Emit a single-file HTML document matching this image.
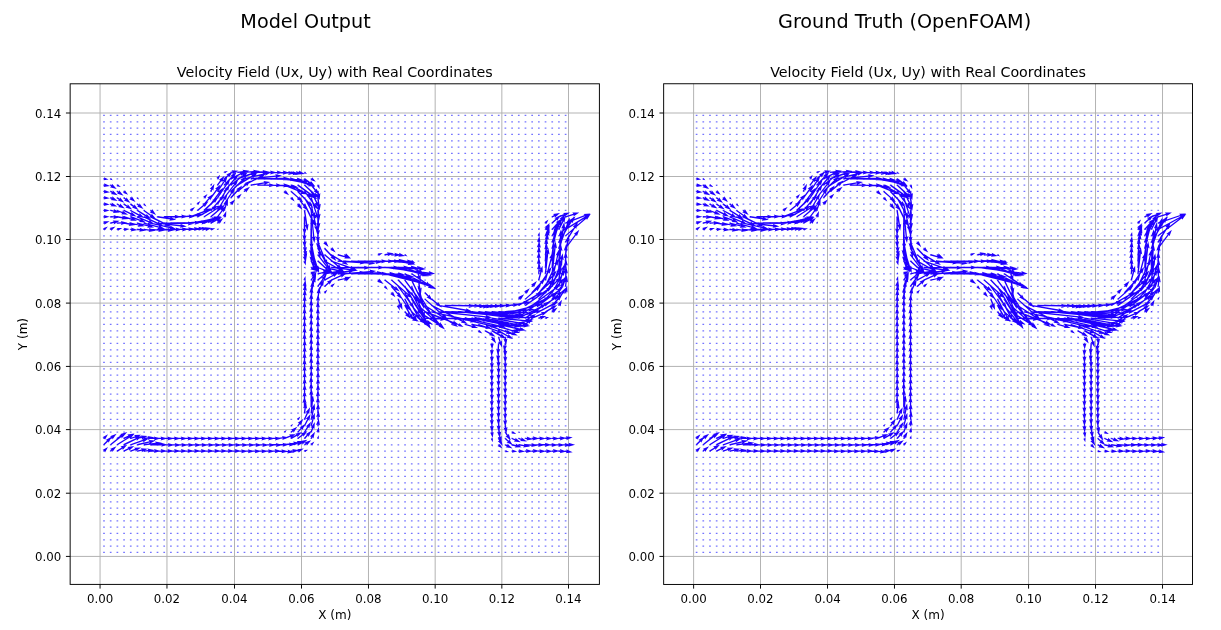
<!DOCTYPE html>
<html><head><meta charset="utf-8"><title>Velocity Field</title><style>
html,body{margin:0;padding:0;background:#fff}
body{width:1221px;height:630px;overflow:hidden}
svg{display:block}
text{font-family:"DejaVu Sans","Liberation Sans",sans-serif;fill:#000}
svg{will-change:transform}
</style></head><body>
<svg width="1221" height="630" viewBox="0 0 1221 630">
<text x="305.55" y="28" text-anchor="middle" font-size="19.2">Model Output</text>
<text x="904.6" y="28" text-anchor="middle" font-size="19.2">Ground Truth (OpenFOAM)</text>
<path d="M100.05 83.8V584.4M166.96 83.8V584.4M234.5 83.8V584.4M301.5 83.8V584.4M368.48 83.8V584.4M435.16 83.8V584.4M501.83 83.8V584.4M568.5 83.8V584.4M70.15 556.41H599.4M70.15 493.21H599.4M70.15 429.62H599.4M70.15 366.41H599.4M70.15 303.1H599.4M70.15 239.5H599.4M70.15 176.5H599.4M70.15 113H599.4" stroke="#b0b0b0" stroke-width="0.96" fill="none"/>
<path d="M103.15 552.44H567.49M103.15 546.11H567.49M103.15 539.78H567.49M103.15 533.44H567.49M103.15 527.11H567.49M103.15 520.78H567.49M103.15 514.44H567.49M103.15 508.11H567.49M103.15 501.78H567.49M103.15 495.44H567.49M103.15 489.11H567.49M103.15 482.78H567.49M103.15 476.44H567.49M103.15 470.11H567.49M103.15 463.78H567.49M103.15 457.44H567.49M103.15 451.11H567.49M103.15 444.78H567.49M103.15 438.44H567.49M103.15 432.11H567.49M103.15 425.78H567.49M103.15 419.44H567.49M103.15 413.11H567.49M103.15 406.78H567.49M103.15 400.44H567.49M103.15 394.11H567.49M103.15 387.77H567.49M103.15 381.44H567.49M103.15 375.11H567.49M103.15 368.77H567.49M103.15 362.44H567.49M103.15 356.11H567.49M103.15 349.77H567.49M103.15 343.44H567.49M103.15 337.11H567.49M103.15 330.77H567.49M103.15 324.44H567.49M103.15 318.11H567.49M103.15 311.77H567.49M103.15 305.44H567.49M103.15 299.11H567.49M103.15 292.77H567.49M103.15 286.44H567.49M103.15 280.11H567.49M103.15 273.77H567.49M103.15 267.44H567.49M103.15 261.11H567.49M103.15 254.77H567.49M103.15 248.44H567.49M103.15 242.11H567.49M103.15 235.77H567.49M103.15 229.44H567.49M103.15 223.11H567.49M103.15 216.77H567.49M103.15 210.44H567.49M103.15 204.11H567.49M103.15 197.77H567.49M103.15 191.44H567.49M103.15 185.11H567.49M103.15 178.77H567.49M103.15 172.44H567.49M103.15 166.11H567.49M103.15 159.77H567.49M103.15 153.44H567.49M103.15 147.11H567.49M103.15 140.77H567.49M103.15 134.44H567.49M103.15 128.11H567.49M103.15 121.77H567.49M103.15 115.44H567.49" stroke="#7474ff" stroke-width="1.25" stroke-dasharray="1.7 4.99" fill="none"/>
<path d="M104.2 451.5l0.4-0.4l0.4 1.3l3.0-5.5l-5.5 3.0l1.3 0.4l-0.4 0.4zM104.2 445.3l3.9-3.9l0.5 1.4l3.3-6.2l-6.2 3.3l1.4 0.5l-3.9 3.9zM104.2 438.9l0.4-0.4l0.4 1.3l3.0-5.5l-5.5 3.0l1.3 0.4l-0.4 0.4zM104.0 229.9l0.4-0.3l0.2 1.1l3.3-4.1l-5.0 1.6l1.0 0.5l-0.4 0.3zM103.9 223.7l0.6-0.2l-0.2 1.3l5.3-3.6l-6.4 0.1l0.9 1.0l-0.6 0.2zM103.7 217.4l0.6-0.0l-0.6 1.2l6.0-1.8l-6.0-1.8l0.6 1.2l-0.6 0.0zM103.7 211.0l0.6 0.0l-0.6 1.2l6.0-1.6l-5.9-1.9l0.6 1.2l-0.6-0.0zM103.7 204.7l0.6 0.0l-0.7 1.2l6.1-1.5l-5.9-2.1l0.5 1.2l-0.6-0.0zM103.7 198.4l0.6 0.0l-0.7 1.2l6.2-1.4l-6.0-2.3l0.5 1.3l-0.6-0.0zM103.7 192.1l0.6 0.1l-0.8 1.2l6.5-1.2l-6.1-2.5l0.5 1.3l-0.6-0.1zM103.7 185.7l0.6 0.1l-0.8 1.2l6.6-1.1l-6.1-2.7l0.5 1.4l-0.6-0.1zM103.7 179.3l0.5 0.1l-0.6 0.9l5.0-0.9l-4.7-2.1l0.4 1.0l-0.5-0.1zM110.9 451.6l1.3-1.1l0.3 1.5l4.0-5.8l-6.5 2.7l1.4 0.6l-1.3 1.1zM110.9 445.3l10.5-8.4l0.3 1.5l4.0-5.8l-6.5 2.6l1.4 0.6l-10.5 8.4zM110.9 439.0l1.3-1.0l0.3 1.5l4.1-5.8l-6.6 2.6l1.4 0.6l-1.3 1.0zM110.7 230.0l0.5-0.3l0.0 1.3l4.3-4.4l-6.0 1.3l1.1 0.8l-0.5 0.3zM110.6 223.8l3.4-0.9l-0.3 1.5l6.0-3.7l-7.0-0.2l1.0 1.1l-3.4 0.9zM110.4 217.4l3.6 0.2l-0.7 1.3l6.8-1.7l-6.6-2.3l0.6 1.4l-3.6-0.2zM110.3 211.1l3.5 0.7l-0.9 1.2l7.0-0.6l-6.2-3.4l0.4 1.5l-3.5-0.7zM110.2 204.7l1.3 0.5l-1.1 1.1l7.0 0.3l-5.7-4.1l0.2 1.5l-1.3-0.5zM110.2 198.4l1.6 0.7l-1.2 0.9l7.0 1.0l-5.3-4.7l0.0 1.5l-1.6-0.7zM110.1 192.0l1.9 1.0l-1.2 0.9l6.9 1.4l-5.0-5.0l-0.0 1.5l-1.9-1.0zM110.1 185.7l1.1 0.7l-1.3 0.8l6.8 1.9l-4.6-5.3l-0.1 1.5l-1.1-0.7zM110.3 179.0l0.2 0.1l-0.5 0.3l2.7 0.8l-1.8-2.1l-0.1 0.6l-0.2-0.1zM117.5 451.7l5.1-3.2l0.1 1.5l4.6-5.3l-6.8 1.9l1.3 0.8l-5.1 3.2zM117.5 445.3l12.4-7.8l0.1 1.5l4.6-5.3l-6.8 1.9l1.3 0.8l-12.4 7.8zM117.5 439.0l5.1-3.2l0.1 1.5l4.6-5.3l-6.8 1.9l1.3 0.8l-5.1 3.2zM117.3 229.9l0.5-0.1l-0.2 1.2l4.7-2.9l-5.5-0.1l0.8 0.9l-0.5 0.1zM117.2 223.8l4.3-0.2l-0.6 1.4l6.7-2.3l-6.8-1.7l0.7 1.3l-4.3 0.2zM117.0 217.4l5.4 1.0l-0.9 1.2l7.0-0.7l-6.3-3.3l0.4 1.5l-5.4-1.0zM116.9 211.1l5.3 2.1l-1.1 1.0l7.0 0.6l-5.6-4.3l0.1 1.5l-5.3-2.1zM116.8 204.7l2.5 1.4l-1.3 0.8l6.9 1.6l-4.8-5.1l-0.1 1.5l-2.5-1.4zM116.7 198.3l2.3 1.6l-1.3 0.7l6.7 2.2l-4.4-5.5l-0.2 1.5l-2.3-1.6zM116.8 192.0l1.4 0.9l-1.3 0.7l6.7 2.1l-4.5-5.5l-0.2 1.5l-1.4-0.9zM116.9 185.5l0.4 0.2l-0.7 0.6l4.2 0.7l-3.2-2.9l0.0 0.9l-0.4-0.2zM124.1 451.7l5.0-2.4l-0.0 1.5l5.2-4.8l-7.0 1.1l1.2 0.9l-5.0 2.4zM124.1 445.4l12.7-6.1l-0.0 1.5l5.2-4.8l-7.0 1.1l1.2 0.9l-12.7 6.1zM124.1 439.1l5.0-2.4l-0.0 1.5l5.2-4.8l-7.0 1.1l1.2 0.9l-5.0 2.4zM123.9 230.0l0.6-0.0l-0.5 1.2l5.6-2.1l-5.9-1.3l0.7 1.1l-0.6 0.0zM123.7 223.8l5.8 0.9l-0.9 1.2l7.0-0.9l-6.3-3.1l0.5 1.4l-5.8-0.9zM123.6 217.4l7.5 2.3l-1.0 1.1l7.0 0.0l-5.9-3.9l0.3 1.5l-7.5-2.3zM123.5 211.0l7.2 3.5l-1.2 0.9l7.0 1.1l-5.2-4.8l0.0 1.5l-7.2-3.5zM123.5 204.7l3.2 2.1l-1.3 0.8l6.8 2.0l-4.5-5.4l-0.2 1.5l-3.2-2.1zM123.4 198.3l1.9 1.4l-1.4 0.7l6.6 2.5l-4.1-5.7l-0.3 1.5l-1.9-1.4zM123.5 191.9l0.4 0.3l-1.1 0.5l5.3 2.1l-3.3-4.7l-0.2 1.2l-0.4-0.3zM123.7 185.2l0.1 0.1l-0.3 0.1l1.3 0.5l-0.9-1.1l-0.0 0.3l-0.1-0.1zM130.7 451.7l4.9-1.7l-0.2 1.5l5.7-4.1l-7.0 0.3l1.1 1.1l-4.9 1.7zM130.7 445.4l12.6-4.4l-0.2 1.5l5.7-4.1l-7.0 0.3l1.1 1.1l-12.6 4.4zM130.7 439.1l4.9-1.7l-0.2 1.5l5.7-4.1l-7.0 0.3l1.1 1.1l-4.9 1.7zM130.5 230.1l0.9 0.1l-0.8 1.3l6.9-1.4l-6.5-2.6l0.5 1.4l-0.9-0.1zM130.4 223.8l8.1 1.8l-1.0 1.2l7.0-0.5l-6.2-3.4l0.4 1.5l-8.1-1.8zM130.3 217.4l9.7 3.7l-1.1 1.0l7.0 0.5l-5.6-4.3l0.2 1.5l-9.7-3.7zM130.2 211.0l8.5 4.7l-1.2 0.9l6.9 1.5l-4.9-5.0l-0.1 1.5l-8.5-4.7zM130.1 204.7l3.1 2.2l-1.3 0.7l6.7 2.3l-4.3-5.6l-0.2 1.5l-3.1-2.2zM130.1 198.3l0.5 0.4l-1.4 0.6l6.3 2.8l-3.7-5.8l-0.4 1.4l-0.5-0.4zM130.4 191.6l0.2 0.1l-0.4 0.2l2.0 1.0l-1.1-1.9l-0.1 0.4l-0.2-0.1zM137.4 451.8l4.6-1.1l-0.4 1.5l6.1-3.5l-7.0-0.5l1.0 1.2l-4.6 1.1zM137.4 445.4l12.4-2.8l-0.4 1.5l6.1-3.5l-7.0-0.5l1.0 1.2l-12.4 2.8zM137.4 439.1l4.6-1.1l-0.4 1.5l6.1-3.5l-7.0-0.5l1.0 1.2l-4.6 1.1zM137.1 230.1l2.9 0.3l-0.8 1.3l6.9-1.3l-6.5-2.7l0.5 1.4l-2.9-0.3zM137.0 223.8l11.1 2.8l-1.0 1.1l7.0-0.3l-6.1-3.6l0.3 1.5l-11.1-2.8zM136.9 217.4l11.9 5.1l-1.2 1.0l7.0 0.8l-5.4-4.5l0.1 1.5l-11.9-5.1zM136.9 211.0l8.8 5.5l-1.3 0.8l6.8 1.8l-4.7-5.3l-0.1 1.5l-8.8-5.5zM136.8 204.6l1.6 1.3l-1.4 0.6l6.5 2.6l-4.0-5.8l-0.3 1.5l-1.6-1.3zM137.0 198.0l0.2 0.2l-0.5 0.2l2.4 1.2l-1.4-2.3l-0.2 0.6l-0.2-0.2zM144.0 451.8l4.3-0.5l-0.5 1.4l6.5-2.8l-6.9-1.3l0.8 1.3l-4.3 0.5zM144.0 445.4l11.9-1.3l-0.5 1.4l6.5-2.8l-6.9-1.3l0.8 1.3l-11.9 1.3zM144.0 439.1l4.3-0.5l-0.5 1.4l6.5-2.8l-6.9-1.3l0.8 1.3l-4.3 0.5zM143.8 230.1l5.5 0.6l-0.8 1.3l6.9-1.3l-6.5-2.7l0.5 1.4l-5.5-0.6zM143.7 223.8l15.0 4.0l-1.0 1.1l7.0-0.2l-6.0-3.7l0.3 1.5l-15.0-4.0zM143.6 217.4l13.9 6.6l-1.2 0.9l7.0 1.1l-5.2-4.7l0.0 1.5l-13.9-6.6zM143.5 211.0l7.1 5.0l-1.3 0.7l6.7 2.2l-4.4-5.5l-0.2 1.5l-7.1-5.0zM143.7 204.4l0.3 0.2l-0.7 0.3l3.2 1.5l-1.9-3.0l-0.2 0.7l-0.3-0.2zM150.6 451.8l4.0 0.0l-0.7 1.3l6.8-2.0l-6.7-2.0l0.7 1.4l-4.0-0.0zM150.6 445.5l11.3-0.0l-0.7 1.3l6.7-2.0l-6.8-2.0l0.7 1.3l-11.3 0.0zM150.6 439.1l4.0-0.0l-0.7 1.4l6.7-2.0l-6.8-2.0l0.7 1.3l-4.0 0.0zM150.5 230.1l8.5 0.7l-0.8 1.3l6.9-1.5l-6.6-2.6l0.6 1.4l-8.5-0.7zM150.4 223.8l19.8 4.5l-1.0 1.2l7.0-0.5l-6.1-3.5l0.4 1.5l-19.8-4.5zM150.3 217.4l15.0 7.3l-1.2 0.9l7.0 1.1l-5.2-4.8l0.0 1.5l-15.0-7.3zM150.2 211.0l0.8 0.6l-1.4 0.6l6.5 2.7l-3.9-5.8l-0.3 1.5l-0.8-0.6zM157.3 451.8l4.0 0.0l-0.7 1.3l6.8-2.0l-6.7-2.0l0.7 1.4l-4.0-0.0zM157.3 445.5l11.3-0.0l-0.7 1.4l6.7-2.0l-6.8-2.0l0.7 1.3l-11.3 0.0zM157.3 439.1l4.0-0.0l-0.7 1.4l6.7-2.0l-6.8-2.0l0.7 1.3l-4.0 0.0zM157.3 230.1l11.0 0.5l-0.7 1.3l6.8-1.7l-6.7-2.3l0.6 1.4l-11.0-0.5zM157.2 223.8l23.5 2.6l-0.8 1.3l6.9-1.3l-6.5-2.7l0.5 1.4l-23.5-2.6zM157.2 217.4l12.9 2.1l-0.9 1.2l7.0-0.9l-6.3-3.1l0.5 1.4l-12.9-2.1zM164.0 451.8l4.0 0.0l-0.7 1.3l6.8-2.0l-6.7-2.0l0.7 1.4l-4.0-0.0zM164.0 445.5l11.4-0.0l-0.7 1.4l6.7-2.0l-6.8-2.0l0.7 1.3l-11.4 0.0zM164.0 439.1l4.0-0.0l-0.7 1.4l6.7-2.0l-6.8-2.0l0.7 1.3l-4.0 0.0zM164.0 230.1l12.1 0.1l-0.7 1.3l6.8-2.0l-6.7-2.1l0.7 1.4l-12.1-0.1zM164.0 223.8l24.5 0.3l-0.7 1.3l6.8-1.9l-6.7-2.1l0.7 1.4l-24.5-0.3zM164.0 217.4l11.1 0.1l-0.7 1.3l6.8-2.0l-6.7-2.1l0.7 1.4l-11.1-0.1zM170.7 451.8l4.0 0.0l-0.7 1.3l6.8-2.0l-6.7-2.0l0.7 1.4l-4.0-0.0zM170.7 445.5l11.4-0.0l-0.7 1.4l6.7-2.0l-6.8-2.0l0.7 1.3l-11.4 0.0zM170.7 439.1l4.0-0.0l-0.7 1.4l6.7-2.0l-6.8-2.0l0.7 1.3l-4.0 0.0zM170.7 230.1l12.0-0.1l-0.7 1.4l6.7-2.1l-6.8-1.9l0.7 1.3l-12.0 0.1zM170.7 223.8l24.6-0.5l-0.7 1.4l6.7-2.1l-6.8-1.9l0.7 1.3l-24.6 0.5zM170.7 217.4l11.3-0.2l-0.7 1.4l6.7-2.1l-6.8-1.9l0.7 1.3l-11.3 0.2zM177.4 451.8l4.1 0.0l-0.7 1.3l6.8-2.0l-6.7-2.0l0.7 1.4l-4.1-0.0zM177.4 445.5l11.5-0.0l-0.7 1.4l6.7-2.0l-6.8-2.0l0.7 1.3l-11.5 0.0zM177.4 439.1l4.1-0.0l-0.7 1.4l6.7-2.0l-6.8-2.0l0.7 1.3l-4.1 0.0zM177.4 230.1l11.5-0.2l-0.6 1.4l6.7-2.2l-6.8-1.9l0.7 1.3l-11.5 0.2zM177.4 223.8l24.7-0.8l-0.6 1.4l6.7-2.2l-6.8-1.8l0.7 1.3l-24.7 0.8zM177.4 217.4l12.0-0.3l-0.6 1.4l6.7-2.2l-6.8-1.9l0.7 1.3l-12.0 0.3zM184.0 451.8l4.1 0.0l-0.7 1.3l6.8-2.0l-6.7-2.0l0.7 1.4l-4.1-0.0zM184.1 445.5l11.5-0.0l-0.7 1.4l6.7-2.0l-6.8-2.0l0.7 1.3l-11.5 0.0zM184.1 439.1l4.1-0.0l-0.7 1.4l6.7-2.0l-6.8-2.0l0.7 1.3l-4.1 0.0zM184.1 230.1l10.5-0.4l-0.6 1.4l6.7-2.3l-6.8-1.7l0.7 1.3l-10.5 0.4zM184.1 223.8l24.4-2.0l-0.6 1.4l6.6-2.6l-6.9-1.5l0.8 1.3l-24.4 2.0zM184.1 217.4l13.8-1.5l-0.5 1.4l6.5-2.7l-6.9-1.3l0.8 1.3l-13.8 1.5zM190.7 451.8l4.1 0.0l-0.7 1.3l6.8-2.0l-6.7-2.0l0.7 1.4l-4.1-0.0zM190.7 445.5l11.6-0.0l-0.7 1.4l6.7-2.0l-6.8-2.0l0.7 1.3l-11.6 0.0zM190.7 439.1l4.1-0.0l-0.7 1.4l6.7-2.0l-6.8-2.0l0.7 1.3l-4.1 0.0zM190.8 230.1l8.3-0.7l-0.6 1.4l6.6-2.6l-6.9-1.5l0.8 1.3l-8.3 0.7zM190.9 223.8l22.0-4.1l-0.4 1.5l6.3-3.2l-7.0-0.7l0.9 1.2l-22.0 4.1zM191.0 217.4l15.8-6.2l-0.1 1.5l5.5-4.4l-7.0 0.6l1.1 1.0l-15.8 6.2zM191.1 210.9l0.4-0.3l0.3 1.2l3.2-4.7l-5.3 2.2l1.1 0.5l-0.4 0.3zM197.4 451.8l4.1 0.0l-0.7 1.3l6.8-2.0l-6.7-2.0l0.7 1.4l-4.1-0.0zM197.4 445.5l11.6-0.0l-0.7 1.4l6.7-2.0l-6.8-2.0l0.7 1.3l-11.6 0.0zM197.4 439.1l4.1-0.0l-0.7 1.4l6.7-2.0l-6.8-2.0l0.7 1.3l-4.1 0.0zM197.5 230.1l5.2-0.6l-0.5 1.4l6.4-2.8l-6.9-1.2l0.8 1.3l-5.2 0.6zM197.6 223.8l17.2-5.0l-0.3 1.5l5.9-3.8l-7.0-0.1l1.0 1.1l-17.2 5.0zM197.7 217.4l15.7-8.3l0.0 1.5l5.0-4.9l-6.9 1.4l1.2 0.9l-15.7 8.3zM197.9 211.0l6.4-5.3l0.3 1.5l3.9-5.9l-6.5 2.8l1.4 0.6l-6.4 5.3zM197.7 204.4l0.3-0.3l0.3 0.9l2.1-4.0l-3.9 2.2l0.9 0.3l-0.3 0.3zM204.1 451.8l4.2 0.0l-0.7 1.3l6.8-2.0l-6.7-2.0l0.7 1.4l-4.2-0.0zM204.1 445.5l11.7-0.0l-0.7 1.4l6.7-2.0l-6.8-2.0l0.7 1.3l-11.7 0.0zM204.1 439.1l4.2-0.0l-0.7 1.4l6.7-2.0l-6.8-2.0l0.7 1.3l-4.2 0.0zM204.2 230.1l1.8-0.3l-0.4 1.4l6.3-3.1l-7.0-0.8l0.9 1.2l-1.8 0.3zM204.4 223.7l11.6-4.5l-0.1 1.5l5.6-4.3l-7.0 0.6l1.1 1.0l-11.6 4.5zM204.5 217.3l13.6-8.8l0.2 1.5l4.6-5.4l-6.8 2.0l1.3 0.8l-13.6 8.8zM204.6 210.9l9.9-9.2l0.4 1.4l3.6-6.1l-6.3 3.1l1.4 0.5l-9.9 9.2zM204.6 204.6l5.0-5.6l0.6 1.4l3.0-6.4l-6.0 3.7l1.5 0.4l-5.0 5.6zM204.5 198.1l0.3-0.4l0.4 1.1l2.3-4.8l-4.5 2.8l1.1 0.3l-0.3 0.4zM210.8 451.8l4.2 0.0l-0.7 1.3l6.8-2.0l-6.7-2.0l0.7 1.4l-4.2-0.0zM210.8 445.5l11.7-0.0l-0.7 1.4l6.7-2.0l-6.8-2.0l0.7 1.3l-11.7 0.0zM210.8 439.1l4.2-0.0l-0.7 1.4l6.7-2.0l-6.8-2.0l0.7 1.3l-4.2 0.0zM210.9 229.9l0.5-0.1l-0.2 1.0l4.1-2.6l-4.9-0.1l0.7 0.8l-0.5 0.1zM211.1 223.7l6.0-3.3l0.1 1.5l4.9-5.0l-6.9 1.5l1.2 0.9l-6.0 3.3zM211.3 217.3l9.7-8.3l0.4 1.5l3.8-5.9l-6.5 2.8l1.4 0.6l-9.7 8.3zM211.3 210.9l9.9-11.5l0.6 1.4l2.9-6.4l-5.9 3.8l1.5 0.4l-9.9 11.5zM211.4 204.5l8.6-11.5l0.7 1.4l2.4-6.6l-5.7 4.2l1.5 0.3l-8.6 11.5zM211.4 198.2l6.1-8.3l0.7 1.3l2.4-6.6l-5.6 4.2l1.5 0.3l-6.1 8.3zM211.4 191.7l1.0-2.1l0.9 1.2l1.1-7.0l-4.7 5.2l1.5-0.0l-1.0 2.1zM211.0 185.3l0.2-0.2l0.3 0.5l0.9-2.7l-2.2 1.8l0.6 0.1l-0.2 0.2zM217.5 451.8l4.2 0.0l-0.7 1.3l6.8-2.0l-6.7-2.0l0.7 1.4l-4.2-0.0zM217.5 445.5l11.7-0.0l-0.7 1.4l6.7-2.0l-6.8-2.0l0.7 1.3l-11.7 0.0zM217.5 439.1l4.2-0.0l-0.7 1.4l6.7-2.0l-6.8-2.0l0.7 1.3l-4.2 0.0zM217.6 229.6l0.1-0.1l0.1 0.4l1.1-1.4l-1.7 0.6l0.3 0.2l-0.1 0.1zM218.0 223.6l1.2-1.1l0.4 1.5l3.7-6.0l-6.4 3.0l1.4 0.6l-1.2 1.1zM218.0 217.2l4.7-6.2l0.7 1.4l2.5-6.6l-5.7 4.2l1.5 0.3l-4.7 6.2zM218.1 210.8l7.0-11.8l0.8 1.3l1.7-6.8l-5.2 4.8l1.5 0.1l-7.0 11.8zM218.1 204.5l9.2-14.7l0.8 1.3l1.9-6.8l-5.3 4.6l1.5 0.1l-9.2 14.7zM218.1 198.1l9.4-13.9l0.7 1.3l2.1-6.7l-5.4 4.5l1.5 0.2l-9.4 13.9zM218.1 191.8l6.7-10.1l0.7 1.3l2.1-6.7l-5.4 4.5l1.5 0.2l-6.7 10.1zM218.0 185.5l3.4-4.5l0.7 1.4l2.4-6.6l-5.7 4.2l1.5 0.3l-3.4 4.5zM217.9 179.0l0.3-0.4l0.5 0.9l1.4-4.8l-3.8 3.2l1.1 0.1l-0.3 0.4zM224.2 451.8l4.2 0.0l-0.7 1.3l6.8-2.0l-6.7-2.0l0.7 1.4l-4.2-0.0zM224.2 445.5l11.8-0.0l-0.7 1.4l6.7-2.0l-6.8-2.0l0.7 1.3l-11.8 0.0zM224.2 439.1l4.2-0.0l-0.7 1.4l6.7-2.0l-6.8-2.0l0.7 1.3l-4.2 0.0zM224.4 223.2l0.1-0.2l0.2 0.4l0.8-2.0l-1.7 1.2l0.4 0.1l-0.1 0.2zM224.8 217.0l0.2-0.6l1.0 1.0l0.3-6.3l-3.7 5.2l1.3-0.2l-0.2 0.6zM224.8 210.7l1.9-5.6l1.1 1.1l0.2-7.0l-4.1 5.7l1.5-0.2l-1.9 5.6zM224.8 204.5l7.5-11.4l0.8 1.3l2.0-6.7l-5.4 4.5l1.5 0.2l-7.5 11.4zM224.7 198.2l10.4-13.5l0.7 1.4l2.5-6.6l-5.7 4.1l1.5 0.3l-10.4 13.5zM224.7 191.9l10.5-12.5l0.6 1.4l2.8-6.5l-5.9 3.9l1.5 0.3l-10.5 12.5zM224.7 185.6l8.3-8.7l0.5 1.4l3.2-6.3l-6.1 3.5l1.4 0.4l-8.3 8.7zM224.6 179.3l4.0-3.3l0.3 1.5l3.9-5.9l-6.5 2.8l1.4 0.6l-4.0 3.3zM224.4 172.8l0.4-0.2l-0.0 0.9l3.1-2.6l-4.0 0.5l0.7 0.6l-0.4 0.2zM230.9 451.8l4.3 0.0l-0.7 1.3l6.8-2.0l-6.7-2.0l0.7 1.4l-4.3-0.0zM230.9 445.5l11.8-0.0l-0.7 1.4l6.7-2.0l-6.8-2.0l0.7 1.3l-11.8 0.0zM230.9 439.1l4.3-0.0l-0.7 1.4l6.7-2.0l-6.8-2.0l0.7 1.3l-4.3 0.0zM231.4 204.5l0.4-0.5l0.5 1.3l2.8-5.8l-5.6 3.3l1.3 0.4l-0.4 0.5zM231.4 198.2l7.2-7.7l0.5 1.4l3.1-6.3l-6.1 3.6l1.4 0.4l-7.2 7.7zM231.4 191.9l11.3-10.9l0.4 1.4l3.5-6.1l-6.3 3.2l1.4 0.5l-11.3 10.9zM231.3 185.6l12.4-9.6l0.3 1.5l4.1-5.7l-6.6 2.5l1.4 0.7l-12.4 9.6zM231.2 179.4l9.7-5.0l0.0 1.5l5.1-4.9l-6.9 1.3l1.2 0.9l-9.7 5.0zM231.0 173.1l1.8-0.4l-0.4 1.5l6.1-3.5l-7.0-0.5l1.0 1.2l-1.8 0.4zM237.6 451.8l4.3-0.0l-0.7 1.4l6.7-2.0l-6.8-2.0l0.7 1.3l-4.3 0.0zM237.6 445.5l11.9-0.0l-0.7 1.4l6.7-2.0l-6.8-2.0l0.7 1.3l-11.9 0.0zM237.6 439.1l4.3-0.0l-0.7 1.4l6.7-2.0l-6.8-2.0l0.7 1.3l-4.3 0.0zM238.0 198.2l0.4-0.4l0.4 1.2l2.9-5.2l-5.3 2.8l1.2 0.4l-0.4 0.4zM238.0 192.0l8.6-7.1l0.3 1.5l3.9-5.9l-6.5 2.8l1.4 0.6l-8.6 7.1zM237.9 185.7l14.9-9.0l0.1 1.5l4.7-5.2l-6.8 1.8l1.3 0.8l-14.9 9.0zM237.8 179.4l15.5-5.5l-0.2 1.5l5.7-4.2l-7.0 0.3l1.1 1.0l-15.5 5.5zM237.7 173.1l5.8-0.8l-0.5 1.4l6.4-2.9l-7.0-1.1l0.9 1.2l-5.8 0.8zM244.3 451.8l4.3-0.0l-0.7 1.4l6.7-2.0l-6.8-2.0l0.7 1.3l-4.3 0.0zM244.3 445.5l11.9-0.0l-0.7 1.4l6.7-2.0l-6.8-2.0l0.7 1.3l-11.9 0.0zM244.3 439.1l4.3-0.0l-0.7 1.4l6.7-2.0l-6.8-2.0l0.7 1.3l-4.3 0.0zM244.7 192.0l1.1-0.9l0.4 1.5l3.8-5.9l-6.5 2.8l1.4 0.6l-1.1 0.9zM244.6 185.7l15.8-8.1l0.0 1.5l5.1-4.9l-6.9 1.3l1.2 0.9l-15.8 8.1zM244.4 179.4l21.1-5.1l-0.3 1.5l6.1-3.5l-7.0-0.4l1.0 1.2l-21.1 5.1zM244.3 173.1l9.6-0.8l-0.6 1.4l6.6-2.6l-6.9-1.4l0.8 1.3l-9.6 0.8zM251.0 451.8l4.4-0.0l-0.7 1.4l6.7-2.0l-6.8-2.0l0.7 1.3l-4.4 0.0zM251.0 445.5l12.0-0.0l-0.7 1.4l6.7-2.0l-6.8-2.0l0.7 1.3l-12.0 0.0zM251.0 439.1l4.4-0.0l-0.7 1.4l6.7-2.0l-6.8-2.0l0.7 1.3l-4.4 0.0zM251.1 185.8l13.5-2.2l-0.5 1.4l6.3-3.1l-7.0-0.9l0.9 1.2l-13.5 2.2zM251.0 179.4l25.0-2.6l-0.5 1.4l6.5-2.7l-6.9-1.3l0.8 1.3l-25.0 2.6zM251.0 173.1l12.2-0.5l-0.6 1.4l6.7-2.3l-6.8-1.8l0.7 1.3l-12.2 0.5zM257.7 451.8l4.4-0.0l-0.7 1.4l6.7-2.0l-6.8-2.0l0.7 1.3l-4.4 0.0zM257.7 445.5l12.0-0.0l-0.7 1.4l6.7-2.0l-6.8-2.0l0.7 1.3l-12.0 0.0zM257.7 439.1l4.4-0.0l-0.7 1.4l6.7-2.0l-6.8-2.0l0.7 1.3l-4.4 0.0zM257.7 185.8l11.8-0.0l-0.7 1.4l6.7-2.0l-6.8-2.0l0.7 1.3l-11.8 0.0zM257.7 179.4l26.1-0.2l-0.7 1.4l6.7-2.1l-6.8-2.0l0.7 1.3l-26.1 0.2zM257.7 173.1l13.2-0.0l-0.7 1.4l6.7-2.0l-6.8-2.0l0.7 1.3l-13.2 0.0zM264.4 451.8l4.4-0.0l-0.7 1.4l6.7-2.0l-6.8-2.0l0.7 1.3l-4.4 0.0zM264.4 445.5l12.1-0.0l-0.7 1.4l6.7-2.0l-6.8-2.0l0.7 1.3l-12.1 0.0zM264.4 439.1l4.4-0.0l-0.7 1.4l6.7-2.0l-6.8-2.0l0.7 1.3l-4.4 0.0zM264.3 185.8l12.2 0.2l-0.7 1.3l6.8-1.9l-6.7-2.1l0.7 1.4l-12.2-0.2zM264.3 179.4l26.2 0.6l-0.7 1.3l6.8-1.9l-6.7-2.2l0.6 1.4l-26.2-0.6zM264.3 173.1l13.0 0.2l-0.7 1.3l6.8-1.9l-6.7-2.1l0.7 1.4l-13.0-0.2zM271.0 451.8l4.4-0.0l-0.7 1.4l6.7-2.1l-6.8-2.0l0.7 1.3l-4.4 0.0zM271.1 445.5l12.1-0.1l-0.7 1.4l6.7-2.1l-6.8-2.0l0.7 1.3l-12.1 0.1zM271.1 439.1l4.5-0.0l-0.7 1.4l6.7-2.1l-6.8-2.0l0.7 1.3l-4.5 0.0zM271.0 185.8l13.0 0.3l-0.7 1.3l6.8-1.9l-6.7-2.2l0.6 1.4l-13.0-0.3zM271.0 179.4l26.3 1.0l-0.7 1.3l6.8-1.8l-6.7-2.3l0.6 1.4l-26.3-1.0zM271.0 173.1l12.4 0.3l-0.7 1.3l6.8-1.9l-6.7-2.2l0.6 1.4l-12.4-0.3zM277.7 451.8l4.3 0.1l-0.7 1.3l6.8-1.8l-6.7-2.2l0.6 1.4l-4.3-0.1zM277.8 445.5l11.8-0.4l-0.6 1.4l6.7-2.3l-6.8-1.8l0.7 1.3l-11.8 0.4zM277.8 439.1l5.1-0.5l-0.6 1.4l6.5-2.6l-6.9-1.4l0.8 1.3l-5.1 0.5zM277.7 185.8l15.0 1.6l-0.8 1.3l6.9-1.3l-6.5-2.8l0.5 1.4l-15.0-1.6zM277.7 179.4l26.0 2.3l-0.8 1.3l6.9-1.4l-6.5-2.6l0.6 1.4l-26.0-2.3zM277.7 173.1l11.2 0.5l-0.7 1.3l6.8-1.7l-6.7-2.3l0.6 1.4l-11.2-0.5zM284.4 451.8l3.6 0.4l-0.8 1.3l6.9-1.2l-6.5-2.8l0.5 1.4l-3.6-0.4zM284.5 445.4l9.7-1.2l-0.5 1.4l6.4-2.9l-7.0-1.2l0.8 1.3l-9.7 1.2zM284.7 439.1l5.9-2.3l-0.1 1.5l5.5-4.4l-7.0 0.6l1.1 1.0l-5.9 2.3zM284.6 432.3l0.2-0.2l0.2 0.7l1.8-2.7l-3.0 1.3l0.6 0.3l-0.2 0.2zM284.0 191.9l0.5 0.4l-1.2 0.5l5.8 2.5l-3.5-5.2l-0.3 1.3l-0.5-0.4zM284.2 185.7l17.2 7.0l-1.1 1.0l7.0 0.7l-5.5-4.4l0.1 1.5l-17.2-7.0zM284.3 179.4l23.3 4.6l-0.9 1.2l7.0-0.7l-6.2-3.3l0.4 1.5l-23.3-4.6zM284.4 173.1l8.8 0.8l-0.8 1.3l6.9-1.4l-6.5-2.6l0.6 1.4l-8.8-0.8zM291.1 457.6l0.2 0.0l-0.2 0.4l2.0-0.6l-2.0-0.6l0.2 0.4l-0.2-0.0zM291.2 451.8l1.9-0.2l-0.5 1.4l6.5-2.8l-6.9-1.2l0.8 1.3l-1.9 0.2zM291.3 445.4l6.7-2.0l-0.3 1.5l5.9-3.9l-7.0 0.0l1.0 1.1l-6.7 2.0zM291.5 439.0l5.7-3.3l0.1 1.5l4.8-5.1l-6.9 1.6l1.3 0.8l-5.7 3.3zM291.6 432.6l1.6-1.4l0.4 1.5l3.7-6.0l-6.4 3.0l1.4 0.6l-1.6 1.4zM291.3 426.0l0.2-0.2l0.2 0.6l1.3-2.5l-2.5 1.4l0.6 0.2l-0.2 0.2zM290.7 198.1l0.4 0.4l-1.1 0.3l4.7 2.7l-2.4-4.8l-0.4 1.1l-0.4-0.4zM290.7 191.9l7.6 6.7l-1.4 0.6l6.4 3.0l-3.7-6.0l-0.4 1.5l-7.6-6.7zM290.8 185.7l17.0 9.7l-1.3 0.8l6.9 1.6l-4.9-5.1l-0.1 1.5l-17.0-9.7zM290.9 179.4l18.0 5.8l-1.1 1.1l7.0 0.1l-5.8-4.0l0.2 1.5l-18.0-5.8zM291.0 173.1l5.3 0.8l-0.9 1.2l7.0-1.1l-6.4-3.0l0.5 1.4l-5.3-0.8zM298.1 451.7l0.6-0.3l-0.1 1.4l5.2-4.3l-6.7 0.8l1.1 0.9l-0.6 0.3zM298.1 445.4l4.2-2.2l0.0 1.5l5.1-4.9l-6.9 1.3l1.2 0.9l-4.2 2.2zM298.2 439.0l4.9-3.8l0.3 1.5l4.1-5.7l-6.6 2.6l1.4 0.6l-4.9 3.8zM298.3 432.6l3.5-3.9l0.6 1.4l3.0-6.4l-6.0 3.7l1.5 0.4l-3.5 3.9zM298.4 426.2l1.7-2.2l0.7 1.4l2.5-6.6l-5.7 4.1l1.5 0.3l-1.7 2.2zM298.1 419.7l0.2-0.3l0.4 0.8l1.6-3.7l-3.4 2.3l0.8 0.2l-0.2 0.3zM297.3 204.5l0.8 1.0l-1.5 0.3l5.8 3.9l-2.7-6.5l-0.6 1.4l-0.8-1.0zM297.3 198.2l6.6 8.4l-1.5 0.3l5.8 4.1l-2.6-6.6l-0.6 1.4l-6.6-8.4zM297.3 191.9l11.1 11.6l-1.4 0.4l6.1 3.5l-3.2-6.3l-0.5 1.4l-11.1-11.6zM297.4 185.7l14.5 10.5l-1.3 0.7l6.7 2.3l-4.3-5.6l-0.2 1.5l-14.5-10.5zM297.5 179.4l11.6 5.5l-1.2 0.9l7.0 1.1l-5.2-4.7l0.0 1.5l-11.6-5.5zM297.7 173.1l1.3 0.3l-1.0 1.1l7.0-0.4l-6.1-3.6l0.3 1.5l-1.3-0.3zM304.6 451.5l0.4-0.1l-0.1 0.9l3.2-2.5l-4.0 0.3l0.6 0.6l-0.4 0.1zM304.9 445.3l1.7-1.1l0.2 1.5l4.4-5.5l-6.7 2.1l1.3 0.7l-1.7 1.1zM305.0 438.9l3.1-3.4l0.5 1.4l3.1-6.3l-6.1 3.6l1.5 0.4l-3.1 3.4zM305.1 432.5l3.3-5.2l0.8 1.3l1.9-6.8l-5.3 4.6l1.5 0.2l-3.3 5.2zM305.1 426.1l3.3-6.4l0.9 1.2l1.3-6.9l-4.9 5.1l1.5 0.0l-3.3 6.4zM305.1 419.7l3.1-6.7l0.9 1.2l1.0-7.0l-4.7 5.3l1.5-0.0l-3.1 6.7zM305.2 413.2l0.7-5.3l1.2 0.9l-1.1-7.0l-2.9 6.4l1.4-0.5l-0.7 5.3zM305.2 406.8l0.0-4.4l1.3 0.7l-2.0-6.8l-2.1 6.7l1.4-0.7l-0.0 4.4zM305.2 400.4l-0.0-4.5l1.4 0.7l-2.1-6.7l-2.0 6.8l1.3-0.7l0.0 4.5zM305.2 394.1l-0.0-4.6l1.4 0.7l-2.0-6.7l-2.0 6.8l1.3-0.7l0.0 4.6zM305.2 387.8l-0.0-4.7l1.4 0.7l-2.0-6.7l-2.0 6.8l1.3-0.7l0.0 4.7zM305.2 381.4l-0.0-4.7l1.4 0.7l-2.0-6.7l-2.0 6.8l1.3-0.7l0.0 4.7zM305.2 375.1l0.0-4.8l1.3 0.7l-2.0-6.8l-2.0 6.7l1.4-0.7l-0.0 4.8zM305.2 368.8l0.0-4.8l1.3 0.7l-2.0-6.8l-2.0 6.7l1.4-0.7l-0.0 4.8zM305.2 362.4l0.0-4.8l1.3 0.7l-2.0-6.8l-2.0 6.7l1.4-0.7l-0.0 4.8zM305.2 356.1l-0.0-4.9l1.4 0.7l-2.0-6.7l-2.0 6.8l1.3-0.7l0.0 4.9zM305.2 349.8l-0.0-4.9l1.4 0.7l-2.0-6.7l-2.0 6.8l1.3-0.7l0.0 4.9zM305.2 343.4l0.0-4.9l1.3 0.7l-2.0-6.8l-2.0 6.7l1.4-0.7l-0.0 4.9zM305.2 337.1l0.0-4.9l1.3 0.7l-2.0-6.8l-2.0 6.7l1.4-0.7l-0.0 4.9zM305.2 330.8l0.0-5.0l1.3 0.7l-2.0-6.8l-2.0 6.7l1.4-0.7l-0.0 5.0zM305.2 324.4l0.0-5.0l1.3 0.7l-2.0-6.8l-2.0 6.7l1.4-0.7l-0.0 5.0zM305.2 318.1l0.0-5.0l1.3 0.7l-2.0-6.8l-2.0 6.7l1.4-0.7l-0.0 5.0zM305.2 311.8l0.0-5.0l1.3 0.7l-2.0-6.8l-2.0 6.7l1.4-0.7l-0.0 5.0zM305.2 305.4l0.1-4.9l1.3 0.7l-1.9-6.8l-2.1 6.7l1.4-0.7l-0.1 4.9zM305.2 299.1l0.2-4.3l1.3 0.7l-1.8-6.8l-2.3 6.7l1.4-0.6l-0.2 4.3zM305.2 292.8l0.3-2.9l1.3 0.8l-1.4-6.9l-2.6 6.5l1.4-0.6l-0.3 2.9zM305.2 286.5l0.1-0.7l1.2 0.9l-1.0-7.0l-3.0 6.4l1.4-0.5l-0.1 0.7zM304.9 280.2l0.1-0.4l0.7 0.6l-0.2-4.4l-2.2 3.8l0.9-0.2l-0.1 0.4zM304.7 273.9l0.1-0.2l0.2 0.4l0.5-1.8l-1.5 1.3l0.4 0.0l-0.1 0.2zM304.4 267.5l0.1 0.1l-0.4 0.1l1.5 1.1l-0.6-1.8l-0.2 0.4l-0.1-0.1zM304.1 261.2l0.1 0.4l-1.0-0.2l2.6 4.1l0.1-4.8l-0.8 0.7l-0.1-0.4zM303.8 254.9l0.4 2.0l-1.5-0.4l3.2 6.3l0.7-7.0l-1.2 0.9l-0.4-2.0zM303.8 248.5l0.8 5.9l-1.4-0.5l2.9 6.4l1.1-7.0l-1.2 0.9l-0.8-5.9zM303.8 242.2l0.8 9.5l-1.4-0.6l2.6 6.6l1.4-6.9l-1.3 0.8l-0.8-9.5zM303.8 235.8l0.5 11.9l-1.4-0.6l2.3 6.7l1.8-6.8l-1.3 0.7l-0.5-11.9zM303.8 229.4l0.1 12.7l-1.4-0.7l2.1 6.7l2.0-6.8l-1.3 0.7l-0.1-12.7zM303.8 223.1l-0.1 12.7l-1.3-0.7l2.0 6.8l2.1-6.7l-1.4 0.7l0.1-12.7zM303.8 216.8l0.1 12.5l-1.4-0.7l2.1 6.7l2.0-6.8l-1.3 0.7l-0.1-12.5zM303.8 210.5l2.2 14.4l-1.4-0.5l3.0 6.4l1.0-7.0l-1.2 0.9l-2.2-14.4zM303.9 204.4l8.0 16.5l-1.5-0.0l4.8 5.2l-1.1-7.0l-0.9 1.2l-8.0-16.5zM303.9 198.1l8.8 15.8l-1.5 0.1l5.1 4.9l-1.5-6.9l-0.9 1.2l-8.8-15.8zM304.0 191.8l10.0 13.5l-1.5 0.3l5.7 4.2l-2.4-6.6l-0.7 1.3l-10.0-13.5zM304.0 185.6l10.1 9.3l-1.4 0.5l6.3 3.1l-3.6-6.1l-0.4 1.4l-10.1-9.3zM304.1 179.3l5.7 4.0l-1.3 0.7l6.7 2.2l-4.4-5.5l-0.2 1.5l-5.7-4.0zM304.3 172.7l0.3 0.2l-0.6 0.3l3.0 0.9l-2.0-2.4l-0.1 0.7l-0.3-0.2zM311.3 451.3l0.1-0.1l-0.0 0.4l1.2-1.1l-1.6 0.2l0.3 0.2l-0.1 0.1zM311.5 445.1l0.3-0.3l0.3 1.0l2.3-4.3l-4.3 2.4l1.0 0.3l-0.3 0.3zM311.8 438.8l0.8-1.5l0.8 1.3l1.6-6.9l-5.1 4.9l1.5 0.1l-0.8 1.5zM311.8 432.3l1.6-4.3l1.0 1.1l0.5-7.0l-4.3 5.6l1.5-0.2l-1.6 4.3zM311.8 426.0l2.0-7.2l1.1 1.0l-0.1-7.0l-3.8 5.9l1.5-0.3l-2.0 7.2zM311.9 419.6l2.1-10.1l1.2 0.9l-0.6-7.0l-3.4 6.2l1.5-0.4l-2.1 10.1zM311.9 413.2l1.1-12.0l1.3 0.8l-1.4-6.9l-2.6 6.5l1.4-0.6l-1.1 12.0zM311.9 406.8l0.1-12.4l1.3 0.7l-2.0-6.8l-2.1 6.7l1.4-0.7l-0.1 12.4zM311.9 400.4l-0.1-12.5l1.4 0.7l-2.1-6.7l-2.0 6.8l1.3-0.7l0.1 12.5zM311.9 394.1l-0.1-12.5l1.4 0.7l-2.1-6.7l-2.0 6.8l1.3-0.7l0.1 12.5zM311.9 387.8l-0.0-12.6l1.4 0.7l-2.0-6.7l-2.0 6.8l1.3-0.7l0.0 12.6zM311.9 381.4l-0.0-12.6l1.4 0.7l-2.0-6.7l-2.0 6.8l1.3-0.7l0.0 12.6zM311.9 375.1l0.0-12.7l1.3 0.7l-2.0-6.8l-2.0 6.7l1.4-0.7l-0.0 12.7zM311.9 368.8l0.0-12.7l1.3 0.7l-2.0-6.8l-2.0 6.7l1.4-0.7l-0.0 12.7zM311.9 362.4l0.0-12.8l1.3 0.7l-2.0-6.8l-2.0 6.7l1.4-0.7l-0.0 12.8zM311.9 356.1l0.0-12.8l1.3 0.7l-2.0-6.8l-2.0 6.7l1.4-0.7l-0.0 12.8zM311.9 349.8l-0.0-12.9l1.4 0.7l-2.0-6.7l-2.0 6.8l1.3-0.7l0.0 12.9zM311.9 343.4l0.0-12.9l1.3 0.7l-2.0-6.8l-2.0 6.7l1.4-0.7l-0.0 12.9zM311.9 337.1l0.0-13.0l1.3 0.7l-2.0-6.8l-2.0 6.7l1.4-0.7l-0.0 13.0zM311.9 330.8l0.0-13.1l1.3 0.7l-2.0-6.8l-2.0 6.7l1.4-0.7l-0.0 13.1zM311.9 324.4l0.0-13.1l1.3 0.7l-2.0-6.8l-2.0 6.7l1.4-0.7l-0.0 13.1zM311.9 318.1l0.0-13.2l1.3 0.7l-2.0-6.8l-2.0 6.7l1.4-0.7l-0.0 13.2zM311.9 311.8l0.1-13.2l1.3 0.7l-2.0-6.8l-2.1 6.7l1.4-0.7l-0.1 13.2zM311.9 305.5l0.3-13.3l1.3 0.7l-1.9-6.8l-2.2 6.7l1.4-0.6l-0.3 13.3zM311.9 299.2l1.1-13.0l1.3 0.8l-1.4-6.9l-2.6 6.6l1.4-0.6l-1.1 13.0zM311.9 292.9l2.5-11.2l1.2 0.9l-0.5-7.0l-3.4 6.2l1.5-0.4l-2.5 11.2zM311.8 286.7l2.9-7.7l1.0 1.1l0.5-7.0l-4.3 5.6l1.5-0.2l-2.9 7.7zM311.8 280.5l2.1-3.4l0.8 1.3l1.8-6.8l-5.3 4.7l1.5 0.1l-2.1 3.4zM311.5 274.3l0.5-0.3l0.0 1.4l4.6-4.5l-6.3 1.2l1.1 0.8l-0.5 0.3zM310.8 268.0l0.8 0.5l-1.3 0.8l6.8 2.0l-4.5-5.4l-0.2 1.5l-0.8-0.5zM310.6 261.5l3.5 5.6l-1.5 0.1l5.3 4.6l-1.9-6.8l-0.8 1.3l-3.5-5.6zM310.6 255.0l5.3 12.3l-1.5-0.1l4.5 5.4l-0.8-7.0l-1.0 1.2l-5.3-12.3zM310.6 248.6l6.0 19.1l-1.5-0.2l4.0 5.8l-0.1-7.0l-1.1 1.1l-6.0-19.1zM310.5 242.2l4.8 24.7l-1.5-0.4l3.3 6.2l0.7-7.0l-1.2 0.9l-4.8-24.7zM310.5 235.8l2.2 27.5l-1.4-0.6l2.6 6.6l1.5-6.9l-1.3 0.8l-2.2-27.5zM310.5 229.5l0.4 27.8l-1.4-0.7l2.1 6.7l1.9-6.8l-1.3 0.7l-0.4-27.8zM310.5 223.1l-0.2 27.7l-1.3-0.7l2.0 6.8l2.1-6.7l-1.4 0.7l0.2-27.7zM310.5 216.8l0.4 27.5l-1.4-0.7l2.1 6.7l1.9-6.8l-1.3 0.7l-0.4-27.5zM310.5 210.5l2.6 26.5l-1.4-0.5l2.7 6.5l1.3-6.9l-1.3 0.8l-2.6-26.5zM310.5 204.3l5.0 22.4l-1.5-0.4l3.4 6.2l0.5-7.0l-1.2 1.0l-5.0-22.4zM310.6 198.0l5.5 17.0l-1.5-0.2l4.0 5.8l-0.1-7.0l-1.1 1.1l-5.5-17.0zM310.6 191.7l5.5 11.3l-1.5-0.0l4.8 5.2l-1.1-7.0l-0.9 1.2l-5.5-11.3zM310.7 185.5l4.2 5.2l-1.5 0.3l5.9 3.9l-2.7-6.5l-0.6 1.4l-4.2-5.2zM310.9 179.2l0.5 0.3l-1.1 0.6l5.6 1.6l-3.8-4.4l-0.1 1.2l-0.5-0.3zM318.0 444.8l0.1-0.1l0.2 0.3l0.2-1.6l-1.1 1.2l0.4-0.0l-0.1 0.1zM318.2 438.5l0.1-0.3l0.6 0.5l-0.2-3.5l-1.8 3.1l0.7-0.2l-0.1 0.3zM318.4 432.2l0.1-0.5l1.0 0.7l-0.8-5.5l-2.4 5.0l1.1-0.4l-0.1 0.5zM318.6 425.8l0.1-1.2l1.3 0.8l-1.3-6.9l-2.7 6.5l1.4-0.5l-0.1 1.2zM318.6 419.5l0.2-3.0l1.3 0.8l-1.5-6.9l-2.5 6.6l1.4-0.6l-0.2 3.0zM318.6 413.1l0.1-4.3l1.3 0.7l-1.8-6.8l-2.3 6.7l1.4-0.6l-0.1 4.3zM318.6 406.8l0.0-4.8l1.3 0.7l-2.0-6.8l-2.0 6.7l1.4-0.7l-0.0 4.8zM318.6 400.4l-0.0-4.8l1.4 0.7l-2.1-6.7l-2.0 6.8l1.3-0.7l0.0 4.8zM318.6 394.1l-0.0-4.7l1.4 0.7l-2.0-6.7l-2.0 6.8l1.3-0.7l0.0 4.7zM318.6 387.8l-0.0-4.7l1.4 0.7l-2.0-6.7l-2.0 6.8l1.3-0.7l0.0 4.7zM318.6 381.4l-0.0-4.7l1.4 0.7l-2.0-6.7l-2.0 6.8l1.3-0.7l0.0 4.7zM318.6 375.1l0.0-4.8l1.3 0.7l-2.0-6.8l-2.0 6.7l1.4-0.7l-0.0 4.8zM318.6 368.8l0.0-4.8l1.3 0.7l-2.0-6.8l-2.0 6.7l1.4-0.7l-0.0 4.8zM318.6 362.4l0.0-4.8l1.3 0.7l-2.0-6.8l-2.0 6.7l1.4-0.7l-0.0 4.8zM318.6 356.1l0.0-4.9l1.3 0.7l-2.0-6.8l-2.0 6.7l1.4-0.7l-0.0 4.9zM318.6 349.8l0.0-4.9l1.3 0.7l-2.0-6.8l-2.0 6.7l1.4-0.7l-0.0 4.9zM318.6 343.4l0.0-4.9l1.3 0.7l-2.0-6.8l-2.0 6.7l1.4-0.7l-0.0 4.9zM318.6 337.1l0.0-4.9l1.3 0.7l-2.0-6.8l-2.0 6.7l1.4-0.7l-0.0 4.9zM318.6 330.8l0.0-5.0l1.3 0.7l-2.0-6.8l-2.0 6.7l1.4-0.7l-0.0 5.0zM318.6 324.4l0.0-5.0l1.3 0.7l-2.0-6.8l-2.0 6.7l1.4-0.7l-0.0 5.0zM318.6 318.1l0.0-5.1l1.3 0.7l-2.0-6.8l-2.0 6.7l1.4-0.7l-0.0 5.1zM318.6 311.8l0.0-5.1l1.3 0.7l-2.0-6.8l-2.0 6.7l1.4-0.7l-0.0 5.1zM318.6 305.4l0.1-5.3l1.3 0.7l-1.9-6.8l-2.1 6.7l1.4-0.7l-0.1 5.3zM318.6 299.2l0.7-6.3l1.3 0.8l-1.2-6.9l-2.8 6.5l1.4-0.5l-0.7 6.3zM318.5 293.1l3.7-7.8l0.9 1.2l1.0-7.0l-4.7 5.3l1.5-0.0l-3.7 7.8zM318.4 286.8l5.4-7.5l0.7 1.3l2.3-6.7l-5.6 4.3l1.5 0.2l-5.4 7.5zM318.3 280.6l6.0-5.1l0.4 1.5l3.8-5.9l-6.5 2.8l1.4 0.6l-6.0 5.1zM318.0 274.4l5.9-1.4l-0.3 1.5l6.1-3.5l-7.0-0.4l1.0 1.2l-5.9 1.4zM317.6 268.1l7.4 2.9l-1.1 1.0l7.0 0.6l-5.6-4.3l0.1 1.5l-7.4-2.9zM317.4 261.6l9.8 8.9l-1.4 0.5l6.4 3.0l-3.6-6.0l-0.4 1.5l-9.8-8.9zM317.4 255.2l11.1 14.6l-1.5 0.3l5.7 4.1l-2.5-6.6l-0.7 1.4l-11.1-14.6zM317.3 248.8l10.4 17.9l-1.5 0.1l5.1 4.8l-1.6-6.9l-0.8 1.3l-10.4-17.9zM317.3 242.4l7.5 18.3l-1.5-0.1l4.4 5.5l-0.7-7.0l-1.0 1.1l-7.5-18.3zM317.2 235.8l1.7 16.1l-1.4-0.5l2.7 6.5l1.3-6.9l-1.3 0.8l-1.7-16.1zM317.2 229.4l0.2 14.4l-1.4-0.7l2.1 6.7l1.9-6.8l-1.3 0.7l-0.2-14.4zM317.2 223.1l-0.0 14.2l-1.3-0.7l2.0 6.8l2.0-6.7l-1.4 0.7l0.0-14.2zM317.2 216.8l0.1 14.1l-1.4-0.7l2.1 6.7l2.0-6.8l-1.3 0.7l-0.1-14.1zM317.2 210.5l0.5 13.1l-1.4-0.6l2.3 6.7l1.8-6.8l-1.3 0.7l-0.5-13.1zM317.2 204.2l0.8 10.5l-1.4-0.6l2.5 6.6l1.5-6.9l-1.3 0.8l-0.8-10.5zM317.2 197.9l0.9 6.9l-1.4-0.5l2.9 6.4l1.2-7.0l-1.3 0.8l-0.9-6.9zM317.2 191.6l0.6 2.7l-1.5-0.4l3.4 6.2l0.6-7.0l-1.2 0.9l-0.6-2.7zM317.5 185.3l0.2 0.4l-1.0-0.1l3.0 3.7l-0.5-4.7l-0.7 0.8l-0.2-0.4zM324.9 293.1l0.3-0.3l0.3 0.9l1.8-3.9l-3.7 2.2l0.9 0.2l-0.3 0.3zM325.0 286.9l4.1-3.7l0.4 1.5l3.7-6.0l-6.4 3.0l1.4 0.6l-4.1 3.7zM324.9 280.7l8.9-4.9l0.1 1.5l4.9-5.0l-6.9 1.5l1.2 0.9l-8.9 4.9zM324.7 274.4l12.1-1.9l-0.5 1.4l6.4-3.0l-7.0-1.0l0.9 1.2l-12.1 1.9zM324.4 268.1l14.4 3.3l-1.0 1.2l7.0-0.5l-6.1-3.5l0.4 1.5l-14.4-3.3zM324.3 261.7l15.5 8.6l-1.2 0.9l6.9 1.5l-4.9-5.0l-0.1 1.5l-15.5-8.6zM324.2 255.3l13.3 11.1l-1.4 0.6l6.5 2.8l-3.9-5.9l-0.3 1.5l-13.3-11.1zM324.1 248.9l7.6 8.1l-1.4 0.4l6.1 3.5l-3.1-6.3l-0.5 1.4l-7.6-8.1zM324.1 242.5l0.4 0.5l-1.4 0.3l5.5 3.6l-2.6-6.0l-0.6 1.3l-0.4-0.5zM331.6 286.8l0.4-0.3l0.2 1.0l2.8-4.2l-4.6 2.0l1.0 0.4l-0.4 0.3zM331.6 280.7l9.9-4.5l-0.1 1.5l5.3-4.6l-7.0 1.0l1.2 0.9l-9.9 4.5zM331.4 274.4l17.7-2.5l-0.5 1.4l6.4-2.9l-7.0-1.1l0.9 1.2l-17.7 2.5zM331.2 268.1l20.7 2.4l-0.8 1.3l6.9-1.2l-6.5-2.8l0.5 1.4l-20.7-2.4zM331.1 261.7l19.6 6.7l-1.1 1.1l7.0 0.3l-5.7-4.1l0.2 1.5l-19.6-6.7zM330.9 255.4l11.9 7.1l-1.3 0.8l6.8 1.7l-4.8-5.2l-0.1 1.5l-11.9-7.1zM330.9 248.9l0.4 0.4l-1.2 0.5l5.6 2.6l-3.3-5.3l-0.3 1.3l-0.4-0.4zM338.1 280.8l7.4-1.7l-0.3 1.5l6.1-3.5l-7.0-0.4l1.0 1.2l-7.4 1.7zM338.0 274.4l21.9-1.0l-0.6 1.4l6.7-2.3l-6.8-1.7l0.7 1.3l-21.9 1.0zM338.0 268.1l26.5 0.3l-0.7 1.3l6.8-1.9l-6.7-2.1l0.7 1.4l-26.5-0.3zM337.9 261.8l22.5 1.5l-0.8 1.3l6.9-1.6l-6.6-2.5l0.6 1.4l-22.5-1.5zM337.8 255.4l7.4 2.1l-1.0 1.1l7.0-0.1l-6.0-3.8l0.3 1.5l-7.4-2.1zM345.0 280.7l1.2-0.7l0.1 1.5l4.9-5.1l-6.9 1.6l1.3 0.8l-1.2 0.7zM344.7 274.4l25.5-2.1l-0.6 1.4l6.6-2.6l-6.9-1.5l0.8 1.3l-25.5 2.1zM344.7 268.1l34.0 0.0l-0.7 1.3l6.8-2.0l-6.7-2.0l0.7 1.4l-34.0-0.0zM344.6 261.8l24.8 2.0l-0.8 1.3l6.9-1.5l-6.6-2.6l0.6 1.4l-24.8-2.0zM344.3 255.4l0.9 0.5l-1.3 0.8l6.9 1.6l-4.9-5.1l-0.1 1.5l-0.9-0.5zM351.4 274.4l26.0-0.8l-0.6 1.4l6.7-2.2l-6.8-1.8l0.7 1.3l-26.0 0.8zM351.4 268.1l42.5-0.0l-0.7 1.4l6.7-2.0l-6.8-2.0l0.7 1.3l-42.5 0.0zM351.3 261.8l25.1 0.8l-0.7 1.3l6.8-1.8l-6.7-2.2l0.6 1.4l-25.1-0.8zM358.0 274.4l24.6-0.0l-0.7 1.4l6.7-2.0l-6.8-2.0l0.7 1.3l-24.6 0.0zM358.0 268.1l45.9 0.0l-0.7 1.3l6.8-2.0l-6.7-2.0l0.7 1.4l-45.9-0.0zM358.0 261.8l23.9 0.1l-0.7 1.3l6.8-2.0l-6.7-2.0l0.7 1.4l-23.9-0.1zM364.7 274.4l25.2 0.1l-0.7 1.3l6.8-2.0l-6.7-2.0l0.7 1.4l-25.2-0.1zM364.7 268.1l46.5 0.2l-0.7 1.3l6.8-2.0l-6.7-2.1l0.7 1.4l-46.5-0.2zM364.7 261.8l23.8 0.1l-0.7 1.3l6.8-2.0l-6.7-2.0l0.7 1.4l-23.8-0.1zM371.4 274.4l27.3 0.6l-0.7 1.3l6.8-1.9l-6.7-2.2l0.6 1.4l-27.3-0.6zM371.4 268.1l46.1 0.6l-0.7 1.3l6.8-1.9l-6.7-2.1l0.7 1.4l-46.1-0.6zM371.4 261.8l23.3-0.0l-0.7 1.4l6.7-2.0l-6.8-2.0l0.7 1.3l-23.3 0.0zM377.7 280.7l0.6 0.4l-1.3 0.7l6.6 2.3l-4.3-5.6l-0.3 1.5l-0.6-0.4zM378.1 274.4l30.5 2.7l-0.8 1.3l6.9-1.4l-6.5-2.6l0.6 1.4l-30.5-2.7zM378.1 268.1l42.0 1.4l-0.7 1.3l6.8-1.8l-6.7-2.2l0.6 1.4l-42.0-1.4zM378.1 261.8l21.0-0.4l-0.6 1.4l6.7-2.2l-6.8-1.9l0.7 1.3l-21.0 0.4zM378.3 255.2l0.5-0.2l-0.1 1.1l4.0-3.0l-5.1 0.3l0.8 0.7l-0.5 0.2zM384.5 286.8l0.3 0.3l-1.0 0.3l4.1 2.3l-2.2-4.2l-0.3 1.0l-0.3-0.3zM384.4 280.6l10.2 7.8l-1.4 0.7l6.6 2.5l-4.1-5.7l-0.3 1.5l-10.2-7.8zM384.6 274.4l39.9 10.1l-1.0 1.1l7.0-0.3l-6.0-3.6l0.3 1.5l-39.9-10.1zM384.7 268.1l44.4 5.6l-0.8 1.3l6.9-1.2l-6.4-2.8l0.5 1.4l-44.4-5.6zM384.8 261.8l22.7 0.3l-0.7 1.3l6.8-1.9l-6.7-2.1l0.7 1.4l-22.7-0.3zM384.9 255.4l3.1-0.5l-0.5 1.4l6.4-3.0l-7.0-1.0l0.9 1.2l-3.1 0.5zM391.1 293.2l0.4 0.4l-1.3 0.3l5.2 3.3l-2.5-5.6l-0.5 1.2l-0.4-0.4zM391.0 286.9l7.0 8.1l-1.5 0.4l5.9 3.8l-2.9-6.4l-0.6 1.4l-7.0-8.1zM391.1 280.6l16.6 14.5l-1.4 0.6l6.4 2.9l-3.8-6.0l-0.4 1.5l-16.6-14.5zM391.3 274.4l37.7 12.0l-1.1 1.1l7.0 0.1l-5.8-4.0l0.2 1.5l-37.7-12.0zM391.4 268.1l34.4 6.8l-0.9 1.2l7.0-0.7l-6.2-3.3l0.4 1.5l-34.4-6.8zM391.4 261.8l17.0 1.6l-0.8 1.3l6.9-1.4l-6.5-2.6l0.5 1.4l-17.0-1.6zM391.5 255.4l3.5 0.1l-0.7 1.3l6.8-1.8l-6.7-2.2l0.6 1.4l-3.5-0.1zM398.1 311.9l0.1 0.1l-0.4 0.0l1.4 1.1l-0.5-1.7l-0.2 0.3l-0.1-0.1zM397.7 305.6l0.2 0.5l-1.2-0.2l3.1 4.5l-0.2-5.5l-0.8 0.8l-0.2-0.5zM397.6 299.4l2.0 5.1l-1.5-0.1l4.4 5.5l-0.6-7.0l-1.0 1.1l-2.0-5.1zM397.6 293.1l8.4 12.6l-1.5 0.2l5.4 4.5l-2.1-6.7l-0.8 1.3l-8.4-12.6zM397.7 286.8l12.8 17.4l-1.5 0.3l5.6 4.2l-2.4-6.6l-0.7 1.3l-12.8-17.4zM397.7 280.6l18.3 19.1l-1.4 0.4l6.1 3.5l-3.2-6.3l-0.5 1.4l-18.3-19.1zM397.9 274.4l32.4 12.9l-1.1 1.0l7.0 0.6l-5.5-4.4l0.1 1.5l-32.4-12.9zM398.0 268.1l24.9 7.1l-1.0 1.1l7.0-0.1l-5.9-3.8l0.3 1.5l-24.9-7.1zM398.1 261.8l10.9 2.1l-0.9 1.2l7.0-0.7l-6.2-3.3l0.4 1.5l-10.9-2.1zM398.1 255.4l1.1 0.2l-0.9 1.2l7.0-0.7l-6.2-3.3l0.4 1.5l-1.1-0.2zM404.7 318.3l0.2 0.1l-0.5 0.2l2.2 0.9l-1.3-2.0l-0.1 0.5l-0.2-0.1zM404.4 312.2l2.0 2.4l-1.5 0.3l5.9 3.9l-2.7-6.5l-0.6 1.4l-2.0-2.4zM404.3 305.8l5.6 9.6l-1.5 0.1l5.2 4.8l-1.7-6.9l-0.8 1.3l-5.6-9.6zM404.3 299.4l9.4 17.7l-1.5 0.0l5.0 5.0l-1.4-6.9l-0.9 1.2l-9.4-17.7zM404.3 293.1l12.7 22.9l-1.5 0.1l5.0 4.9l-1.5-6.9l-0.9 1.2l-12.7-22.9zM404.3 286.8l14.3 23.9l-1.5 0.1l5.2 4.8l-1.7-6.8l-0.8 1.3l-14.3-23.9zM404.3 280.5l15.5 20.9l-1.5 0.3l5.7 4.2l-2.4-6.6l-0.7 1.3l-15.5-20.9zM404.6 274.4l24.6 12.4l-1.2 0.9l6.9 1.2l-5.1-4.8l-0.0 1.5l-24.6-12.4zM404.6 268.1l16.1 6.4l-1.1 1.0l7.0 0.6l-5.5-4.4l0.1 1.5l-16.1-6.4zM404.7 261.7l4.9 1.6l-1.1 1.1l7.0 0.2l-5.8-4.1l0.2 1.5l-4.9-1.6zM404.7 255.0l0.3 0.2l-0.6 0.4l3.1 0.8l-2.1-2.3l-0.0 0.7l-0.3-0.2zM411.3 318.7l1.9 0.9l-1.2 0.9l7.0 1.1l-5.2-4.8l0.0 1.5l-1.9-0.9zM411.1 312.3l9.6 8.3l-1.4 0.6l6.4 2.9l-3.8-6.0l-0.4 1.5l-9.6-8.3zM411.1 305.9l14.0 17.2l-1.5 0.3l5.8 4.0l-2.7-6.5l-0.6 1.4l-14.0-17.2zM411.0 299.5l16.1 24.9l-1.5 0.2l5.4 4.6l-2.0-6.8l-0.8 1.3l-16.1-24.9zM411.0 293.1l14.9 28.7l-1.5 0.0l4.9 5.1l-1.3-6.9l-0.9 1.2l-14.9-28.7zM411.0 286.7l11.4 26.3l-1.5-0.1l4.5 5.4l-0.8-7.0l-1.0 1.2l-11.4-26.3zM411.0 280.4l9.2 19.1l-1.5-0.0l4.7 5.2l-1.1-7.0l-0.9 1.2l-9.2-19.1zM411.2 274.3l14.9 9.8l-1.3 0.8l6.8 2.0l-4.5-5.4l-0.2 1.5l-14.9-9.8zM411.3 268.0l7.4 3.8l-1.2 0.9l6.9 1.3l-5.1-4.9l-0.0 1.5l-7.4-3.8zM411.4 261.5l0.4 0.2l-0.7 0.6l4.3 0.6l-3.3-2.9l0.0 0.9l-0.4-0.2zM418.2 324.6l0.2 0.1l-0.4 0.3l2.4 0.3l-1.8-1.6l0.0 0.5l-0.2-0.1zM418.0 318.7l8.8 3.7l-1.1 1.0l7.0 0.8l-5.4-4.5l0.1 1.5l-8.8-3.7zM417.9 312.3l18.6 11.5l-1.3 0.8l6.8 1.8l-4.7-5.3l-0.1 1.5l-18.6-11.5zM417.8 305.9l22.2 20.0l-1.4 0.6l6.4 3.0l-3.7-6.0l-0.4 1.5l-22.2-20.0zM417.8 299.5l20.9 24.9l-1.5 0.3l5.9 3.9l-2.8-6.5l-0.6 1.4l-20.9-24.9zM417.7 293.1l14.7 24.1l-1.5 0.1l5.2 4.7l-1.8-6.8l-0.8 1.3l-14.7-24.1zM417.6 286.6l4.3 16.6l-1.5-0.3l3.7 6.0l0.3-7.0l-1.1 1.0l-4.3-16.6zM417.6 280.2l1.5 8.5l-1.4-0.4l3.2 6.3l0.8-7.0l-1.2 0.9l-1.5-8.5zM417.6 274.0l0.7 2.2l-1.5-0.2l4.0 5.8l-0.1-7.0l-1.1 1.1l-0.7-2.2zM418.0 267.7l0.2 0.2l-0.7 0.2l2.9 1.8l-1.4-3.1l-0.3 0.7l-0.2-0.2zM425.1 324.7l0.3-0.1l-0.1 0.6l2.5-1.7l-3.1 0.1l0.5 0.5l-0.3 0.1zM424.9 318.8l15.9 0.8l-0.7 1.3l6.8-1.7l-6.6-2.4l0.6 1.4l-15.9-0.8zM424.7 312.4l28.4 10.8l-1.1 1.0l7.0 0.5l-5.6-4.3l0.2 1.5l-28.4-10.8zM424.6 306.0l28.1 18.2l-1.3 0.8l6.8 2.0l-4.6-5.4l-0.2 1.5l-28.1-18.2zM424.5 299.6l18.3 16.4l-1.4 0.6l6.4 3.0l-3.7-6.0l-0.4 1.5l-18.3-16.4zM424.5 293.2l3.4 3.6l-1.4 0.4l6.1 3.5l-3.2-6.3l-0.5 1.4l-3.4-3.6zM431.6 318.8l23.1 0.5l-0.7 1.3l6.8-1.9l-6.7-2.2l0.6 1.4l-23.1-0.5zM431.5 312.4l39.4 8.8l-1.0 1.2l7.0-0.5l-6.1-3.4l0.4 1.5l-39.4-8.8zM431.3 306.0l30.7 15.7l-1.2 0.9l6.9 1.3l-5.1-4.9l-0.0 1.5l-30.7-15.7zM431.2 299.6l5.5 4.6l-1.4 0.6l6.5 2.8l-3.9-5.9l-0.3 1.5l-5.5-4.6zM438.3 318.8l27.1 0.9l-0.7 1.3l6.8-1.8l-6.7-2.2l0.6 1.4l-27.1-0.9zM438.3 312.4l47.7 5.2l-0.8 1.3l6.9-1.3l-6.5-2.7l0.5 1.4l-47.7-5.2zM438.2 306.1l28.0 4.9l-0.9 1.2l7.0-0.8l-6.3-3.2l0.4 1.4l-28.0-4.9zM445.0 318.8l29.6 0.4l-0.7 1.3l6.8-1.9l-6.7-2.1l0.7 1.4l-29.6-0.4zM445.0 312.4l50.3 1.7l-0.7 1.3l6.8-1.8l-6.7-2.3l0.6 1.4l-50.3-1.7zM445.0 306.1l24.2 0.5l-0.7 1.3l6.8-1.9l-6.7-2.2l0.6 1.4l-24.2-0.5zM451.7 318.8l31.9 1.9l-0.8 1.3l6.9-1.6l-6.6-2.4l0.6 1.4l-31.9-1.9zM451.7 312.4l50.4 2.0l-0.7 1.3l6.8-1.8l-6.7-2.3l0.6 1.4l-50.4-2.0zM451.7 306.1l23.2 0.4l-0.7 1.3l6.8-1.9l-6.7-2.1l0.7 1.4l-23.2-0.4zM458.2 324.9l0.5 0.3l-1.0 0.7l5.8 1.2l-4.2-4.2l-0.0 1.3l-0.5-0.3zM458.3 318.8l33.6 7.7l-1.0 1.2l7.0-0.5l-6.1-3.5l0.4 1.5l-33.6-7.7zM458.4 312.4l47.9 4.5l-0.8 1.3l6.9-1.4l-6.5-2.6l0.5 1.4l-47.9-4.5zM458.4 306.1l21.4 0.8l-0.7 1.3l6.8-1.8l-6.7-2.3l0.6 1.4l-21.4-0.8zM464.9 325.1l7.2 1.9l-1.0 1.1l7.0-0.2l-6.0-3.7l0.3 1.5l-7.2-1.9zM465.0 318.8l34.8 8.0l-1.0 1.2l7.0-0.5l-6.1-3.5l0.4 1.5l-34.8-8.0zM465.0 312.4l43.3 5.5l-0.8 1.3l7.0-1.2l-6.4-2.9l0.5 1.4l-43.3-5.5zM465.1 306.1l18.5 1.0l-0.7 1.3l6.9-1.6l-6.6-2.4l0.6 1.4l-18.5-1.0zM471.7 325.1l14.2 2.8l-0.9 1.2l7.0-0.7l-6.2-3.3l0.4 1.5l-14.2-2.8zM471.7 318.8l36.3 7.3l-0.9 1.2l7.0-0.7l-6.2-3.3l0.4 1.5l-36.3-7.3zM471.7 312.4l38.7 5.1l-0.8 1.3l7.0-1.1l-6.4-2.9l0.5 1.4l-38.7-5.1zM471.8 306.1l15.3 0.9l-0.8 1.3l6.9-1.6l-6.6-2.4l0.6 1.4l-15.3-0.9zM478.2 331.2l0.4 0.3l-0.9 0.5l4.7 1.5l-3.1-3.8l-0.1 1.0l-0.4-0.3zM478.3 325.1l19.4 6.7l-1.1 1.1l7.0 0.3l-5.7-4.1l0.2 1.5l-19.4-6.7zM478.4 318.8l36.2 7.6l-0.9 1.2l7.0-0.6l-6.2-3.4l0.4 1.5l-36.2-7.6zM478.4 312.4l34.4 4.5l-0.8 1.3l7.0-1.1l-6.4-2.9l0.5 1.4l-34.4-4.5zM478.5 306.1l12.4 0.7l-0.8 1.3l6.9-1.6l-6.6-2.4l0.6 1.4l-12.4-0.7zM485.1 337.3l0.2 0.1l-0.4 0.2l1.9 0.9l-1.1-1.8l-0.1 0.4l-0.2-0.1zM484.9 331.4l5.1 2.9l-1.3 0.8l6.9 1.6l-4.9-5.1l-0.1 1.5l-5.1-2.9zM485.0 325.1l21.9 7.6l-1.1 1.1l7.0 0.3l-5.7-4.1l0.2 1.5l-21.9-7.6zM485.1 318.8l34.1 7.1l-0.9 1.2l7.0-0.6l-6.2-3.4l0.4 1.5l-34.1-7.1zM485.1 312.4l30.2 3.7l-0.8 1.3l6.9-1.2l-6.5-2.8l0.5 1.4l-30.2-3.7zM485.2 306.1l10.0 0.5l-0.7 1.3l6.8-1.7l-6.6-2.4l0.6 1.4l-10.0-0.5zM491.7 444.9l0.1 0.2l-0.4-0.0l1.3 1.6l-0.2-2.0l-0.3 0.3l-0.1-0.2zM491.5 438.5l0.1 0.4l-0.9-0.2l2.0 3.6l0.3-4.1l-0.7 0.6l-0.1-0.4zM491.3 432.2l0.1 0.6l-1.2-0.4l2.4 5.5l1.1-5.9l-1.1 0.7l-0.1-0.6zM491.2 425.8l0.0 0.8l-1.4-0.6l2.3 6.7l1.7-6.8l-1.3 0.7l-0.0-0.8zM491.2 419.4l0.0 1.2l-1.4-0.7l2.1 6.7l1.9-6.8l-1.3 0.7l-0.0-1.2zM491.2 413.1l0.0 1.3l-1.4-0.7l2.0 6.7l2.0-6.8l-1.3 0.7l-0.0-1.3zM491.2 406.8l0.0 1.3l-1.4-0.7l2.0 6.7l2.0-6.8l-1.3 0.7l-0.0-1.3zM491.2 400.4l0.0 1.2l-1.4-0.7l2.0 6.7l2.0-6.8l-1.3 0.7l-0.0-1.2zM491.2 394.1l-0.0 1.2l-1.3-0.7l2.0 6.8l2.0-6.7l-1.4 0.7l0.0-1.2zM491.2 387.8l0.0 1.2l-1.4-0.7l2.0 6.7l2.0-6.8l-1.3 0.7l-0.0-1.2zM491.2 381.4l0.0 1.2l-1.4-0.7l2.0 6.7l2.0-6.8l-1.3 0.7l-0.0-1.2zM491.2 375.1l0.0 1.2l-1.4-0.7l2.0 6.7l2.0-6.8l-1.3 0.7l-0.0-1.2zM491.2 368.8l0.0 1.2l-1.4-0.7l2.0 6.7l2.0-6.8l-1.3 0.7l-0.0-1.2zM491.2 362.4l-0.0 1.2l-1.3-0.7l2.0 6.8l2.0-6.7l-1.4 0.7l0.0-1.2zM491.2 356.1l-0.0 1.1l-1.3-0.7l1.9 6.8l2.1-6.7l-1.4 0.7l0.0-1.1zM491.2 349.7l-0.0 0.7l-1.3-0.7l1.7 6.8l2.3-6.7l-1.4 0.6l0.0-0.7zM491.3 343.5l0.0 0.6l-1.2-0.6l2.0 6.1l1.7-6.2l-1.2 0.6l-0.0-0.6zM491.3 337.5l0.9 1.4l-1.5 0.2l5.4 4.5l-2.0-6.8l-0.8 1.3l-0.9-1.4zM491.6 331.4l9.0 5.0l-1.2 0.8l6.9 1.5l-4.9-5.1l-0.1 1.5l-9.0-5.0zM491.7 325.1l22.6 6.9l-1.0 1.1l7.0 0.0l-5.9-3.9l0.3 1.5l-22.6-6.9zM491.8 318.8l31.2 5.5l-0.9 1.2l7.0-0.8l-6.3-3.2l0.4 1.4l-31.2-5.5zM491.8 312.4l26.6 2.4l-0.8 1.3l6.9-1.4l-6.5-2.6l0.5 1.4l-26.6-2.4zM491.9 306.1l8.3 0.3l-0.7 1.3l6.8-1.8l-6.7-2.3l0.6 1.4l-8.3-0.3zM498.5 451.3l0.2 0.1l-0.3 0.3l2.1 0.2l-1.6-1.3l0.0 0.4l-0.2-0.1zM498.2 445.2l0.4 0.4l-1.1 0.4l4.9 2.6l-2.6-4.9l-0.4 1.1l-0.4-0.4zM498.0 438.8l1.2 2.2l-1.5 0.1l5.0 4.9l-1.5-6.9l-0.9 1.2l-1.2-2.2zM497.9 432.3l1.4 5.0l-1.5-0.3l3.8 5.9l0.1-7.0l-1.1 1.0l-1.4-5.0zM497.9 425.8l0.6 6.5l-1.4-0.5l2.7 6.5l1.4-6.9l-1.3 0.8l-0.6-6.5zM497.9 419.5l0.1 6.7l-1.4-0.6l2.2 6.7l1.9-6.8l-1.3 0.7l-0.1-6.7zM497.9 413.1l0.0 6.6l-1.4-0.7l2.0 6.7l2.0-6.8l-1.3 0.7l-0.0-6.6zM497.9 406.8l0.0 6.6l-1.4-0.7l2.0 6.7l2.0-6.8l-1.3 0.7l-0.0-6.6zM497.9 400.4l0.0 6.6l-1.4-0.7l2.0 6.7l2.0-6.8l-1.3 0.7l-0.0-6.6zM497.9 394.1l-0.0 6.6l-1.3-0.7l2.0 6.8l2.0-6.7l-1.4 0.7l0.0-6.6zM497.9 387.8l0.0 6.6l-1.4-0.7l2.0 6.7l2.0-6.8l-1.3 0.7l-0.0-6.6zM497.9 381.4l0.0 6.5l-1.4-0.7l2.0 6.7l2.0-6.8l-1.3 0.7l-0.0-6.5zM497.9 375.1l0.0 6.5l-1.4-0.7l2.0 6.7l2.0-6.8l-1.3 0.7l-0.0-6.5zM497.9 368.8l0.0 6.5l-1.4-0.7l2.0 6.7l2.0-6.8l-1.3 0.7l-0.0-6.5zM497.9 362.4l-0.0 6.5l-1.3-0.7l2.0 6.8l2.0-6.7l-1.4 0.7l0.0-6.5zM497.9 356.1l-0.1 6.4l-1.3-0.7l1.9 6.8l2.2-6.7l-1.4 0.6l0.1-6.4zM497.9 349.7l-0.4 6.4l-1.3-0.8l1.6 6.9l2.4-6.6l-1.4 0.6l0.4-6.4zM497.9 343.4l-0.4 6.0l-1.3-0.8l1.6 6.9l2.5-6.6l-1.4 0.6l0.4-6.0zM497.9 337.3l1.6 4.7l-1.5-0.2l4.1 5.8l-0.2-7.0l-1.1 1.1l-1.6-4.7zM498.2 331.4l9.4 5.3l-1.3 0.8l6.9 1.6l-4.9-5.1l-0.1 1.5l-9.4-5.3zM498.4 325.1l21.5 4.8l-1.0 1.2l7.0-0.5l-6.1-3.5l0.4 1.5l-21.5-4.8zM498.5 318.8l28.5 2.8l-0.8 1.3l6.9-1.4l-6.5-2.7l0.5 1.4l-28.5-2.8zM498.6 312.4l24.2 0.7l-0.7 1.3l6.8-1.8l-6.7-2.2l0.6 1.4l-24.2-0.7zM498.6 306.1l7.6-0.0l-0.7 1.4l6.7-2.0l-6.8-2.0l0.7 1.3l-7.6 0.0zM505.2 451.5l0.4 0.1l-0.5 0.7l4.0-0.4l-3.6-1.9l0.2 0.8l-0.4-0.1zM505.0 445.4l1.8 0.9l-1.2 0.9l7.0 1.2l-5.2-4.8l0.0 1.5l-1.8-0.9zM504.8 439.0l3.1 2.7l-1.4 0.6l6.4 2.9l-3.8-5.9l-0.4 1.5l-3.1-2.7zM504.7 432.5l2.2 3.4l-1.5 0.2l5.4 4.5l-2.0-6.8l-0.8 1.3l-2.2-3.4zM504.6 425.9l0.3 2.1l-1.4-0.5l2.9 6.4l1.1-7.0l-1.2 0.9l-0.3-2.1zM504.6 419.5l0.0 1.4l-1.4-0.7l2.1 6.7l1.9-6.8l-1.3 0.7l-0.0-1.4zM504.6 413.1l0.0 1.3l-1.4-0.7l2.0 6.7l2.0-6.8l-1.3 0.7l-0.0-1.3zM504.6 406.8l0.0 1.3l-1.4-0.7l2.0 6.7l2.0-6.8l-1.3 0.7l-0.0-1.3zM504.6 400.4l0.0 1.2l-1.4-0.7l2.0 6.7l2.0-6.8l-1.3 0.7l-0.0-1.2zM504.6 394.1l-0.0 1.2l-1.3-0.7l2.0 6.8l2.0-6.7l-1.4 0.7l0.0-1.2zM504.6 387.8l0.0 1.2l-1.4-0.7l2.0 6.7l2.0-6.8l-1.3 0.7l-0.0-1.2zM504.6 381.4l0.0 1.2l-1.4-0.7l2.0 6.7l2.0-6.8l-1.3 0.7l-0.0-1.2zM504.6 375.1l0.0 1.2l-1.4-0.7l2.0 6.7l2.0-6.8l-1.3 0.7l-0.0-1.2zM504.6 368.8l0.0 1.2l-1.4-0.7l2.0 6.7l2.0-6.8l-1.3 0.7l-0.0-1.2zM504.6 362.4l-0.0 1.2l-1.3-0.7l2.0 6.8l2.0-6.7l-1.4 0.7l0.0-1.2zM504.6 356.1l-0.0 1.2l-1.3-0.7l1.9 6.8l2.1-6.7l-1.4 0.7l0.0-1.2zM504.6 349.7l-0.1 1.6l-1.3-0.7l1.8 6.8l2.3-6.7l-1.4 0.6l0.1-1.6zM504.6 343.4l-0.3 2.6l-1.3-0.8l1.2 6.9l2.8-6.5l-1.4 0.5l0.3-2.6zM504.6 337.2l0.2 2.1l-1.4-0.5l2.7 6.5l1.3-6.9l-1.3 0.8l-0.2-2.1zM505.0 331.4l6.9 2.7l-1.1 1.0l7.0 0.5l-5.6-4.3l0.1 1.5l-6.9-2.7zM505.2 325.1l18.9 1.1l-0.8 1.3l6.9-1.6l-6.6-2.4l0.6 1.4l-18.9-1.1zM505.3 318.8l26.1-1.1l-0.6 1.4l6.7-2.3l-6.8-1.7l0.7 1.3l-26.1 1.1zM505.3 312.4l23.6-2.0l-0.6 1.4l6.6-2.6l-6.9-1.5l0.8 1.3l-23.6 2.0zM505.3 306.1l8.4-0.5l-0.6 1.4l6.6-2.4l-6.9-1.6l0.8 1.3l-8.4 0.5zM511.9 451.6l0.5 0.1l-0.6 1.0l5.5-1.1l-5.2-2.2l0.4 1.1l-0.5-0.1zM511.8 445.4l3.9 1.0l-1.0 1.1l7.0-0.3l-6.0-3.7l0.3 1.5l-3.9-1.0zM511.7 439.1l3.3 1.4l-1.2 1.0l7.0 0.8l-5.4-4.5l0.1 1.5l-3.3-1.4zM511.8 432.5l0.4 0.2l-0.8 0.7l4.9 0.7l-3.7-3.2l0.0 1.0l-0.4-0.2zM512.1 331.4l3.8-0.6l-0.5 1.4l6.4-3.0l-7.0-1.0l0.9 1.2l-3.8 0.6zM512.1 325.1l16.0-3.7l-0.4 1.5l6.1-3.5l-7.0-0.4l1.0 1.2l-16.0 3.7zM512.1 318.8l24.5-6.3l-0.3 1.5l6.0-3.6l-7.0-0.3l1.0 1.1l-24.5 6.3zM512.1 312.4l25.0-6.4l-0.3 1.5l6.0-3.6l-7.0-0.3l1.0 1.1l-25.0 6.4zM512.1 306.1l12.3-2.6l-0.4 1.5l6.2-3.4l-7.0-0.6l0.9 1.2l-12.3 2.6zM518.6 451.8l0.7 0.0l-0.7 1.3l6.6-1.6l-6.4-2.3l0.6 1.3l-0.7-0.0zM518.5 445.4l5.5 0.9l-0.9 1.2l7.0-0.9l-6.3-3.1l0.5 1.4l-5.5-0.9zM518.4 439.1l2.7 0.9l-1.1 1.1l7.0 0.3l-5.7-4.1l0.2 1.5l-2.7-0.9zM518.6 432.3l0.2 0.1l-0.3 0.2l1.9 0.5l-1.3-1.4l-0.0 0.4l-0.2-0.1zM519.0 331.2l0.4-0.3l0.2 1.2l3.4-4.4l-5.3 1.8l1.1 0.5l-0.4 0.3zM519.0 325.0l12.3-7.3l0.1 1.5l4.8-5.2l-6.8 1.7l1.3 0.8l-12.3 7.3zM519.0 318.7l22.9-11.6l0.0 1.5l5.1-4.9l-6.9 1.3l1.2 0.9l-22.9 11.6zM518.9 312.4l26.5-12.6l-0.0 1.5l5.2-4.7l-7.0 1.1l1.2 0.9l-26.5 12.6zM519.0 306.0l18.4-10.5l0.1 1.5l4.9-5.1l-6.9 1.6l1.3 0.8l-18.4 10.5zM519.1 299.6l1.0-0.9l0.4 1.5l3.7-6.0l-6.4 3.0l1.4 0.6l-1.0 0.9zM525.3 451.8l1.2 0.0l-0.7 1.3l6.8-1.9l-6.7-2.2l0.6 1.4l-1.2-0.0zM525.3 445.4l6.6 0.4l-0.8 1.3l6.9-1.6l-6.6-2.5l0.6 1.4l-6.6-0.4zM525.3 439.1l1.8 0.2l-0.8 1.3l6.9-1.3l-6.5-2.8l0.5 1.4l-1.8-0.2zM525.8 325.0l2.9-2.5l0.4 1.5l3.8-5.9l-6.4 2.8l1.4 0.6l-2.9 2.5zM525.7 318.7l19.4-13.5l0.2 1.5l4.4-5.5l-6.7 2.2l1.3 0.7l-19.4 13.5zM525.7 312.3l26.5-16.3l0.1 1.5l4.7-5.3l-6.8 1.8l1.3 0.8l-26.5 16.3zM525.7 306.0l22.4-15.8l0.2 1.5l4.3-5.5l-6.7 2.2l1.3 0.7l-22.4 15.8zM525.8 299.6l11.1-9.8l0.4 1.5l3.7-6.0l-6.4 3.0l1.4 0.6l-11.1 9.8zM525.8 293.2l0.4-0.5l0.5 1.4l3.1-5.9l-5.9 3.2l1.4 0.4l-0.4 0.5zM532.0 451.8l1.4 0.0l-0.7 1.3l6.8-2.0l-6.7-2.0l0.7 1.4l-1.4-0.0zM532.0 445.5l6.8 0.1l-0.7 1.3l6.8-2.0l-6.7-2.1l0.7 1.4l-6.8-0.1zM532.0 439.1l1.3 0.0l-0.7 1.3l6.8-2.0l-6.7-2.1l0.7 1.4l-1.3-0.0zM532.3 318.7l10.2-4.3l-0.1 1.5l5.4-4.5l-7.0 0.8l1.1 1.0l-10.2 4.3zM532.4 312.4l22.8-13.3l0.1 1.5l4.8-5.1l-6.9 1.6l1.3 0.8l-22.8 13.3zM532.4 306.0l23.2-17.1l0.3 1.5l4.2-5.6l-6.6 2.4l1.3 0.7l-23.2 17.1zM532.5 299.6l17.2-15.8l0.4 1.5l3.6-6.1l-6.3 3.1l1.4 0.5l-17.2 15.8zM532.5 293.2l9.3-10.0l0.5 1.4l3.1-6.3l-6.1 3.6l1.4 0.4l-9.3 10.0zM532.5 286.9l0.8-0.9l0.6 1.4l3.0-6.4l-6.0 3.7l1.5 0.4l-0.8 0.9zM538.7 451.8l1.4-0.0l-0.7 1.4l6.7-2.0l-6.8-2.0l0.7 1.3l-1.4 0.0zM538.7 445.5l6.8-0.0l-0.7 1.4l6.7-2.1l-6.8-2.0l0.7 1.3l-6.8 0.0zM538.7 439.1l1.3-0.0l-0.7 1.4l6.7-2.0l-6.8-2.0l0.7 1.3l-1.3 0.0zM538.9 318.8l1.9-0.5l-0.3 1.5l6.0-3.7l-7.0-0.2l1.0 1.1l-1.9 0.5zM539.0 312.4l14.5-7.6l0.0 1.5l5.0-4.9l-6.9 1.3l1.2 0.9l-14.5 7.6zM539.1 306.0l19.6-14.7l0.3 1.5l4.2-5.7l-6.6 2.4l1.4 0.7l-19.6 14.7zM539.2 299.6l18.3-18.0l0.5 1.4l3.4-6.2l-6.2 3.3l1.4 0.5l-18.3 18.0zM539.3 293.2l14.2-17.5l0.6 1.4l2.7-6.5l-5.8 4.0l1.5 0.3l-14.2 17.5zM539.3 286.8l9.5-14.4l0.8 1.3l2.0-6.7l-5.4 4.5l1.5 0.2l-9.5 14.4zM539.4 280.3l2.3-8.6l1.1 1.0l-0.3-7.0l-3.7 6.0l1.5-0.3l-2.3 8.6zM539.4 273.8l0.3-5.0l1.3 0.8l-1.6-6.9l-2.4 6.6l1.4-0.6l-0.3 5.0zM539.4 267.5l0.1-4.1l1.3 0.7l-1.9-6.8l-2.1 6.7l1.4-0.7l-0.1 4.1zM539.4 261.1l0.1-3.6l1.3 0.7l-1.9-6.8l-2.2 6.7l1.4-0.6l-0.1 3.6zM539.4 254.8l0.1-2.9l1.3 0.7l-1.7-6.8l-2.3 6.7l1.4-0.6l-0.1 2.9zM539.4 248.5l0.1-1.6l1.3 0.8l-1.5-6.9l-2.5 6.6l1.4-0.6l-0.1 1.6zM539.3 242.2l0.1-0.6l1.1 0.7l-1.1-6.2l-2.5 5.7l1.3-0.4l-0.1 0.6zM539.1 235.9l0.1-0.4l0.7 0.6l-0.4-4.2l-2.0 3.7l0.9-0.2l-0.1 0.4zM538.9 229.5l0.1-0.2l0.3 0.3l0.2-2.2l-1.3 1.7l0.5-0.0l-0.1 0.2zM545.4 451.8l1.4-0.0l-0.7 1.4l6.7-2.0l-6.8-2.0l0.7 1.3l-1.4 0.0zM545.4 445.5l6.8-0.0l-0.7 1.4l6.7-2.0l-6.8-2.0l0.7 1.3l-6.8 0.0zM545.4 439.1l1.4-0.0l-0.7 1.4l6.7-2.0l-6.8-2.0l0.7 1.3l-1.4 0.0zM545.5 318.5l0.4-0.1l-0.1 0.8l3.3-2.3l-4.0 0.1l0.6 0.6l-0.4 0.1zM545.8 312.4l6.5-3.7l0.1 1.5l4.8-5.1l-6.9 1.6l1.3 0.8l-6.5 3.7zM545.8 306.0l12.9-10.7l0.3 1.5l3.9-5.9l-6.5 2.8l1.4 0.6l-12.9 10.7zM545.9 299.6l15.0-16.7l0.6 1.4l3.0-6.4l-6.0 3.7l1.5 0.4l-15.0 16.7zM546.0 293.2l13.8-20.3l0.7 1.3l2.1-6.7l-5.5 4.4l1.5 0.2l-13.8 20.3zM546.0 286.7l10.7-22.2l0.9 1.2l1.1-7.0l-4.8 5.2l1.5-0.0l-10.7 22.2zM546.1 280.3l5.9-22.1l1.1 1.0l-0.2-7.0l-3.7 6.0l1.5-0.3l-5.9 22.1zM546.1 273.8l2.2-20.2l1.3 0.8l-1.3-6.9l-2.8 6.5l1.4-0.5l-2.2 20.2zM546.1 267.5l0.9-18.7l1.3 0.7l-1.7-6.8l-2.3 6.6l1.4-0.6l-0.9 18.7zM546.1 261.1l0.9-17.6l1.3 0.7l-1.7-6.8l-2.4 6.6l1.4-0.6l-0.9 17.6zM546.1 254.8l1.5-16.1l1.3 0.8l-1.4-6.9l-2.6 6.5l1.4-0.5l-1.5 16.1zM546.1 248.6l2.2-13.5l1.2 0.9l-0.9-7.0l-3.1 6.3l1.4-0.4l-2.2 13.5zM546.1 242.3l2.5-9.8l1.1 1.0l-0.3-7.0l-3.6 6.0l1.5-0.3l-2.5 9.8zM546.0 236.0l2.2-5.5l1.0 1.1l0.6-7.0l-4.3 5.6l1.5-0.1l-2.2 5.5zM546.0 229.8l0.9-1.4l0.8 1.3l2.0-6.8l-5.4 4.5l1.5 0.2l-0.9 1.4zM545.8 223.4l0.3-0.4l0.4 1.0l2.0-4.5l-4.2 2.7l1.0 0.3l-0.3 0.4zM552.1 451.8l1.4 0.0l-0.7 1.3l6.8-2.0l-6.7-2.0l0.7 1.4l-1.4-0.0zM552.1 445.5l6.9-0.0l-0.7 1.4l6.7-2.0l-6.8-2.0l0.7 1.3l-6.9 0.0zM552.1 439.1l1.4-0.0l-0.7 1.4l6.7-2.0l-6.8-2.0l0.7 1.3l-1.4 0.0zM552.5 312.3l0.8-0.6l0.3 1.5l4.0-5.8l-6.5 2.7l1.4 0.6l-0.8 0.6zM552.6 305.9l6.0-6.5l0.5 1.4l3.1-6.3l-6.1 3.6l1.5 0.4l-6.0 6.5zM552.7 299.5l9.5-13.0l0.7 1.3l2.3-6.6l-5.6 4.3l1.5 0.2l-9.5 13.0zM552.7 293.1l10.1-18.2l0.9 1.2l1.5-6.9l-5.0 4.9l1.5 0.1l-10.1 18.2zM552.7 286.7l8.4-22.3l1.0 1.1l0.5-7.0l-4.3 5.6l1.5-0.2l-8.4 22.3zM552.8 280.3l5.5-25.1l1.2 1.0l-0.5-7.0l-3.4 6.2l1.5-0.4l-5.5 25.1zM552.8 273.8l2.9-26.2l1.3 0.8l-1.3-6.9l-2.8 6.5l1.4-0.5l-2.9 26.2zM552.8 267.5l1.6-26.4l1.3 0.8l-1.6-6.9l-2.4 6.6l1.4-0.6l-1.6 26.4zM552.8 261.2l1.9-26.0l1.3 0.8l-1.5-6.9l-2.5 6.6l1.4-0.6l-1.9 26.0zM552.8 254.9l3.5-24.9l1.2 0.9l-1.1-7.0l-2.9 6.4l1.4-0.5l-3.5 24.9zM552.8 248.6l5.6-22.1l1.1 1.0l-0.3-7.0l-3.6 6.0l1.5-0.3l-5.6 22.1zM552.7 242.4l7.0-17.5l1.0 1.1l0.6-7.0l-4.4 5.5l1.5-0.1l-7.0 17.5zM552.7 236.1l7.0-11.9l0.8 1.3l1.7-6.8l-5.2 4.8l1.5 0.1l-7.0 11.9zM552.6 229.9l5.6-6.4l0.6 1.4l2.9-6.4l-6.0 3.8l1.5 0.4l-5.6 6.4zM552.6 223.6l4.2-3.9l0.4 1.4l3.5-6.1l-6.3 3.2l1.4 0.5l-4.2 3.9zM552.4 217.4l2.4-1.2l-0.0 1.5l5.2-4.7l-7.0 1.1l1.2 0.9l-2.4 1.2zM558.8 451.8l1.6 0.1l-0.7 1.3l6.8-1.8l-6.7-2.3l0.6 1.4l-1.6-0.1zM558.8 445.5l6.6-0.0l-0.7 1.4l6.7-2.0l-6.8-2.0l0.7 1.3l-6.6 0.0zM558.8 439.1l1.6-0.1l-0.6 1.4l6.7-2.3l-6.8-1.8l0.7 1.3l-1.6 0.1zM558.9 311.9l0.1-0.1l0.2 0.4l0.7-1.6l-1.5 1.0l0.4 0.1l-0.1 0.1zM559.4 305.8l0.3-0.6l0.9 1.2l1.4-6.7l-4.8 4.9l1.5 0.0l-0.3 0.6zM559.4 299.5l4.0-6.5l0.8 1.3l1.8-6.8l-5.3 4.7l1.5 0.1l-4.0 6.5zM559.4 293.0l5.1-11.8l1.0 1.2l0.8-7.0l-4.5 5.4l1.5-0.1l-5.1 11.8zM559.5 286.6l4.4-16.9l1.1 1.0l-0.3-7.0l-3.7 6.0l1.5-0.3l-4.4 16.9zM559.5 280.2l3.0-20.9l1.2 0.9l-1.0-7.0l-3.0 6.4l1.4-0.5l-3.0 20.9zM559.5 273.8l1.7-23.5l1.3 0.8l-1.5-6.9l-2.5 6.6l1.4-0.6l-1.7 23.5zM559.5 267.5l1.2-24.9l1.3 0.7l-1.7-6.8l-2.3 6.6l1.4-0.6l-1.2 24.9zM559.5 261.2l1.8-25.9l1.3 0.8l-1.5-6.9l-2.5 6.6l1.4-0.6l-1.8 25.9zM559.5 254.9l4.5-26.7l1.2 0.9l-0.9-7.0l-3.1 6.3l1.4-0.4l-4.5 26.7zM559.4 248.7l9.1-25.2l1.0 1.1l0.4-7.0l-4.2 5.7l1.5-0.2l-9.1 25.2zM559.4 242.5l12.3-20.5l0.8 1.3l1.7-6.8l-5.2 4.8l1.5 0.1l-12.3 20.5zM559.3 236.2l12.7-14.9l0.6 1.4l2.9-6.4l-5.9 3.8l1.5 0.4l-12.7 14.9zM559.4 229.7l4.2-8.3l0.9 1.2l1.2-6.9l-4.8 5.1l1.5 0.0l-4.2 8.3zM559.4 223.5l2.7-3.8l0.7 1.3l2.2-6.7l-5.5 4.4l1.5 0.2l-2.7 3.8zM559.0 217.4l5.5-2.1l-0.1 1.5l5.6-4.3l-7.0 0.5l1.1 1.0l-5.5 2.1zM565.4 451.8l1.2 0.2l-0.9 1.2l7.0-0.9l-6.4-3.1l0.5 1.4l-1.2-0.2zM565.5 445.5l3.5 0.0l-0.7 1.3l6.8-2.0l-6.7-2.0l0.7 1.4l-3.5-0.0zM565.6 439.1l1.2-0.2l-0.5 1.4l6.4-3.1l-7.0-1.0l0.9 1.2l-1.2 0.2zM565.7 299.3l0.2-0.3l0.3 0.6l0.9-3.0l-2.4 2.0l0.7 0.1l-0.2 0.3zM566.1 292.9l0.3-1.3l1.1 1.0l-0.3-7.0l-3.6 6.0l1.5-0.3l-0.3 1.3zM566.2 286.5l0.6-4.9l1.3 0.8l-1.2-6.9l-2.8 6.5l1.4-0.5l-0.6 4.9zM566.2 280.1l0.4-7.4l1.3 0.8l-1.6-6.9l-2.4 6.6l1.4-0.6l-0.4 7.4zM566.2 273.8l0.3-9.0l1.3 0.7l-1.8-6.8l-2.2 6.7l1.4-0.6l-0.3 9.0zM566.2 267.5l0.2-9.9l1.3 0.7l-1.9-6.8l-2.2 6.7l1.4-0.6l-0.2 9.9zM566.2 261.1l0.4-11.0l1.3 0.7l-1.8-6.8l-2.3 6.7l1.4-0.6l-0.4 11.0zM566.2 254.9l2.3-14.0l1.2 0.9l-0.9-7.0l-3.1 6.3l1.4-0.4l-2.3 14.0zM566.0 248.8l10.2-13.8l0.7 1.3l2.4-6.6l-5.6 4.2l1.5 0.3l-10.2 13.8zM566.1 242.5l9.3-14.9l0.8 1.3l1.8-6.8l-5.3 4.7l1.5 0.1l-9.3 14.9zM565.9 236.3l20.6-17.8l0.4 1.5l3.8-5.9l-6.4 2.9l1.4 0.6l-20.6 17.8zM565.8 230.0l20.0-12.3l0.1 1.5l4.7-5.3l-6.8 1.8l1.3 0.8l-20.0 12.3zM565.7 223.7l19.3-7.4l-0.1 1.5l5.6-4.3l-7.0 0.5l1.1 1.0l-19.3 7.4zM565.7 217.4l8.0-2.5l-0.2 1.5l5.8-3.9l-7.0 0.1l1.0 1.1l-8.0 2.5z" fill="#2000ff"/>
<rect x="70.15" y="83.8" width="529.25" height="500.6" fill="none" stroke="#000" stroke-width="0.96"/>
<path d="M100.05 584.4v4.2M70.15 556.41h-4.2M166.96 584.4v4.2M70.15 493.21h-4.2M234.5 584.4v4.2M70.15 429.62h-4.2M301.5 584.4v4.2M70.15 366.41h-4.2M368.48 584.4v4.2M70.15 303.1h-4.2M435.16 584.4v4.2M70.15 239.5h-4.2M501.83 584.4v4.2M70.15 176.5h-4.2M568.5 584.4v4.2M70.15 113h-4.2" stroke="#000" stroke-width="0.96"/>
<text x="100.05" y="602.7" text-anchor="middle" font-size="11.8">0.00</text>
<text x="61.25" y="560.91" text-anchor="end" font-size="11.8">0.00</text>
<text x="166.96" y="602.7" text-anchor="middle" font-size="11.8">0.02</text>
<text x="61.25" y="497.71" text-anchor="end" font-size="11.8">0.02</text>
<text x="234.5" y="602.7" text-anchor="middle" font-size="11.8">0.04</text>
<text x="61.25" y="434.12" text-anchor="end" font-size="11.8">0.04</text>
<text x="301.5" y="602.7" text-anchor="middle" font-size="11.8">0.06</text>
<text x="61.25" y="370.91" text-anchor="end" font-size="11.8">0.06</text>
<text x="368.48" y="602.7" text-anchor="middle" font-size="11.8">0.08</text>
<text x="61.25" y="307.6" text-anchor="end" font-size="11.8">0.08</text>
<text x="435.16" y="602.7" text-anchor="middle" font-size="11.8">0.10</text>
<text x="61.25" y="244" text-anchor="end" font-size="11.8">0.10</text>
<text x="501.83" y="602.7" text-anchor="middle" font-size="11.8">0.12</text>
<text x="61.25" y="181" text-anchor="end" font-size="11.8">0.12</text>
<text x="568.5" y="602.7" text-anchor="middle" font-size="11.8">0.14</text>
<text x="61.25" y="117.5" text-anchor="end" font-size="11.8">0.14</text>
<text x="334.77" y="619.4" text-anchor="middle" font-size="12">X (m)</text>
<text transform="translate(27 334.1) rotate(-90)" text-anchor="middle" font-size="12">Y (m)</text>
<text x="334.77" y="76.5" text-anchor="middle" font-size="14.25">Velocity Field (Ux, Uy) with Real Coordinates</text>
<path d="M693.62 83.75V584.45M760.51 83.75V584.45M827.52 83.75V584.45M894.48 83.75V584.45M961.19 83.75V584.45M1028.57 83.75V584.45M1095.52 83.75V584.45M1162.52 83.75V584.45M663.65 556.41H1192.5M663.65 493.21H1192.5M663.65 429.62H1192.5M663.65 366.41H1192.5M663.65 303.1H1192.5M663.65 239.5H1192.5M663.65 176.5H1192.5M663.65 113H1192.5" stroke="#b0b0b0" stroke-width="0.96" fill="none"/>
<path d="M695.75 552.44H1160.09M695.75 546.11H1160.09M695.75 539.78H1160.09M695.75 533.44H1160.09M695.75 527.11H1160.09M695.75 520.78H1160.09M695.75 514.44H1160.09M695.75 508.11H1160.09M695.75 501.78H1160.09M695.75 495.44H1160.09M695.75 489.11H1160.09M695.75 482.78H1160.09M695.75 476.44H1160.09M695.75 470.11H1160.09M695.75 463.78H1160.09M695.75 457.44H1160.09M695.75 451.11H1160.09M695.75 444.78H1160.09M695.75 438.44H1160.09M695.75 432.11H1160.09M695.75 425.78H1160.09M695.75 419.44H1160.09M695.75 413.11H1160.09M695.75 406.78H1160.09M695.75 400.44H1160.09M695.75 394.11H1160.09M695.75 387.77H1160.09M695.75 381.44H1160.09M695.75 375.11H1160.09M695.75 368.77H1160.09M695.75 362.44H1160.09M695.75 356.11H1160.09M695.75 349.77H1160.09M695.75 343.44H1160.09M695.75 337.11H1160.09M695.75 330.77H1160.09M695.75 324.44H1160.09M695.75 318.11H1160.09M695.75 311.77H1160.09M695.75 305.44H1160.09M695.75 299.11H1160.09M695.75 292.77H1160.09M695.75 286.44H1160.09M695.75 280.11H1160.09M695.75 273.77H1160.09M695.75 267.44H1160.09M695.75 261.11H1160.09M695.75 254.77H1160.09M695.75 248.44H1160.09M695.75 242.11H1160.09M695.75 235.77H1160.09M695.75 229.44H1160.09M695.75 223.11H1160.09M695.75 216.77H1160.09M695.75 210.44H1160.09M695.75 204.11H1160.09M695.75 197.77H1160.09M695.75 191.44H1160.09M695.75 185.11H1160.09M695.75 178.77H1160.09M695.75 172.44H1160.09M695.75 166.11H1160.09M695.75 159.77H1160.09M695.75 153.44H1160.09M695.75 147.11H1160.09M695.75 140.77H1160.09M695.75 134.44H1160.09M695.75 128.11H1160.09M695.75 121.77H1160.09M695.75 115.44H1160.09" stroke="#7474ff" stroke-width="1.25" stroke-dasharray="1.7 4.99" fill="none"/>
<path d="M696.8 451.5l0.4-0.4l0.4 1.3l3.0-5.5l-5.5 3.0l1.3 0.4l-0.4 0.4zM696.8 445.3l3.9-3.9l0.5 1.4l3.3-6.2l-6.2 3.3l1.4 0.5l-3.9 3.9zM696.8 438.9l0.4-0.4l0.4 1.3l3.0-5.5l-5.5 3.0l1.3 0.4l-0.4 0.4zM696.6 229.9l0.4-0.3l0.2 1.1l3.3-4.1l-5.0 1.6l1.0 0.5l-0.4 0.3zM696.5 223.7l0.6-0.2l-0.2 1.3l5.3-3.6l-6.4 0.1l0.9 1.0l-0.6 0.2zM696.3 217.4l0.6-0.0l-0.6 1.2l6.0-1.8l-6.0-1.8l0.6 1.2l-0.6 0.0zM696.3 211.0l0.6 0.0l-0.6 1.2l6.0-1.6l-5.9-1.9l0.6 1.2l-0.6-0.0zM696.3 204.7l0.6 0.0l-0.7 1.2l6.1-1.5l-5.9-2.1l0.5 1.2l-0.6-0.0zM696.3 198.4l0.6 0.0l-0.7 1.2l6.2-1.4l-6.0-2.3l0.5 1.3l-0.6-0.0zM696.3 192.1l0.6 0.1l-0.8 1.2l6.5-1.2l-6.1-2.5l0.5 1.3l-0.6-0.1zM696.3 185.7l0.6 0.1l-0.8 1.2l6.6-1.1l-6.1-2.7l0.5 1.4l-0.6-0.1zM696.3 179.3l0.5 0.1l-0.6 0.9l5.0-0.9l-4.7-2.1l0.4 1.0l-0.5-0.1zM703.5 451.6l1.3-1.1l0.3 1.5l4.0-5.8l-6.5 2.7l1.4 0.6l-1.3 1.1zM703.5 445.3l10.5-8.4l0.3 1.5l4.0-5.8l-6.5 2.6l1.4 0.6l-10.5 8.4zM703.5 439.0l1.3-1.0l0.3 1.5l4.1-5.8l-6.6 2.6l1.4 0.6l-1.3 1.0zM703.3 230.0l0.5-0.3l0.0 1.3l4.3-4.4l-6.0 1.3l1.1 0.8l-0.5 0.3zM703.2 223.8l3.4-0.9l-0.3 1.5l6.0-3.7l-7.0-0.2l1.0 1.1l-3.4 0.9zM703.0 217.4l3.6 0.2l-0.7 1.3l6.8-1.7l-6.6-2.3l0.6 1.4l-3.6-0.2zM702.9 211.1l3.5 0.7l-0.9 1.2l7.0-0.6l-6.2-3.4l0.4 1.5l-3.5-0.7zM702.8 204.7l1.3 0.5l-1.1 1.1l7.0 0.3l-5.7-4.1l0.2 1.5l-1.3-0.5zM702.8 198.4l1.6 0.7l-1.2 0.9l7.0 1.0l-5.3-4.7l0.0 1.5l-1.6-0.7zM702.7 192.0l1.9 1.0l-1.2 0.9l6.9 1.4l-5.0-5.0l-0.0 1.5l-1.9-1.0zM702.7 185.7l1.1 0.7l-1.3 0.8l6.8 1.9l-4.6-5.3l-0.1 1.5l-1.1-0.7zM702.9 179.0l0.2 0.1l-0.5 0.3l2.7 0.8l-1.8-2.1l-0.1 0.6l-0.2-0.1zM710.1 451.7l5.1-3.2l0.1 1.5l4.6-5.3l-6.8 1.9l1.3 0.8l-5.1 3.2zM710.1 445.3l12.4-7.8l0.1 1.5l4.6-5.3l-6.8 1.9l1.3 0.8l-12.4 7.8zM710.1 439.0l5.1-3.2l0.1 1.5l4.6-5.3l-6.8 1.9l1.3 0.8l-5.1 3.2zM709.9 229.9l0.5-0.1l-0.2 1.2l4.7-2.9l-5.5-0.1l0.8 0.9l-0.5 0.1zM709.8 223.8l4.3-0.2l-0.6 1.4l6.7-2.3l-6.8-1.7l0.7 1.3l-4.3 0.2zM709.6 217.4l5.4 1.0l-0.9 1.2l7.0-0.7l-6.3-3.3l0.4 1.5l-5.4-1.0zM709.5 211.1l5.3 2.1l-1.1 1.0l7.0 0.6l-5.6-4.3l0.1 1.5l-5.3-2.1zM709.4 204.7l2.5 1.4l-1.3 0.8l6.9 1.6l-4.8-5.1l-0.1 1.5l-2.5-1.4zM709.3 198.3l2.3 1.6l-1.3 0.7l6.7 2.2l-4.4-5.5l-0.2 1.5l-2.3-1.6zM709.4 192.0l1.4 0.9l-1.3 0.7l6.7 2.1l-4.5-5.5l-0.2 1.5l-1.4-0.9zM709.5 185.5l0.4 0.2l-0.7 0.6l4.2 0.7l-3.2-2.9l0.0 0.9l-0.4-0.2zM716.7 451.7l5.0-2.4l-0.0 1.5l5.2-4.8l-7.0 1.1l1.2 0.9l-5.0 2.4zM716.7 445.4l12.7-6.1l-0.0 1.5l5.2-4.8l-7.0 1.1l1.2 0.9l-12.7 6.1zM716.7 439.1l5.0-2.4l-0.0 1.5l5.2-4.8l-7.0 1.1l1.2 0.9l-5.0 2.4zM716.5 230.0l0.6-0.0l-0.5 1.2l5.6-2.1l-5.9-1.3l0.7 1.1l-0.6 0.0zM716.3 223.8l5.8 0.9l-0.9 1.2l7.0-0.9l-6.3-3.1l0.5 1.4l-5.8-0.9zM716.2 217.4l7.5 2.3l-1.0 1.1l7.0 0.0l-5.9-3.9l0.3 1.5l-7.5-2.3zM716.1 211.0l7.2 3.5l-1.2 0.9l7.0 1.1l-5.2-4.8l0.0 1.5l-7.2-3.5zM716.1 204.7l3.2 2.1l-1.3 0.8l6.8 2.0l-4.5-5.4l-0.2 1.5l-3.2-2.1zM716.0 198.3l1.9 1.4l-1.4 0.7l6.6 2.5l-4.1-5.7l-0.3 1.5l-1.9-1.4zM716.1 191.9l0.4 0.3l-1.1 0.5l5.3 2.1l-3.3-4.7l-0.2 1.2l-0.4-0.3zM716.3 185.2l0.1 0.1l-0.3 0.1l1.3 0.5l-0.9-1.1l-0.0 0.3l-0.1-0.1zM723.3 451.7l4.9-1.7l-0.2 1.5l5.7-4.1l-7.0 0.3l1.1 1.1l-4.9 1.7zM723.3 445.4l12.6-4.4l-0.2 1.5l5.7-4.1l-7.0 0.3l1.1 1.1l-12.6 4.4zM723.3 439.1l4.9-1.7l-0.2 1.5l5.7-4.1l-7.0 0.3l1.1 1.1l-4.9 1.7zM723.1 230.1l0.9 0.1l-0.8 1.3l6.9-1.4l-6.5-2.6l0.5 1.4l-0.9-0.1zM723.0 223.8l8.1 1.8l-1.0 1.2l7.0-0.5l-6.2-3.4l0.4 1.5l-8.1-1.8zM722.9 217.4l9.7 3.7l-1.1 1.0l7.0 0.5l-5.6-4.3l0.2 1.5l-9.7-3.7zM722.8 211.0l8.5 4.7l-1.2 0.9l6.9 1.5l-4.9-5.0l-0.1 1.5l-8.5-4.7zM722.7 204.7l3.1 2.2l-1.3 0.7l6.7 2.3l-4.3-5.6l-0.2 1.5l-3.1-2.2zM722.7 198.3l0.5 0.4l-1.4 0.6l6.3 2.8l-3.7-5.8l-0.4 1.4l-0.5-0.4zM723.0 191.6l0.2 0.1l-0.4 0.2l2.0 1.0l-1.1-1.9l-0.1 0.4l-0.2-0.1zM730.0 451.8l4.6-1.1l-0.4 1.5l6.1-3.5l-7.0-0.5l1.0 1.2l-4.6 1.1zM730.0 445.4l12.4-2.8l-0.4 1.5l6.1-3.5l-7.0-0.5l1.0 1.2l-12.4 2.8zM730.0 439.1l4.6-1.1l-0.4 1.5l6.1-3.5l-7.0-0.5l1.0 1.2l-4.6 1.1zM729.7 230.1l2.9 0.3l-0.8 1.3l6.9-1.3l-6.5-2.7l0.5 1.4l-2.9-0.3zM729.6 223.8l11.1 2.8l-1.0 1.1l7.0-0.3l-6.1-3.6l0.3 1.5l-11.1-2.8zM729.5 217.4l11.9 5.1l-1.2 1.0l7.0 0.8l-5.4-4.5l0.1 1.5l-11.9-5.1zM729.5 211.0l8.8 5.5l-1.3 0.8l6.8 1.8l-4.7-5.3l-0.1 1.5l-8.8-5.5zM729.4 204.6l1.6 1.3l-1.4 0.6l6.5 2.6l-4.0-5.8l-0.3 1.5l-1.6-1.3zM729.6 198.0l0.2 0.2l-0.5 0.2l2.4 1.2l-1.4-2.3l-0.2 0.6l-0.2-0.2zM736.6 451.8l4.3-0.5l-0.5 1.4l6.5-2.8l-6.9-1.3l0.8 1.3l-4.3 0.5zM736.6 445.4l11.9-1.3l-0.5 1.4l6.5-2.8l-6.9-1.3l0.8 1.3l-11.9 1.3zM736.6 439.1l4.3-0.5l-0.5 1.4l6.5-2.8l-6.9-1.3l0.8 1.3l-4.3 0.5zM736.4 230.1l5.5 0.6l-0.8 1.3l6.9-1.3l-6.5-2.7l0.5 1.4l-5.5-0.6zM736.3 223.8l15.0 4.0l-1.0 1.1l7.0-0.2l-6.0-3.7l0.3 1.5l-15.0-4.0zM736.2 217.4l13.9 6.6l-1.2 0.9l7.0 1.1l-5.2-4.7l0.0 1.5l-13.9-6.6zM736.1 211.0l7.1 5.0l-1.3 0.7l6.7 2.2l-4.4-5.5l-0.2 1.5l-7.1-5.0zM736.3 204.4l0.3 0.2l-0.7 0.3l3.2 1.5l-1.9-3.0l-0.2 0.7l-0.3-0.2zM743.2 451.8l4.0 0.0l-0.7 1.3l6.8-2.0l-6.7-2.0l0.7 1.4l-4.0-0.0zM743.2 445.5l11.3-0.0l-0.7 1.3l6.8-2.0l-6.8-2.0l0.7 1.3l-11.3 0.0zM743.2 439.1l4.0-0.0l-0.7 1.4l6.7-2.0l-6.8-2.0l0.7 1.3l-4.0 0.0zM743.1 230.1l8.5 0.7l-0.8 1.3l6.9-1.5l-6.6-2.6l0.6 1.4l-8.5-0.7zM743.0 223.8l19.8 4.5l-1.0 1.2l7.0-0.5l-6.1-3.5l0.4 1.5l-19.8-4.5zM742.9 217.4l15.0 7.3l-1.2 0.9l7.0 1.1l-5.2-4.8l0.0 1.5l-15.0-7.3zM742.8 211.0l0.8 0.6l-1.4 0.6l6.5 2.7l-3.9-5.8l-0.3 1.5l-0.8-0.6zM749.9 451.8l4.0 0.0l-0.7 1.3l6.8-2.0l-6.7-2.0l0.7 1.4l-4.0-0.0zM749.9 445.5l11.3-0.0l-0.7 1.4l6.7-2.0l-6.8-2.0l0.7 1.3l-11.3 0.0zM749.9 439.1l4.0-0.0l-0.7 1.4l6.7-2.0l-6.8-2.0l0.7 1.3l-4.0 0.0zM749.9 230.1l11.0 0.5l-0.7 1.3l6.8-1.7l-6.7-2.3l0.6 1.4l-11.0-0.5zM749.8 223.8l23.5 2.6l-0.8 1.3l6.9-1.3l-6.5-2.7l0.5 1.4l-23.5-2.6zM749.8 217.4l12.9 2.1l-0.9 1.2l7.0-0.9l-6.3-3.1l0.5 1.4l-12.9-2.1zM756.6 451.8l4.0 0.0l-0.7 1.3l6.8-2.0l-6.7-2.0l0.7 1.4l-4.0-0.0zM756.6 445.5l11.4-0.0l-0.7 1.4l6.7-2.0l-6.8-2.0l0.7 1.3l-11.4 0.0zM756.6 439.1l4.0-0.0l-0.7 1.4l6.7-2.0l-6.8-2.0l0.7 1.3l-4.0 0.0zM756.6 230.1l12.1 0.1l-0.7 1.3l6.8-2.0l-6.7-2.1l0.7 1.4l-12.1-0.1zM756.6 223.8l24.5 0.3l-0.7 1.3l6.8-1.9l-6.7-2.1l0.7 1.4l-24.5-0.3zM756.6 217.4l11.1 0.1l-0.7 1.3l6.8-2.0l-6.7-2.1l0.7 1.4l-11.1-0.1zM763.3 451.8l4.0 0.0l-0.7 1.3l6.8-2.0l-6.7-2.0l0.7 1.4l-4.0-0.0zM763.3 445.5l11.4-0.0l-0.7 1.4l6.7-2.0l-6.8-2.0l0.7 1.3l-11.4 0.0zM763.3 439.1l4.0-0.0l-0.7 1.4l6.7-2.0l-6.8-2.0l0.7 1.3l-4.0 0.0zM763.3 230.1l12.0-0.1l-0.7 1.4l6.7-2.1l-6.8-1.9l0.7 1.3l-12.0 0.1zM763.3 223.8l24.6-0.5l-0.7 1.4l6.7-2.1l-6.8-1.9l0.7 1.3l-24.6 0.5zM763.3 217.4l11.3-0.2l-0.7 1.4l6.7-2.1l-6.8-1.9l0.7 1.3l-11.3 0.2zM770.0 451.8l4.1 0.0l-0.7 1.3l6.8-2.0l-6.7-2.0l0.7 1.4l-4.1-0.0zM770.0 445.5l11.5-0.0l-0.7 1.4l6.7-2.0l-6.8-2.0l0.7 1.3l-11.5 0.0zM770.0 439.1l4.1-0.0l-0.7 1.4l6.7-2.0l-6.8-2.0l0.7 1.3l-4.1 0.0zM770.0 230.1l11.5-0.2l-0.6 1.4l6.7-2.2l-6.8-1.9l0.7 1.3l-11.5 0.2zM770.0 223.8l24.7-0.8l-0.6 1.4l6.7-2.2l-6.8-1.8l0.7 1.3l-24.7 0.8zM770.0 217.4l12.0-0.3l-0.6 1.4l6.7-2.2l-6.8-1.9l0.7 1.3l-12.0 0.3zM776.6 451.8l4.1 0.0l-0.7 1.3l6.8-2.0l-6.7-2.0l0.7 1.4l-4.1-0.0zM776.7 445.5l11.5-0.0l-0.7 1.4l6.7-2.0l-6.8-2.0l0.7 1.3l-11.5 0.0zM776.7 439.1l4.1-0.0l-0.7 1.4l6.7-2.0l-6.8-2.0l0.7 1.3l-4.1 0.0zM776.7 230.1l10.5-0.4l-0.6 1.4l6.7-2.3l-6.8-1.7l0.7 1.3l-10.5 0.4zM776.7 223.8l24.4-2.0l-0.6 1.4l6.6-2.6l-6.9-1.5l0.8 1.3l-24.4 2.0zM776.7 217.4l13.8-1.5l-0.5 1.4l6.5-2.7l-6.9-1.3l0.8 1.3l-13.8 1.5zM783.3 451.8l4.1 0.0l-0.7 1.3l6.8-2.0l-6.7-2.0l0.7 1.4l-4.1-0.0zM783.3 445.5l11.6-0.0l-0.7 1.4l6.7-2.0l-6.8-2.0l0.7 1.3l-11.6 0.0zM783.3 439.1l4.1-0.0l-0.7 1.4l6.7-2.0l-6.8-2.0l0.7 1.3l-4.1 0.0zM783.4 230.1l8.3-0.7l-0.6 1.4l6.6-2.6l-6.9-1.5l0.8 1.3l-8.3 0.7zM783.5 223.8l22.0-4.1l-0.4 1.5l6.3-3.2l-7.0-0.7l0.9 1.2l-22.0 4.1zM783.6 217.4l15.8-6.2l-0.1 1.5l5.5-4.4l-7.0 0.6l1.1 1.0l-15.8 6.2zM783.7 210.9l0.4-0.3l0.3 1.2l3.2-4.7l-5.3 2.2l1.1 0.5l-0.4 0.3zM790.0 451.8l4.1 0.0l-0.7 1.3l6.8-2.0l-6.7-2.0l0.7 1.4l-4.1-0.0zM790.0 445.5l11.6-0.0l-0.7 1.4l6.7-2.0l-6.8-2.0l0.7 1.3l-11.6 0.0zM790.0 439.1l4.1-0.0l-0.7 1.4l6.7-2.0l-6.8-2.0l0.7 1.3l-4.1 0.0zM790.1 230.1l5.2-0.6l-0.5 1.4l6.4-2.8l-6.9-1.2l0.8 1.3l-5.2 0.6zM790.2 223.8l17.2-5.0l-0.3 1.5l5.9-3.8l-7.0-0.1l1.0 1.1l-17.2 5.0zM790.3 217.4l15.7-8.3l0.0 1.5l5.0-4.9l-6.9 1.4l1.2 0.9l-15.7 8.3zM790.5 211.0l6.4-5.3l0.3 1.5l3.9-5.9l-6.5 2.8l1.4 0.6l-6.4 5.3zM790.3 204.4l0.3-0.3l0.3 0.9l2.1-4.0l-3.9 2.2l0.9 0.3l-0.3 0.3zM796.7 451.8l4.2 0.0l-0.7 1.3l6.8-2.0l-6.7-2.0l0.7 1.4l-4.2-0.0zM796.7 445.5l11.7-0.0l-0.7 1.4l6.7-2.0l-6.8-2.0l0.7 1.3l-11.7 0.0zM796.7 439.1l4.2-0.0l-0.7 1.4l6.7-2.0l-6.8-2.0l0.7 1.3l-4.2 0.0zM796.8 230.1l1.8-0.3l-0.4 1.4l6.3-3.1l-7.0-0.8l0.9 1.2l-1.8 0.3zM797.0 223.7l11.6-4.5l-0.1 1.5l5.6-4.3l-7.0 0.6l1.1 1.0l-11.6 4.5zM797.1 217.3l13.6-8.8l0.2 1.5l4.6-5.4l-6.8 2.0l1.3 0.8l-13.6 8.8zM797.2 210.9l9.9-9.2l0.4 1.4l3.6-6.1l-6.3 3.1l1.4 0.5l-9.9 9.2zM797.2 204.6l5.0-5.6l0.6 1.4l3.0-6.4l-6.0 3.7l1.5 0.4l-5.0 5.6zM797.1 198.1l0.3-0.4l0.4 1.1l2.3-4.8l-4.5 2.8l1.1 0.3l-0.3 0.4zM803.4 451.8l4.2 0.0l-0.7 1.3l6.8-2.0l-6.7-2.0l0.7 1.4l-4.2-0.0zM803.4 445.5l11.7-0.0l-0.7 1.4l6.7-2.0l-6.8-2.0l0.7 1.3l-11.7 0.0zM803.4 439.1l4.2-0.0l-0.7 1.4l6.7-2.0l-6.8-2.0l0.7 1.3l-4.2 0.0zM803.5 229.9l0.5-0.1l-0.2 1.0l4.1-2.6l-4.9-0.1l0.7 0.8l-0.5 0.1zM803.7 223.7l6.0-3.3l0.1 1.5l4.9-5.0l-6.9 1.5l1.2 0.9l-6.0 3.3zM803.9 217.3l9.7-8.3l0.4 1.5l3.8-5.9l-6.5 2.8l1.4 0.6l-9.7 8.3zM803.9 210.9l9.9-11.5l0.6 1.4l2.9-6.4l-5.9 3.8l1.5 0.4l-9.9 11.5zM804.0 204.5l8.6-11.5l0.7 1.4l2.4-6.6l-5.7 4.2l1.5 0.3l-8.6 11.5zM804.0 198.2l6.1-8.3l0.7 1.3l2.4-6.6l-5.6 4.2l1.5 0.3l-6.1 8.3zM804.0 191.7l1.0-2.1l0.9 1.2l1.1-7.0l-4.7 5.2l1.5-0.0l-1.0 2.1zM803.6 185.3l0.2-0.2l0.3 0.5l0.9-2.7l-2.2 1.8l0.6 0.1l-0.2 0.2zM810.1 451.8l4.2 0.0l-0.7 1.3l6.8-2.0l-6.7-2.0l0.7 1.4l-4.2-0.0zM810.1 445.5l11.7-0.0l-0.7 1.4l6.7-2.0l-6.8-2.0l0.7 1.3l-11.7 0.0zM810.1 439.1l4.2-0.0l-0.7 1.4l6.7-2.0l-6.8-2.0l0.7 1.3l-4.2 0.0zM810.2 229.6l0.1-0.1l0.1 0.4l1.1-1.4l-1.7 0.6l0.3 0.2l-0.1 0.1zM810.6 223.6l1.2-1.1l0.4 1.5l3.7-6.0l-6.4 3.0l1.4 0.6l-1.2 1.1zM810.6 217.2l4.7-6.2l0.7 1.4l2.5-6.6l-5.7 4.2l1.5 0.3l-4.7 6.2zM810.7 210.8l7.0-11.8l0.8 1.3l1.7-6.8l-5.2 4.8l1.5 0.1l-7.0 11.8zM810.7 204.5l9.2-14.7l0.8 1.3l1.9-6.8l-5.3 4.6l1.5 0.1l-9.2 14.7zM810.7 198.1l9.4-13.9l0.7 1.3l2.1-6.7l-5.4 4.5l1.5 0.2l-9.4 13.9zM810.7 191.8l6.7-10.1l0.7 1.3l2.1-6.7l-5.4 4.5l1.5 0.2l-6.7 10.1zM810.6 185.5l3.4-4.5l0.7 1.4l2.4-6.6l-5.7 4.2l1.5 0.3l-3.4 4.5zM810.5 179.0l0.3-0.4l0.5 0.9l1.4-4.8l-3.8 3.2l1.1 0.1l-0.3 0.4zM816.8 451.8l4.2 0.0l-0.7 1.3l6.8-2.0l-6.7-2.0l0.7 1.4l-4.2-0.0zM816.8 445.5l11.8-0.0l-0.7 1.4l6.7-2.0l-6.8-2.0l0.7 1.3l-11.8 0.0zM816.8 439.1l4.2-0.0l-0.7 1.4l6.7-2.0l-6.8-2.0l0.7 1.3l-4.2 0.0zM817.0 223.2l0.1-0.2l0.2 0.4l0.8-2.0l-1.7 1.2l0.4 0.1l-0.1 0.2zM817.4 217.0l0.2-0.6l1.0 1.0l0.3-6.3l-3.7 5.2l1.3-0.2l-0.2 0.6zM817.4 210.7l1.9-5.6l1.1 1.1l0.2-7.0l-4.1 5.7l1.5-0.2l-1.9 5.6zM817.4 204.5l7.5-11.4l0.8 1.3l2.0-6.7l-5.4 4.5l1.5 0.2l-7.5 11.4zM817.3 198.2l10.4-13.5l0.7 1.4l2.5-6.6l-5.7 4.1l1.5 0.3l-10.4 13.5zM817.3 191.9l10.5-12.5l0.6 1.4l2.8-6.5l-5.9 3.9l1.5 0.3l-10.5 12.5zM817.3 185.6l8.3-8.7l0.5 1.4l3.2-6.3l-6.1 3.5l1.4 0.4l-8.3 8.7zM817.2 179.3l4.0-3.3l0.3 1.5l3.9-5.9l-6.5 2.8l1.4 0.6l-4.0 3.3zM817.0 172.8l0.4-0.2l-0.0 0.9l3.1-2.6l-4.0 0.5l0.7 0.6l-0.4 0.2zM823.5 451.8l4.3 0.0l-0.7 1.3l6.8-2.0l-6.7-2.0l0.7 1.4l-4.3-0.0zM823.5 445.5l11.8-0.0l-0.7 1.4l6.7-2.0l-6.8-2.0l0.7 1.3l-11.8 0.0zM823.5 439.1l4.3-0.0l-0.7 1.4l6.7-2.0l-6.8-2.0l0.7 1.3l-4.3 0.0zM824.0 204.5l0.4-0.5l0.5 1.3l2.8-5.8l-5.6 3.3l1.3 0.4l-0.4 0.5zM824.0 198.2l7.2-7.7l0.5 1.4l3.1-6.3l-6.1 3.6l1.4 0.4l-7.2 7.7zM824.0 191.9l11.3-10.9l0.4 1.4l3.5-6.1l-6.3 3.2l1.4 0.5l-11.3 10.9zM823.9 185.6l12.4-9.6l0.3 1.5l4.1-5.7l-6.6 2.5l1.4 0.7l-12.4 9.6zM823.8 179.4l9.7-5.0l0.0 1.5l5.1-4.9l-6.9 1.3l1.2 0.9l-9.7 5.0zM823.6 173.1l1.8-0.4l-0.4 1.5l6.1-3.5l-7.0-0.5l1.0 1.2l-1.8 0.4zM830.2 451.8l4.3-0.0l-0.7 1.4l6.7-2.0l-6.8-2.0l0.7 1.3l-4.3 0.0zM830.2 445.5l11.9-0.0l-0.7 1.4l6.7-2.0l-6.8-2.0l0.7 1.3l-11.9 0.0zM830.2 439.1l4.3-0.0l-0.7 1.4l6.7-2.0l-6.8-2.0l0.7 1.3l-4.3 0.0zM830.6 198.2l0.4-0.4l0.4 1.2l2.9-5.2l-5.3 2.8l1.2 0.4l-0.4 0.4zM830.6 192.0l8.6-7.1l0.3 1.5l3.9-5.9l-6.5 2.8l1.4 0.6l-8.6 7.1zM830.5 185.7l14.9-9.0l0.1 1.5l4.7-5.2l-6.8 1.8l1.3 0.8l-14.9 9.0zM830.4 179.4l15.5-5.5l-0.2 1.5l5.7-4.2l-7.0 0.3l1.1 1.0l-15.5 5.5zM830.3 173.1l5.8-0.8l-0.5 1.4l6.4-2.9l-7.0-1.1l0.9 1.2l-5.8 0.8zM836.9 451.8l4.3-0.0l-0.7 1.4l6.7-2.0l-6.8-2.0l0.7 1.3l-4.3 0.0zM836.9 445.5l11.9-0.0l-0.7 1.4l6.7-2.0l-6.8-2.0l0.7 1.3l-11.9 0.0zM836.9 439.1l4.3-0.0l-0.7 1.4l6.7-2.0l-6.8-2.0l0.7 1.3l-4.3 0.0zM837.3 192.0l1.1-0.9l0.4 1.5l3.8-5.9l-6.5 2.8l1.4 0.6l-1.1 0.9zM837.2 185.7l15.8-8.1l0.0 1.5l5.1-4.9l-6.9 1.3l1.2 0.9l-15.8 8.1zM837.0 179.4l21.1-5.1l-0.3 1.5l6.1-3.5l-7.0-0.4l1.0 1.2l-21.1 5.1zM836.9 173.1l9.6-0.8l-0.6 1.4l6.6-2.6l-6.9-1.4l0.8 1.3l-9.6 0.8zM843.6 451.8l4.4-0.0l-0.7 1.4l6.7-2.0l-6.8-2.0l0.7 1.3l-4.4 0.0zM843.6 445.5l12.0-0.0l-0.7 1.4l6.7-2.0l-6.8-2.0l0.7 1.3l-12.0 0.0zM843.6 439.1l4.4-0.0l-0.7 1.4l6.7-2.0l-6.8-2.0l0.7 1.3l-4.4 0.0zM843.7 185.8l13.5-2.2l-0.5 1.4l6.3-3.1l-7.0-0.9l0.9 1.2l-13.5 2.2zM843.6 179.4l25.0-2.6l-0.5 1.4l6.5-2.7l-6.9-1.3l0.8 1.3l-25.0 2.6zM843.6 173.1l12.2-0.5l-0.6 1.4l6.7-2.3l-6.8-1.8l0.7 1.3l-12.2 0.5zM850.3 451.8l4.4-0.0l-0.7 1.4l6.7-2.0l-6.8-2.0l0.7 1.3l-4.4 0.0zM850.3 445.5l12.0-0.0l-0.7 1.4l6.7-2.0l-6.8-2.0l0.7 1.3l-12.0 0.0zM850.3 439.1l4.4-0.0l-0.7 1.4l6.7-2.0l-6.8-2.0l0.7 1.3l-4.4 0.0zM850.3 185.8l11.8-0.0l-0.7 1.4l6.7-2.0l-6.8-2.0l0.7 1.3l-11.8 0.0zM850.3 179.4l26.1-0.2l-0.7 1.4l6.7-2.1l-6.8-2.0l0.7 1.3l-26.1 0.2zM850.3 173.1l13.2-0.0l-0.7 1.4l6.7-2.0l-6.8-2.0l0.7 1.3l-13.2 0.0zM857.0 451.8l4.4-0.0l-0.7 1.4l6.7-2.0l-6.8-2.0l0.7 1.3l-4.4 0.0zM857.0 445.5l12.1-0.0l-0.7 1.4l6.7-2.0l-6.8-2.0l0.7 1.3l-12.1 0.0zM857.0 439.1l4.4-0.0l-0.7 1.4l6.7-2.0l-6.8-2.0l0.7 1.3l-4.4 0.0zM856.9 185.8l12.2 0.2l-0.7 1.3l6.8-1.9l-6.7-2.1l0.7 1.4l-12.2-0.2zM856.9 179.4l26.2 0.6l-0.7 1.3l6.8-1.9l-6.7-2.2l0.6 1.4l-26.2-0.6zM856.9 173.1l13.0 0.2l-0.7 1.3l6.8-1.9l-6.7-2.1l0.7 1.4l-13.0-0.2zM863.6 451.8l4.4-0.0l-0.7 1.4l6.7-2.1l-6.8-2.0l0.7 1.3l-4.4 0.0zM863.7 445.5l12.1-0.1l-0.7 1.4l6.7-2.1l-6.8-2.0l0.7 1.3l-12.1 0.1zM863.7 439.1l4.5-0.0l-0.7 1.4l6.7-2.1l-6.8-2.0l0.7 1.3l-4.5 0.0zM863.6 185.8l13.0 0.3l-0.7 1.3l6.8-1.9l-6.7-2.2l0.6 1.4l-13.0-0.3zM863.6 179.4l26.3 1.0l-0.7 1.3l6.8-1.8l-6.7-2.3l0.6 1.4l-26.3-1.0zM863.6 173.1l12.4 0.3l-0.7 1.3l6.8-1.9l-6.7-2.2l0.6 1.4l-12.4-0.3zM870.3 451.8l4.3 0.1l-0.7 1.3l6.8-1.8l-6.7-2.2l0.6 1.4l-4.3-0.1zM870.4 445.5l11.8-0.4l-0.6 1.4l6.7-2.3l-6.8-1.8l0.7 1.3l-11.8 0.4zM870.4 439.1l5.1-0.5l-0.6 1.4l6.5-2.6l-6.9-1.4l0.8 1.3l-5.1 0.5zM870.3 185.8l15.0 1.6l-0.8 1.3l6.9-1.3l-6.5-2.8l0.5 1.4l-15.0-1.6zM870.3 179.4l26.0 2.3l-0.8 1.3l6.9-1.4l-6.5-2.6l0.6 1.4l-26.0-2.3zM870.3 173.1l11.2 0.5l-0.7 1.3l6.8-1.7l-6.7-2.3l0.6 1.4l-11.2-0.5zM877.0 451.8l3.6 0.4l-0.8 1.3l6.9-1.2l-6.5-2.8l0.5 1.4l-3.6-0.4zM877.1 445.4l9.7-1.2l-0.5 1.4l6.4-2.9l-7.0-1.2l0.8 1.3l-9.7 1.2zM877.3 439.1l5.9-2.3l-0.1 1.5l5.5-4.4l-7.0 0.6l1.1 1.0l-5.9 2.3zM877.2 432.3l0.2-0.2l0.2 0.7l1.8-2.7l-3.0 1.3l0.6 0.3l-0.2 0.2zM876.6 191.9l0.5 0.4l-1.2 0.5l5.8 2.5l-3.5-5.2l-0.3 1.3l-0.5-0.4zM876.8 185.7l17.2 7.0l-1.1 1.0l7.0 0.7l-5.5-4.4l0.1 1.5l-17.2-7.0zM876.9 179.4l23.3 4.6l-0.9 1.2l7.0-0.7l-6.2-3.3l0.4 1.5l-23.3-4.6zM877.0 173.1l8.8 0.8l-0.8 1.3l6.9-1.4l-6.5-2.6l0.6 1.4l-8.8-0.8zM883.7 457.6l0.2 0.0l-0.2 0.4l2.0-0.6l-2.0-0.6l0.2 0.4l-0.2-0.0zM883.8 451.8l1.9-0.2l-0.5 1.4l6.5-2.8l-6.9-1.2l0.8 1.3l-1.9 0.2zM883.9 445.4l6.7-2.0l-0.3 1.5l5.9-3.9l-7.0 0.0l1.0 1.1l-6.7 2.0zM884.1 439.0l5.7-3.3l0.1 1.5l4.8-5.1l-6.9 1.6l1.3 0.8l-5.7 3.3zM884.2 432.6l1.6-1.4l0.4 1.5l3.7-6.0l-6.4 3.0l1.4 0.6l-1.6 1.4zM883.9 426.0l0.2-0.2l0.2 0.6l1.3-2.5l-2.5 1.4l0.6 0.2l-0.2 0.2zM883.3 198.1l0.4 0.4l-1.1 0.3l4.7 2.7l-2.4-4.8l-0.4 1.1l-0.4-0.4zM883.3 191.9l7.6 6.7l-1.4 0.6l6.4 3.0l-3.7-6.0l-0.4 1.5l-7.6-6.7zM883.4 185.7l17.0 9.7l-1.3 0.8l6.9 1.6l-4.9-5.1l-0.1 1.5l-17.0-9.7zM883.5 179.4l18.0 5.8l-1.1 1.1l7.0 0.1l-5.8-4.0l0.2 1.5l-18.0-5.8zM883.6 173.1l5.3 0.8l-0.9 1.2l7.0-1.1l-6.4-3.0l0.5 1.4l-5.3-0.8zM890.7 451.7l0.6-0.3l-0.1 1.4l5.2-4.3l-6.7 0.8l1.1 0.9l-0.6 0.3zM890.7 445.4l4.2-2.2l0.0 1.5l5.1-4.9l-6.9 1.3l1.2 0.9l-4.2 2.2zM890.8 439.0l4.9-3.8l0.3 1.5l4.1-5.7l-6.6 2.6l1.4 0.6l-4.9 3.8zM890.9 432.6l3.5-3.9l0.6 1.4l3.0-6.4l-6.0 3.7l1.5 0.4l-3.5 3.9zM891.0 426.2l1.7-2.2l0.7 1.4l2.5-6.6l-5.7 4.1l1.5 0.3l-1.7 2.2zM890.7 419.7l0.2-0.3l0.4 0.8l1.6-3.7l-3.4 2.3l0.8 0.2l-0.2 0.3zM889.9 204.5l0.8 1.0l-1.5 0.3l5.8 3.9l-2.7-6.5l-0.6 1.4l-0.8-1.0zM889.9 198.2l6.6 8.4l-1.5 0.3l5.8 4.1l-2.6-6.6l-0.6 1.4l-6.6-8.4zM889.9 191.9l11.1 11.6l-1.4 0.4l6.1 3.5l-3.2-6.3l-0.5 1.4l-11.1-11.6zM890.0 185.7l14.5 10.5l-1.3 0.7l6.7 2.3l-4.3-5.6l-0.2 1.5l-14.5-10.5zM890.1 179.4l11.6 5.5l-1.2 0.9l7.0 1.1l-5.2-4.7l0.0 1.5l-11.6-5.5zM890.3 173.1l1.3 0.3l-1.0 1.1l7.0-0.4l-6.1-3.6l0.3 1.5l-1.3-0.3zM897.2 451.5l0.4-0.1l-0.1 0.9l3.2-2.5l-4.0 0.3l0.6 0.6l-0.4 0.1zM897.5 445.3l1.7-1.1l0.2 1.5l4.4-5.5l-6.7 2.1l1.3 0.7l-1.7 1.1zM897.6 438.9l3.1-3.4l0.5 1.4l3.1-6.3l-6.1 3.6l1.5 0.4l-3.1 3.4zM897.7 432.5l3.3-5.2l0.8 1.3l1.9-6.8l-5.3 4.6l1.5 0.2l-3.3 5.2zM897.7 426.1l3.3-6.4l0.9 1.2l1.3-6.9l-4.9 5.1l1.5 0.0l-3.3 6.4zM897.7 419.7l3.1-6.7l0.9 1.2l1.0-7.0l-4.7 5.3l1.5-0.0l-3.1 6.7zM897.8 413.2l0.7-5.3l1.2 0.9l-1.1-7.0l-2.9 6.4l1.4-0.5l-0.7 5.3zM897.8 406.8l0.0-4.4l1.3 0.7l-2.0-6.8l-2.1 6.7l1.4-0.7l-0.0 4.4zM897.8 400.4l-0.0-4.5l1.4 0.7l-2.1-6.7l-2.0 6.8l1.3-0.7l0.0 4.5zM897.8 394.1l-0.0-4.6l1.4 0.7l-2.0-6.7l-2.0 6.8l1.3-0.7l0.0 4.6zM897.8 387.8l-0.0-4.7l1.4 0.7l-2.0-6.7l-2.0 6.8l1.3-0.7l0.0 4.7zM897.8 381.4l-0.0-4.7l1.4 0.7l-2.0-6.7l-2.0 6.8l1.3-0.7l0.0 4.7zM897.8 375.1l0.0-4.8l1.3 0.7l-2.0-6.8l-2.0 6.7l1.4-0.7l-0.0 4.8zM897.8 368.8l0.0-4.8l1.3 0.7l-2.0-6.8l-2.0 6.7l1.4-0.7l-0.0 4.8zM897.8 362.4l0.0-4.8l1.3 0.7l-2.0-6.8l-2.0 6.7l1.4-0.7l-0.0 4.8zM897.8 356.1l-0.0-4.9l1.4 0.7l-2.0-6.7l-2.0 6.8l1.3-0.7l0.0 4.9zM897.8 349.8l-0.0-4.9l1.4 0.7l-2.0-6.7l-2.0 6.8l1.3-0.7l0.0 4.9zM897.8 343.4l0.0-4.9l1.3 0.7l-2.0-6.8l-2.0 6.7l1.4-0.7l-0.0 4.9zM897.8 337.1l0.0-4.9l1.3 0.7l-2.0-6.8l-2.0 6.7l1.4-0.7l-0.0 4.9zM897.8 330.8l0.0-5.0l1.3 0.7l-2.0-6.8l-2.0 6.7l1.4-0.7l-0.0 5.0zM897.8 324.4l0.0-5.0l1.3 0.7l-2.0-6.8l-2.0 6.7l1.4-0.7l-0.0 5.0zM897.8 318.1l0.0-5.0l1.3 0.7l-2.0-6.8l-2.0 6.7l1.4-0.7l-0.0 5.0zM897.8 311.8l0.0-5.0l1.3 0.7l-2.0-6.8l-2.0 6.7l1.4-0.7l-0.0 5.0zM897.8 305.4l0.1-4.9l1.3 0.7l-1.9-6.8l-2.1 6.7l1.4-0.7l-0.1 4.9zM897.8 299.1l0.2-4.3l1.3 0.7l-1.8-6.8l-2.3 6.7l1.4-0.6l-0.2 4.3zM897.8 292.8l0.3-2.9l1.3 0.8l-1.4-6.9l-2.6 6.5l1.4-0.6l-0.3 2.9zM897.8 286.5l0.1-0.7l1.2 0.9l-1.0-7.0l-3.0 6.4l1.4-0.5l-0.1 0.7zM897.5 280.2l0.1-0.4l0.7 0.6l-0.2-4.4l-2.2 3.8l0.9-0.2l-0.1 0.4zM897.3 273.9l0.1-0.2l0.2 0.4l0.5-1.8l-1.5 1.3l0.4 0.0l-0.1 0.2zM897.0 267.5l0.1 0.1l-0.4 0.1l1.5 1.1l-0.6-1.8l-0.2 0.4l-0.1-0.1zM896.7 261.2l0.1 0.4l-1.0-0.2l2.6 4.1l0.1-4.8l-0.8 0.7l-0.1-0.4zM896.4 254.9l0.4 2.0l-1.5-0.4l3.2 6.3l0.7-7.0l-1.2 0.9l-0.4-2.0zM896.4 248.5l0.8 5.9l-1.4-0.5l2.9 6.4l1.1-7.0l-1.2 0.9l-0.8-5.9zM896.4 242.2l0.8 9.5l-1.4-0.6l2.6 6.6l1.4-6.9l-1.3 0.8l-0.8-9.5zM896.4 235.8l0.5 11.9l-1.4-0.6l2.3 6.7l1.8-6.8l-1.3 0.7l-0.5-11.9zM896.4 229.4l0.1 12.7l-1.4-0.7l2.1 6.7l2.0-6.8l-1.3 0.7l-0.1-12.7zM896.4 223.1l-0.1 12.7l-1.3-0.7l2.0 6.8l2.1-6.7l-1.4 0.7l0.1-12.7zM896.4 216.8l0.1 12.5l-1.4-0.7l2.1 6.7l2.0-6.8l-1.3 0.7l-0.1-12.5zM896.4 210.5l2.2 14.4l-1.4-0.5l3.0 6.4l1.0-7.0l-1.2 0.9l-2.2-14.4zM896.5 204.4l8.0 16.5l-1.5-0.0l4.8 5.2l-1.1-7.0l-0.9 1.2l-8.0-16.5zM896.5 198.1l8.8 15.8l-1.5 0.1l5.1 4.9l-1.5-6.9l-0.9 1.2l-8.8-15.8zM896.6 191.8l10.0 13.5l-1.5 0.3l5.7 4.2l-2.4-6.6l-0.7 1.3l-10.0-13.5zM896.6 185.6l10.1 9.3l-1.4 0.5l6.3 3.1l-3.6-6.1l-0.4 1.4l-10.1-9.3zM896.7 179.3l5.7 4.0l-1.3 0.7l6.7 2.2l-4.4-5.5l-0.2 1.5l-5.7-4.0zM896.9 172.7l0.3 0.2l-0.6 0.3l3.0 0.9l-2.0-2.4l-0.1 0.7l-0.3-0.2zM903.9 451.3l0.1-0.1l-0.0 0.4l1.2-1.1l-1.6 0.2l0.3 0.2l-0.1 0.1zM904.1 445.1l0.3-0.3l0.3 1.0l2.3-4.3l-4.3 2.4l1.0 0.3l-0.3 0.3zM904.4 438.8l0.8-1.5l0.8 1.3l1.6-6.9l-5.1 4.9l1.5 0.1l-0.8 1.5zM904.4 432.3l1.6-4.3l1.0 1.1l0.5-7.0l-4.3 5.6l1.5-0.2l-1.6 4.3zM904.4 426.0l2.0-7.2l1.1 1.0l-0.1-7.0l-3.8 5.9l1.5-0.3l-2.0 7.2zM904.5 419.6l2.1-10.1l1.2 0.9l-0.6-7.0l-3.4 6.2l1.5-0.4l-2.1 10.1zM904.5 413.2l1.1-12.0l1.3 0.8l-1.4-6.9l-2.6 6.5l1.4-0.6l-1.1 12.0zM904.5 406.8l0.1-12.4l1.3 0.7l-2.0-6.8l-2.1 6.7l1.4-0.7l-0.1 12.4zM904.5 400.4l-0.1-12.5l1.4 0.7l-2.1-6.7l-2.0 6.8l1.3-0.7l0.1 12.5zM904.5 394.1l-0.1-12.5l1.4 0.7l-2.1-6.7l-2.0 6.8l1.3-0.7l0.1 12.5zM904.5 387.8l-0.0-12.6l1.4 0.7l-2.0-6.7l-2.0 6.8l1.3-0.7l0.0 12.6zM904.5 381.4l-0.0-12.6l1.4 0.7l-2.0-6.7l-2.0 6.8l1.3-0.7l0.0 12.6zM904.5 375.1l0.0-12.7l1.3 0.7l-2.0-6.8l-2.0 6.7l1.4-0.7l-0.0 12.7zM904.5 368.8l0.0-12.7l1.3 0.7l-2.0-6.8l-2.0 6.7l1.4-0.7l-0.0 12.7zM904.5 362.4l0.0-12.8l1.3 0.7l-2.0-6.8l-2.0 6.7l1.4-0.7l-0.0 12.8zM904.5 356.1l0.0-12.8l1.3 0.7l-2.0-6.8l-2.0 6.7l1.4-0.7l-0.0 12.8zM904.5 349.8l-0.0-12.9l1.4 0.7l-2.0-6.7l-2.0 6.8l1.3-0.7l0.0 12.9zM904.5 343.4l0.0-12.9l1.3 0.7l-2.0-6.8l-2.0 6.7l1.4-0.7l-0.0 12.9zM904.5 337.1l0.0-13.0l1.3 0.7l-2.0-6.8l-2.0 6.7l1.4-0.7l-0.0 13.0zM904.5 330.8l0.0-13.1l1.3 0.7l-2.0-6.8l-2.0 6.7l1.4-0.7l-0.0 13.1zM904.5 324.4l0.0-13.1l1.3 0.7l-2.0-6.8l-2.0 6.7l1.4-0.7l-0.0 13.1zM904.5 318.1l0.0-13.2l1.3 0.7l-2.0-6.8l-2.0 6.7l1.4-0.7l-0.0 13.2zM904.5 311.8l0.1-13.2l1.3 0.7l-2.0-6.8l-2.1 6.7l1.4-0.7l-0.1 13.2zM904.5 305.5l0.3-13.3l1.3 0.7l-1.9-6.8l-2.2 6.7l1.4-0.6l-0.3 13.3zM904.5 299.2l1.1-13.0l1.3 0.8l-1.4-6.9l-2.6 6.6l1.4-0.6l-1.1 13.0zM904.5 292.9l2.5-11.2l1.2 0.9l-0.5-7.0l-3.4 6.2l1.5-0.4l-2.5 11.2zM904.4 286.7l2.9-7.7l1.0 1.1l0.5-7.0l-4.3 5.6l1.5-0.2l-2.9 7.7zM904.4 280.5l2.1-3.4l0.8 1.3l1.8-6.8l-5.3 4.7l1.5 0.1l-2.1 3.4zM904.1 274.3l0.5-0.3l0.0 1.4l4.6-4.5l-6.3 1.2l1.1 0.8l-0.5 0.3zM903.4 268.0l0.8 0.5l-1.3 0.8l6.8 2.0l-4.5-5.4l-0.2 1.5l-0.8-0.5zM903.2 261.5l3.5 5.6l-1.5 0.1l5.3 4.6l-1.9-6.8l-0.8 1.3l-3.5-5.6zM903.2 255.0l5.3 12.3l-1.5-0.1l4.5 5.4l-0.8-7.0l-1.0 1.2l-5.3-12.3zM903.2 248.6l6.0 19.1l-1.5-0.2l4.0 5.8l-0.1-7.0l-1.1 1.1l-6.0-19.1zM903.1 242.2l4.8 24.7l-1.5-0.4l3.3 6.2l0.7-7.0l-1.2 0.9l-4.8-24.7zM903.1 235.8l2.2 27.5l-1.4-0.6l2.6 6.6l1.5-6.9l-1.3 0.8l-2.2-27.5zM903.1 229.5l0.4 27.8l-1.4-0.7l2.1 6.7l1.9-6.8l-1.3 0.7l-0.4-27.8zM903.1 223.1l-0.2 27.7l-1.3-0.7l2.0 6.8l2.1-6.7l-1.4 0.7l0.2-27.7zM903.1 216.8l0.4 27.5l-1.4-0.7l2.1 6.7l1.9-6.8l-1.3 0.7l-0.4-27.5zM903.1 210.5l2.6 26.5l-1.4-0.5l2.7 6.5l1.3-6.9l-1.3 0.8l-2.6-26.5zM903.1 204.3l5.0 22.4l-1.5-0.4l3.4 6.2l0.5-7.0l-1.2 1.0l-5.0-22.4zM903.2 198.0l5.5 17.0l-1.5-0.2l4.0 5.8l-0.1-7.0l-1.1 1.1l-5.5-17.0zM903.2 191.7l5.5 11.3l-1.5-0.0l4.8 5.2l-1.1-7.0l-0.9 1.2l-5.5-11.3zM903.3 185.5l4.2 5.2l-1.5 0.3l5.9 3.9l-2.7-6.5l-0.6 1.4l-4.2-5.2zM903.5 179.2l0.5 0.3l-1.1 0.6l5.6 1.6l-3.8-4.4l-0.1 1.2l-0.5-0.3zM910.6 444.8l0.1-0.1l0.2 0.3l0.2-1.6l-1.1 1.2l0.4-0.0l-0.1 0.1zM910.8 438.5l0.1-0.3l0.6 0.5l-0.2-3.5l-1.8 3.1l0.7-0.2l-0.1 0.3zM911.0 432.2l0.1-0.5l1.0 0.7l-0.8-5.5l-2.4 5.0l1.1-0.4l-0.1 0.5zM911.2 425.8l0.1-1.2l1.3 0.8l-1.3-6.9l-2.7 6.5l1.4-0.5l-0.1 1.2zM911.2 419.5l0.2-3.0l1.3 0.8l-1.5-6.9l-2.5 6.6l1.4-0.6l-0.2 3.0zM911.2 413.1l0.1-4.3l1.3 0.7l-1.8-6.8l-2.3 6.7l1.4-0.6l-0.1 4.3zM911.2 406.8l0.0-4.8l1.3 0.7l-2.0-6.8l-2.0 6.7l1.4-0.7l-0.0 4.8zM911.2 400.4l-0.0-4.8l1.4 0.7l-2.1-6.7l-2.0 6.8l1.3-0.7l0.0 4.8zM911.2 394.1l-0.0-4.7l1.4 0.7l-2.0-6.7l-2.0 6.8l1.3-0.7l0.0 4.7zM911.2 387.8l-0.0-4.7l1.4 0.7l-2.0-6.7l-2.0 6.8l1.3-0.7l0.0 4.7zM911.2 381.4l-0.0-4.7l1.4 0.7l-2.0-6.7l-2.0 6.8l1.3-0.7l0.0 4.7zM911.2 375.1l0.0-4.8l1.3 0.7l-2.0-6.8l-2.0 6.7l1.4-0.7l-0.0 4.8zM911.2 368.8l0.0-4.8l1.3 0.7l-2.0-6.8l-2.0 6.7l1.4-0.7l-0.0 4.8zM911.2 362.4l0.0-4.8l1.3 0.7l-2.0-6.8l-2.0 6.7l1.4-0.7l-0.0 4.8zM911.2 356.1l0.0-4.9l1.3 0.7l-2.0-6.8l-2.0 6.7l1.4-0.7l-0.0 4.9zM911.2 349.8l0.0-4.9l1.3 0.7l-2.0-6.8l-2.0 6.7l1.4-0.7l-0.0 4.9zM911.2 343.4l0.0-4.9l1.3 0.7l-2.0-6.8l-2.0 6.7l1.4-0.7l-0.0 4.9zM911.2 337.1l0.0-4.9l1.3 0.7l-2.0-6.8l-2.0 6.7l1.4-0.7l-0.0 4.9zM911.2 330.8l0.0-5.0l1.3 0.7l-2.0-6.8l-2.0 6.7l1.4-0.7l-0.0 5.0zM911.2 324.4l0.0-5.0l1.3 0.7l-2.0-6.8l-2.0 6.7l1.4-0.7l-0.0 5.0zM911.2 318.1l0.0-5.1l1.3 0.7l-2.0-6.8l-2.0 6.7l1.4-0.7l-0.0 5.1zM911.2 311.8l0.0-5.1l1.3 0.7l-2.0-6.8l-2.0 6.7l1.4-0.7l-0.0 5.1zM911.2 305.4l0.1-5.3l1.3 0.7l-1.9-6.8l-2.1 6.7l1.4-0.7l-0.1 5.3zM911.2 299.2l0.7-6.3l1.3 0.8l-1.2-6.9l-2.8 6.5l1.4-0.5l-0.7 6.3zM911.1 293.1l3.7-7.8l0.9 1.2l1.0-7.0l-4.7 5.3l1.5-0.0l-3.7 7.8zM911.0 286.8l5.4-7.5l0.7 1.3l2.3-6.7l-5.6 4.3l1.5 0.2l-5.4 7.5zM910.9 280.6l6.0-5.1l0.4 1.5l3.8-5.9l-6.5 2.8l1.4 0.6l-6.0 5.1zM910.6 274.4l5.9-1.4l-0.3 1.5l6.1-3.5l-7.0-0.4l1.0 1.2l-5.9 1.4zM910.2 268.1l7.4 2.9l-1.1 1.0l7.0 0.6l-5.6-4.3l0.1 1.5l-7.4-2.9zM910.0 261.6l9.8 8.9l-1.4 0.5l6.4 3.0l-3.6-6.0l-0.4 1.5l-9.8-8.9zM910.0 255.2l11.1 14.6l-1.5 0.3l5.7 4.1l-2.5-6.6l-0.7 1.4l-11.1-14.6zM909.9 248.8l10.4 17.9l-1.5 0.1l5.1 4.8l-1.6-6.9l-0.8 1.3l-10.4-17.9zM909.9 242.4l7.5 18.3l-1.5-0.1l4.4 5.5l-0.7-7.0l-1.0 1.1l-7.5-18.3zM909.8 235.8l1.7 16.1l-1.4-0.5l2.7 6.5l1.3-6.9l-1.3 0.8l-1.7-16.1zM909.8 229.4l0.2 14.4l-1.4-0.7l2.1 6.7l1.9-6.8l-1.3 0.7l-0.2-14.4zM909.8 223.1l-0.0 14.2l-1.3-0.7l2.0 6.8l2.0-6.7l-1.4 0.7l0.0-14.2zM909.8 216.8l0.1 14.1l-1.4-0.7l2.1 6.7l2.0-6.8l-1.3 0.7l-0.1-14.1zM909.8 210.5l0.5 13.1l-1.4-0.6l2.3 6.7l1.8-6.8l-1.3 0.7l-0.5-13.1zM909.8 204.2l0.8 10.5l-1.4-0.6l2.5 6.6l1.5-6.9l-1.3 0.8l-0.8-10.5zM909.8 197.9l0.9 6.9l-1.4-0.5l2.9 6.4l1.2-7.0l-1.3 0.8l-0.9-6.9zM909.8 191.6l0.6 2.7l-1.5-0.4l3.4 6.2l0.6-7.0l-1.2 0.9l-0.6-2.7zM910.1 185.3l0.2 0.4l-1.0-0.1l3.0 3.7l-0.5-4.7l-0.7 0.8l-0.2-0.4zM917.5 293.1l0.3-0.3l0.3 0.9l1.8-3.9l-3.7 2.2l0.9 0.2l-0.3 0.3zM917.6 286.9l4.1-3.7l0.4 1.5l3.7-6.0l-6.4 3.0l1.4 0.6l-4.1 3.7zM917.5 280.7l8.9-4.9l0.1 1.5l4.9-5.0l-6.9 1.5l1.2 0.9l-8.9 4.9zM917.3 274.4l12.1-1.9l-0.5 1.4l6.4-3.0l-7.0-1.0l0.9 1.2l-12.1 1.9zM917.0 268.1l14.4 3.3l-1.0 1.2l7.0-0.5l-6.1-3.5l0.4 1.5l-14.4-3.3zM916.9 261.7l15.5 8.6l-1.2 0.9l6.9 1.5l-4.9-5.0l-0.1 1.5l-15.5-8.6zM916.8 255.3l13.3 11.1l-1.4 0.6l6.5 2.8l-3.9-5.9l-0.3 1.5l-13.3-11.1zM916.7 248.9l7.6 8.1l-1.4 0.4l6.1 3.5l-3.1-6.3l-0.5 1.4l-7.6-8.1zM916.7 242.5l0.4 0.5l-1.4 0.3l5.5 3.6l-2.6-6.0l-0.6 1.3l-0.4-0.5zM924.2 286.8l0.4-0.3l0.2 1.0l2.8-4.2l-4.6 2.0l1.0 0.4l-0.4 0.3zM924.2 280.7l9.9-4.5l-0.1 1.5l5.3-4.6l-7.0 1.0l1.2 0.9l-9.9 4.5zM924.0 274.4l17.7-2.5l-0.5 1.4l6.4-2.9l-7.0-1.1l0.9 1.2l-17.7 2.5zM923.8 268.1l20.7 2.4l-0.8 1.3l6.9-1.2l-6.5-2.8l0.5 1.4l-20.7-2.4zM923.7 261.7l19.6 6.7l-1.1 1.1l7.0 0.3l-5.7-4.1l0.2 1.5l-19.6-6.7zM923.5 255.4l11.9 7.1l-1.3 0.8l6.8 1.7l-4.8-5.2l-0.1 1.5l-11.9-7.1zM923.5 248.9l0.4 0.4l-1.2 0.5l5.6 2.6l-3.3-5.3l-0.3 1.3l-0.4-0.4zM930.7 280.8l7.4-1.7l-0.3 1.5l6.1-3.5l-7.0-0.4l1.0 1.2l-7.4 1.7zM930.6 274.4l21.9-1.0l-0.6 1.4l6.7-2.3l-6.8-1.7l0.7 1.3l-21.9 1.0zM930.6 268.1l26.5 0.3l-0.7 1.3l6.8-1.9l-6.7-2.1l0.7 1.4l-26.5-0.3zM930.5 261.8l22.5 1.5l-0.8 1.3l6.9-1.6l-6.6-2.5l0.6 1.4l-22.5-1.5zM930.4 255.4l7.4 2.1l-1.0 1.1l7.0-0.1l-6.0-3.8l0.3 1.5l-7.4-2.1zM937.6 280.7l1.2-0.7l0.1 1.5l4.9-5.1l-6.9 1.6l1.3 0.8l-1.2 0.7zM937.3 274.4l25.5-2.1l-0.6 1.4l6.6-2.6l-6.9-1.5l0.8 1.3l-25.5 2.1zM937.3 268.1l34.0 0.0l-0.7 1.3l6.8-2.0l-6.7-2.0l0.7 1.4l-34.0-0.0zM937.2 261.8l24.8 2.0l-0.8 1.3l6.9-1.5l-6.6-2.6l0.6 1.4l-24.8-2.0zM936.9 255.4l0.9 0.5l-1.3 0.8l6.9 1.6l-4.9-5.1l-0.1 1.5l-0.9-0.5zM944.0 274.4l26.0-0.8l-0.6 1.4l6.7-2.2l-6.8-1.8l0.7 1.3l-26.0 0.8zM944.0 268.1l42.5-0.0l-0.7 1.4l6.7-2.0l-6.8-2.0l0.7 1.3l-42.5 0.0zM943.9 261.8l25.1 0.8l-0.7 1.3l6.8-1.8l-6.7-2.2l0.6 1.4l-25.1-0.8zM950.6 274.4l24.6-0.0l-0.7 1.4l6.7-2.0l-6.8-2.0l0.7 1.3l-24.6 0.0zM950.6 268.1l45.9 0.0l-0.7 1.3l6.8-2.0l-6.7-2.0l0.7 1.4l-45.9-0.0zM950.6 261.8l23.9 0.1l-0.7 1.3l6.8-2.0l-6.7-2.0l0.7 1.4l-23.9-0.1zM957.3 274.4l25.2 0.1l-0.7 1.3l6.8-2.0l-6.7-2.0l0.7 1.4l-25.2-0.1zM957.3 268.1l46.5 0.2l-0.7 1.3l6.8-2.0l-6.7-2.1l0.7 1.4l-46.5-0.2zM957.3 261.8l23.8 0.1l-0.7 1.3l6.8-2.0l-6.7-2.0l0.7 1.4l-23.8-0.1zM964.0 274.4l27.3 0.6l-0.7 1.3l6.8-1.9l-6.7-2.2l0.6 1.4l-27.3-0.6zM964.0 268.1l46.1 0.6l-0.7 1.3l6.8-1.9l-6.7-2.1l0.7 1.4l-46.1-0.6zM964.0 261.8l23.3-0.0l-0.7 1.4l6.7-2.0l-6.8-2.0l0.7 1.3l-23.3 0.0zM970.3 280.7l0.6 0.4l-1.3 0.7l6.6 2.3l-4.3-5.6l-0.3 1.5l-0.6-0.4zM970.7 274.4l30.5 2.7l-0.8 1.3l6.9-1.4l-6.5-2.6l0.6 1.4l-30.5-2.7zM970.7 268.1l42.0 1.4l-0.7 1.3l6.8-1.8l-6.7-2.2l0.6 1.4l-42.0-1.4zM970.7 261.8l21.0-0.4l-0.6 1.4l6.7-2.2l-6.8-1.9l0.7 1.3l-21.0 0.4zM970.9 255.2l0.5-0.2l-0.1 1.1l4.0-3.0l-5.1 0.3l0.8 0.7l-0.5 0.2zM977.1 286.8l0.3 0.3l-1.0 0.3l4.1 2.3l-2.2-4.2l-0.3 1.0l-0.3-0.3zM977.0 280.6l10.2 7.8l-1.4 0.7l6.6 2.5l-4.1-5.7l-0.3 1.5l-10.2-7.8zM977.2 274.4l39.9 10.1l-1.0 1.1l7.0-0.3l-6.0-3.6l0.3 1.5l-39.9-10.1zM977.3 268.1l44.4 5.6l-0.8 1.3l6.9-1.2l-6.4-2.8l0.5 1.4l-44.4-5.6zM977.4 261.8l22.7 0.3l-0.7 1.3l6.8-1.9l-6.7-2.1l0.7 1.4l-22.7-0.3zM977.5 255.4l3.1-0.5l-0.5 1.4l6.4-3.0l-7.0-1.0l0.9 1.2l-3.1 0.5zM983.7 293.2l0.4 0.4l-1.3 0.3l5.2 3.3l-2.5-5.6l-0.5 1.2l-0.4-0.4zM983.6 286.9l7.0 8.1l-1.5 0.4l5.9 3.8l-2.9-6.4l-0.6 1.4l-7.0-8.1zM983.7 280.6l16.6 14.5l-1.4 0.6l6.4 2.9l-3.8-6.0l-0.4 1.5l-16.6-14.5zM983.9 274.4l37.7 12.0l-1.1 1.1l7.0 0.1l-5.8-4.0l0.2 1.5l-37.7-12.0zM984.0 268.1l34.4 6.8l-0.9 1.2l7.0-0.7l-6.2-3.3l0.4 1.5l-34.4-6.8zM984.0 261.8l17.0 1.6l-0.8 1.3l6.9-1.4l-6.5-2.6l0.5 1.4l-17.0-1.6zM984.1 255.4l3.5 0.1l-0.7 1.3l6.8-1.8l-6.7-2.2l0.6 1.4l-3.5-0.1zM990.7 311.9l0.1 0.1l-0.4 0.0l1.4 1.1l-0.5-1.7l-0.2 0.3l-0.1-0.1zM990.3 305.6l0.2 0.5l-1.2-0.2l3.1 4.5l-0.2-5.5l-0.8 0.8l-0.2-0.5zM990.2 299.4l2.0 5.1l-1.5-0.1l4.4 5.5l-0.6-7.0l-1.0 1.1l-2.0-5.1zM990.2 293.1l8.4 12.6l-1.5 0.2l5.4 4.5l-2.1-6.7l-0.8 1.3l-8.4-12.6zM990.3 286.8l12.8 17.4l-1.5 0.3l5.6 4.2l-2.4-6.6l-0.7 1.3l-12.8-17.4zM990.3 280.6l18.3 19.1l-1.4 0.4l6.1 3.5l-3.2-6.3l-0.5 1.4l-18.3-19.1zM990.5 274.4l32.4 12.9l-1.1 1.0l7.0 0.6l-5.5-4.4l0.1 1.5l-32.4-12.9zM990.6 268.1l24.9 7.1l-1.0 1.1l7.0-0.1l-5.9-3.8l0.3 1.5l-24.9-7.1zM990.7 261.8l10.9 2.1l-0.9 1.2l7.0-0.7l-6.2-3.3l0.4 1.5l-10.9-2.1zM990.7 255.4l1.1 0.2l-0.9 1.2l7.0-0.7l-6.2-3.3l0.4 1.5l-1.1-0.2zM997.3 318.3l0.2 0.1l-0.5 0.2l2.2 0.9l-1.3-2.0l-0.1 0.5l-0.2-0.1zM997.0 312.2l2.0 2.4l-1.5 0.3l5.9 3.9l-2.7-6.5l-0.6 1.4l-2.0-2.4zM996.9 305.8l5.6 9.6l-1.5 0.1l5.2 4.8l-1.7-6.9l-0.8 1.3l-5.6-9.6zM996.9 299.4l9.4 17.7l-1.5 0.0l5.0 5.0l-1.4-6.9l-0.9 1.2l-9.4-17.7zM996.9 293.1l12.7 22.9l-1.5 0.1l5.0 4.9l-1.5-6.9l-0.9 1.2l-12.7-22.9zM996.9 286.8l14.3 23.9l-1.5 0.1l5.2 4.8l-1.7-6.8l-0.8 1.3l-14.3-23.9zM996.9 280.5l15.5 20.9l-1.5 0.3l5.7 4.2l-2.4-6.6l-0.7 1.3l-15.5-20.9zM997.2 274.4l24.6 12.4l-1.2 0.9l6.9 1.2l-5.1-4.8l-0.0 1.5l-24.6-12.4zM997.2 268.1l16.1 6.4l-1.1 1.0l7.0 0.6l-5.5-4.4l0.1 1.5l-16.1-6.4zM997.3 261.7l4.9 1.6l-1.1 1.1l7.0 0.2l-5.8-4.1l0.2 1.5l-4.9-1.6zM997.3 255.0l0.3 0.2l-0.6 0.4l3.1 0.8l-2.1-2.3l-0.0 0.7l-0.3-0.2zM1003.9 318.7l1.9 0.9l-1.2 0.9l7.0 1.1l-5.2-4.8l0.0 1.5l-1.9-0.9zM1003.7 312.3l9.6 8.3l-1.4 0.6l6.4 2.9l-3.8-6.0l-0.4 1.5l-9.6-8.3zM1003.7 305.9l14.0 17.2l-1.5 0.3l5.8 4.0l-2.7-6.5l-0.6 1.4l-14.0-17.2zM1003.6 299.5l16.1 24.9l-1.5 0.2l5.4 4.6l-2.0-6.8l-0.8 1.3l-16.1-24.9zM1003.6 293.1l14.9 28.7l-1.5 0.0l4.9 5.1l-1.3-6.9l-0.9 1.2l-14.9-28.7zM1003.6 286.7l11.4 26.3l-1.5-0.1l4.5 5.4l-0.8-7.0l-1.0 1.2l-11.4-26.3zM1003.6 280.4l9.2 19.1l-1.5-0.0l4.7 5.2l-1.1-7.0l-0.9 1.2l-9.2-19.1zM1003.8 274.3l14.9 9.8l-1.3 0.8l6.8 2.0l-4.5-5.4l-0.2 1.5l-14.9-9.8zM1003.9 268.0l7.4 3.8l-1.2 0.9l6.9 1.3l-5.1-4.9l-0.0 1.5l-7.4-3.8zM1004.0 261.5l0.4 0.2l-0.7 0.6l4.3 0.6l-3.3-2.9l0.0 0.9l-0.4-0.2zM1010.8 324.6l0.2 0.1l-0.4 0.3l2.4 0.3l-1.8-1.6l0.0 0.5l-0.2-0.1zM1010.6 318.7l8.8 3.7l-1.1 1.0l7.0 0.8l-5.4-4.5l0.1 1.5l-8.8-3.7zM1010.5 312.3l18.6 11.5l-1.3 0.8l6.8 1.8l-4.7-5.3l-0.1 1.5l-18.6-11.5zM1010.4 305.9l22.2 20.0l-1.4 0.6l6.4 3.0l-3.7-6.0l-0.4 1.5l-22.2-20.0zM1010.4 299.5l20.9 24.9l-1.5 0.3l5.9 3.9l-2.8-6.5l-0.6 1.4l-20.9-24.9zM1010.3 293.1l14.7 24.1l-1.5 0.1l5.2 4.7l-1.8-6.8l-0.8 1.3l-14.7-24.1zM1010.2 286.6l4.3 16.6l-1.5-0.3l3.7 6.0l0.3-7.0l-1.1 1.0l-4.3-16.6zM1010.2 280.2l1.5 8.5l-1.4-0.4l3.2 6.3l0.8-7.0l-1.2 0.9l-1.5-8.5zM1010.2 274.0l0.7 2.2l-1.5-0.2l4.0 5.8l-0.1-7.0l-1.1 1.1l-0.7-2.2zM1010.6 267.7l0.2 0.2l-0.7 0.2l2.9 1.8l-1.4-3.1l-0.3 0.7l-0.2-0.2zM1017.7 324.7l0.3-0.1l-0.1 0.6l2.5-1.7l-3.1 0.1l0.5 0.5l-0.3 0.1zM1017.5 318.8l15.9 0.8l-0.7 1.3l6.8-1.7l-6.6-2.4l0.6 1.4l-15.9-0.8zM1017.3 312.4l28.4 10.8l-1.1 1.0l7.0 0.5l-5.6-4.3l0.2 1.5l-28.4-10.8zM1017.2 306.0l28.1 18.2l-1.3 0.8l6.8 2.0l-4.6-5.4l-0.2 1.5l-28.1-18.2zM1017.1 299.6l18.3 16.4l-1.4 0.6l6.4 3.0l-3.7-6.0l-0.4 1.5l-18.3-16.4zM1017.1 293.2l3.4 3.6l-1.4 0.4l6.1 3.5l-3.2-6.3l-0.5 1.4l-3.4-3.6zM1024.2 318.8l23.1 0.5l-0.7 1.3l6.8-1.9l-6.7-2.2l0.6 1.4l-23.1-0.5zM1024.1 312.4l39.4 8.8l-1.0 1.2l7.0-0.5l-6.1-3.4l0.4 1.5l-39.4-8.8zM1023.9 306.0l30.7 15.7l-1.2 0.9l6.9 1.3l-5.1-4.9l-0.0 1.5l-30.7-15.7zM1023.8 299.6l5.5 4.6l-1.4 0.6l6.5 2.8l-3.9-5.9l-0.3 1.5l-5.5-4.6zM1030.9 318.8l27.1 0.9l-0.7 1.3l6.8-1.8l-6.7-2.2l0.6 1.4l-27.1-0.9zM1030.9 312.4l47.7 5.2l-0.8 1.3l6.9-1.3l-6.5-2.7l0.5 1.4l-47.7-5.2zM1030.8 306.1l28.0 4.9l-0.9 1.2l7.0-0.8l-6.3-3.2l0.4 1.4l-28.0-4.9zM1037.6 318.8l29.6 0.4l-0.7 1.3l6.8-1.9l-6.7-2.1l0.7 1.4l-29.6-0.4zM1037.6 312.4l50.3 1.7l-0.7 1.3l6.8-1.8l-6.7-2.3l0.6 1.4l-50.3-1.7zM1037.6 306.1l24.2 0.5l-0.7 1.3l6.8-1.9l-6.7-2.2l0.6 1.4l-24.2-0.5zM1044.3 318.8l31.9 1.9l-0.8 1.3l6.9-1.6l-6.6-2.4l0.6 1.4l-31.9-1.9zM1044.3 312.4l50.4 2.0l-0.7 1.3l6.8-1.8l-6.7-2.3l0.6 1.4l-50.4-2.0zM1044.3 306.1l23.2 0.4l-0.7 1.3l6.8-1.9l-6.7-2.1l0.7 1.4l-23.2-0.4zM1050.8 324.9l0.5 0.3l-1.0 0.7l5.8 1.2l-4.2-4.2l-0.0 1.3l-0.5-0.3zM1050.9 318.8l33.6 7.7l-1.0 1.2l7.0-0.5l-6.1-3.5l0.4 1.5l-33.6-7.7zM1051.0 312.4l47.9 4.5l-0.8 1.3l6.9-1.4l-6.5-2.6l0.5 1.4l-47.9-4.5zM1051.0 306.1l21.4 0.8l-0.7 1.3l6.8-1.8l-6.7-2.3l0.6 1.4l-21.4-0.8zM1057.5 325.1l7.2 1.9l-1.0 1.1l7.0-0.2l-6.0-3.7l0.3 1.5l-7.2-1.9zM1057.6 318.8l34.8 8.0l-1.0 1.2l7.0-0.5l-6.1-3.5l0.4 1.5l-34.8-8.0zM1057.6 312.4l43.3 5.5l-0.8 1.3l7.0-1.2l-6.4-2.9l0.5 1.4l-43.3-5.5zM1057.7 306.1l18.5 1.0l-0.7 1.3l6.9-1.6l-6.6-2.4l0.6 1.4l-18.5-1.0zM1064.3 325.1l14.2 2.8l-0.9 1.2l7.0-0.7l-6.2-3.3l0.4 1.5l-14.2-2.8zM1064.3 318.8l36.3 7.3l-0.9 1.2l7.0-0.7l-6.2-3.3l0.4 1.5l-36.3-7.3zM1064.3 312.4l38.7 5.1l-0.8 1.3l7.0-1.1l-6.4-2.9l0.5 1.4l-38.7-5.1zM1064.4 306.1l15.3 0.9l-0.8 1.3l6.9-1.6l-6.6-2.4l0.6 1.4l-15.3-0.9zM1070.8 331.2l0.4 0.3l-0.9 0.5l4.7 1.5l-3.1-3.8l-0.1 1.0l-0.4-0.3zM1070.9 325.1l19.4 6.7l-1.1 1.1l7.0 0.3l-5.7-4.1l0.2 1.5l-19.4-6.7zM1071.0 318.8l36.2 7.6l-0.9 1.2l7.0-0.6l-6.2-3.4l0.4 1.5l-36.2-7.6zM1071.0 312.4l34.4 4.5l-0.8 1.3l7.0-1.1l-6.4-2.9l0.5 1.4l-34.4-4.5zM1071.1 306.1l12.4 0.7l-0.8 1.3l6.9-1.6l-6.6-2.4l0.6 1.4l-12.4-0.7zM1077.7 337.3l0.2 0.1l-0.4 0.2l1.9 0.9l-1.1-1.8l-0.1 0.4l-0.2-0.1zM1077.5 331.4l5.1 2.9l-1.3 0.8l6.9 1.6l-4.9-5.1l-0.1 1.5l-5.1-2.9zM1077.6 325.1l21.9 7.6l-1.1 1.1l7.0 0.3l-5.7-4.1l0.2 1.5l-21.9-7.6zM1077.7 318.8l34.1 7.1l-0.9 1.2l7.0-0.6l-6.2-3.4l0.4 1.5l-34.1-7.1zM1077.7 312.4l30.2 3.7l-0.8 1.3l6.9-1.2l-6.5-2.8l0.5 1.4l-30.2-3.7zM1077.8 306.1l10.0 0.5l-0.7 1.3l6.8-1.7l-6.6-2.4l0.6 1.4l-10.0-0.5zM1084.3 444.9l0.1 0.2l-0.4-0.0l1.3 1.6l-0.2-2.0l-0.3 0.3l-0.1-0.2zM1084.1 438.5l0.1 0.4l-0.9-0.2l2.0 3.6l0.3-4.1l-0.7 0.6l-0.1-0.4zM1083.9 432.2l0.1 0.6l-1.2-0.4l2.4 5.5l1.1-5.9l-1.1 0.7l-0.1-0.6zM1083.8 425.8l0.0 0.8l-1.4-0.6l2.3 6.7l1.7-6.8l-1.3 0.7l-0.0-0.8zM1083.8 419.4l0.0 1.2l-1.4-0.7l2.1 6.7l1.9-6.8l-1.3 0.7l-0.0-1.2zM1083.8 413.1l0.0 1.3l-1.4-0.7l2.0 6.7l2.0-6.8l-1.3 0.7l-0.0-1.3zM1083.8 406.8l0.0 1.3l-1.4-0.7l2.0 6.7l2.0-6.8l-1.3 0.7l-0.0-1.3zM1083.8 400.4l0.0 1.2l-1.4-0.7l2.0 6.7l2.0-6.8l-1.3 0.7l-0.0-1.2zM1083.8 394.1l-0.0 1.2l-1.3-0.7l2.0 6.8l2.0-6.7l-1.4 0.7l0.0-1.2zM1083.8 387.8l0.0 1.2l-1.4-0.7l2.0 6.7l2.0-6.8l-1.3 0.7l-0.0-1.2zM1083.8 381.4l0.0 1.2l-1.4-0.7l2.0 6.7l2.0-6.8l-1.3 0.7l-0.0-1.2zM1083.8 375.1l0.0 1.2l-1.4-0.7l2.0 6.7l2.0-6.8l-1.3 0.7l-0.0-1.2zM1083.8 368.8l0.0 1.2l-1.4-0.7l2.0 6.7l2.0-6.8l-1.3 0.7l-0.0-1.2zM1083.8 362.4l-0.0 1.2l-1.3-0.7l2.0 6.8l2.0-6.7l-1.4 0.7l0.0-1.2zM1083.8 356.1l-0.0 1.1l-1.3-0.7l1.9 6.8l2.1-6.7l-1.4 0.7l0.0-1.1zM1083.8 349.7l-0.0 0.7l-1.3-0.7l1.7 6.8l2.3-6.7l-1.4 0.6l0.0-0.7zM1083.9 343.5l0.0 0.6l-1.2-0.6l2.0 6.1l1.7-6.2l-1.2 0.6l-0.0-0.6zM1083.9 337.5l0.9 1.4l-1.5 0.2l5.4 4.5l-2.0-6.8l-0.8 1.3l-0.9-1.4zM1084.2 331.4l9.0 5.0l-1.2 0.8l6.9 1.5l-4.9-5.1l-0.1 1.5l-9.0-5.0zM1084.3 325.1l22.6 6.9l-1.0 1.1l7.0 0.0l-5.9-3.9l0.3 1.5l-22.6-6.9zM1084.4 318.8l31.2 5.5l-0.9 1.2l7.0-0.8l-6.3-3.2l0.4 1.4l-31.2-5.5zM1084.4 312.4l26.6 2.4l-0.8 1.3l6.9-1.4l-6.5-2.6l0.5 1.4l-26.6-2.4zM1084.5 306.1l8.3 0.3l-0.7 1.3l6.8-1.8l-6.7-2.3l0.6 1.4l-8.3-0.3zM1091.1 451.3l0.2 0.1l-0.3 0.3l2.1 0.2l-1.6-1.3l0.0 0.4l-0.2-0.1zM1090.8 445.2l0.4 0.4l-1.1 0.4l4.9 2.6l-2.6-4.9l-0.4 1.1l-0.4-0.4zM1090.6 438.8l1.2 2.2l-1.5 0.1l5.0 4.9l-1.5-6.9l-0.9 1.2l-1.2-2.2zM1090.5 432.3l1.4 5.0l-1.5-0.3l3.8 5.9l0.1-7.0l-1.1 1.0l-1.4-5.0zM1090.5 425.8l0.6 6.5l-1.4-0.5l2.7 6.5l1.4-6.9l-1.3 0.8l-0.6-6.5zM1090.5 419.5l0.1 6.7l-1.4-0.6l2.2 6.7l1.9-6.8l-1.3 0.7l-0.1-6.7zM1090.5 413.1l0.0 6.6l-1.4-0.7l2.0 6.7l2.0-6.8l-1.3 0.7l-0.0-6.6zM1090.5 406.8l0.0 6.6l-1.4-0.7l2.0 6.7l2.0-6.8l-1.3 0.7l-0.0-6.6zM1090.5 400.4l0.0 6.6l-1.4-0.7l2.0 6.7l2.0-6.8l-1.3 0.7l-0.0-6.6zM1090.5 394.1l-0.0 6.6l-1.3-0.7l2.0 6.8l2.0-6.7l-1.4 0.7l0.0-6.6zM1090.5 387.8l0.0 6.6l-1.4-0.7l2.0 6.7l2.0-6.8l-1.3 0.7l-0.0-6.6zM1090.5 381.4l0.0 6.5l-1.4-0.7l2.0 6.7l2.0-6.8l-1.3 0.7l-0.0-6.5zM1090.5 375.1l0.0 6.5l-1.4-0.7l2.0 6.7l2.0-6.8l-1.3 0.7l-0.0-6.5zM1090.5 368.8l0.0 6.5l-1.4-0.7l2.0 6.7l2.0-6.8l-1.3 0.7l-0.0-6.5zM1090.5 362.4l-0.0 6.5l-1.3-0.7l2.0 6.8l2.0-6.7l-1.4 0.7l0.0-6.5zM1090.5 356.1l-0.1 6.4l-1.3-0.7l1.9 6.8l2.2-6.7l-1.4 0.6l0.1-6.4zM1090.5 349.7l-0.4 6.4l-1.3-0.8l1.6 6.9l2.4-6.6l-1.4 0.6l0.4-6.4zM1090.5 343.4l-0.4 6.0l-1.3-0.8l1.6 6.9l2.5-6.6l-1.4 0.6l0.4-6.0zM1090.5 337.3l1.6 4.7l-1.5-0.2l4.1 5.8l-0.2-7.0l-1.1 1.1l-1.6-4.7zM1090.8 331.4l9.4 5.3l-1.3 0.8l6.9 1.6l-4.9-5.1l-0.1 1.5l-9.4-5.3zM1091.0 325.1l21.5 4.8l-1.0 1.2l7.0-0.5l-6.1-3.5l0.4 1.5l-21.5-4.8zM1091.1 318.8l28.5 2.8l-0.8 1.3l6.9-1.4l-6.5-2.7l0.5 1.4l-28.5-2.8zM1091.2 312.4l24.2 0.7l-0.7 1.3l6.8-1.8l-6.7-2.2l0.6 1.4l-24.2-0.7zM1091.2 306.1l7.6-0.0l-0.7 1.4l6.7-2.0l-6.8-2.0l0.7 1.3l-7.6 0.0zM1097.8 451.5l0.4 0.1l-0.5 0.7l4.0-0.4l-3.6-1.9l0.2 0.8l-0.4-0.1zM1097.6 445.4l1.8 0.9l-1.2 0.9l7.0 1.2l-5.2-4.8l0.0 1.5l-1.8-0.9zM1097.4 439.0l3.1 2.7l-1.4 0.6l6.4 2.9l-3.8-5.9l-0.4 1.5l-3.1-2.7zM1097.3 432.5l2.2 3.4l-1.5 0.2l5.4 4.5l-2.0-6.8l-0.8 1.3l-2.2-3.4zM1097.2 425.9l0.3 2.1l-1.4-0.5l2.9 6.4l1.1-7.0l-1.2 0.9l-0.3-2.1zM1097.2 419.5l0.0 1.4l-1.4-0.7l2.1 6.7l1.9-6.8l-1.3 0.7l-0.0-1.4zM1097.2 413.1l0.0 1.3l-1.4-0.7l2.0 6.7l2.0-6.8l-1.3 0.7l-0.0-1.3zM1097.2 406.8l0.0 1.3l-1.4-0.7l2.0 6.7l2.0-6.8l-1.3 0.7l-0.0-1.3zM1097.2 400.4l0.0 1.2l-1.4-0.7l2.0 6.7l2.0-6.8l-1.3 0.7l-0.0-1.2zM1097.2 394.1l-0.0 1.2l-1.3-0.7l2.0 6.8l2.0-6.7l-1.4 0.7l0.0-1.2zM1097.2 387.8l0.0 1.2l-1.4-0.7l2.0 6.7l2.0-6.8l-1.3 0.7l-0.0-1.2zM1097.2 381.4l0.0 1.2l-1.4-0.7l2.0 6.7l2.0-6.8l-1.3 0.7l-0.0-1.2zM1097.2 375.1l0.0 1.2l-1.4-0.7l2.0 6.7l2.0-6.8l-1.3 0.7l-0.0-1.2zM1097.2 368.8l0.0 1.2l-1.4-0.7l2.0 6.7l2.0-6.8l-1.3 0.7l-0.0-1.2zM1097.2 362.4l-0.0 1.2l-1.3-0.7l2.0 6.8l2.0-6.7l-1.4 0.7l0.0-1.2zM1097.2 356.1l-0.0 1.2l-1.3-0.7l1.9 6.8l2.1-6.7l-1.4 0.7l0.0-1.2zM1097.2 349.7l-0.1 1.6l-1.3-0.7l1.8 6.8l2.3-6.7l-1.4 0.6l0.1-1.6zM1097.2 343.4l-0.3 2.6l-1.3-0.8l1.2 6.9l2.8-6.5l-1.4 0.5l0.3-2.6zM1097.2 337.2l0.2 2.1l-1.4-0.5l2.7 6.5l1.3-6.9l-1.3 0.8l-0.2-2.1zM1097.6 331.4l6.9 2.7l-1.1 1.0l7.0 0.5l-5.6-4.3l0.1 1.5l-6.9-2.7zM1097.8 325.1l18.9 1.1l-0.8 1.3l6.9-1.6l-6.6-2.4l0.6 1.4l-18.9-1.1zM1097.9 318.8l26.1-1.1l-0.6 1.4l6.7-2.3l-6.8-1.7l0.7 1.3l-26.1 1.1zM1097.9 312.4l23.6-2.0l-0.6 1.4l6.6-2.6l-6.9-1.5l0.8 1.3l-23.6 2.0zM1097.9 306.1l8.4-0.5l-0.6 1.4l6.6-2.4l-6.9-1.6l0.8 1.3l-8.4 0.5zM1104.5 451.6l0.5 0.1l-0.6 1.0l5.5-1.1l-5.2-2.2l0.4 1.1l-0.5-0.1zM1104.4 445.4l3.9 1.0l-1.0 1.1l7.0-0.3l-6.0-3.7l0.3 1.5l-3.9-1.0zM1104.3 439.1l3.3 1.4l-1.2 1.0l7.0 0.8l-5.4-4.5l0.1 1.5l-3.3-1.4zM1104.4 432.5l0.4 0.2l-0.8 0.7l4.9 0.7l-3.7-3.2l0.0 1.0l-0.4-0.2zM1104.7 331.4l3.8-0.6l-0.5 1.4l6.4-3.0l-7.0-1.0l0.9 1.2l-3.8 0.6zM1104.7 325.1l16.0-3.7l-0.4 1.5l6.1-3.5l-7.0-0.4l1.0 1.2l-16.0 3.7zM1104.7 318.8l24.5-6.3l-0.3 1.5l6.0-3.6l-7.0-0.3l1.0 1.1l-24.5 6.3zM1104.7 312.4l25.0-6.4l-0.3 1.5l6.0-3.6l-7.0-0.3l1.0 1.1l-25.0 6.4zM1104.7 306.1l12.3-2.6l-0.4 1.5l6.2-3.4l-7.0-0.6l0.9 1.2l-12.3 2.6zM1111.2 451.8l0.7 0.0l-0.7 1.3l6.6-1.6l-6.4-2.3l0.6 1.3l-0.7-0.0zM1111.1 445.4l5.5 0.9l-0.9 1.2l7.0-0.9l-6.3-3.1l0.5 1.4l-5.5-0.9zM1111.0 439.1l2.7 0.9l-1.1 1.1l7.0 0.3l-5.7-4.1l0.2 1.5l-2.7-0.9zM1111.2 432.3l0.2 0.1l-0.3 0.2l1.9 0.5l-1.3-1.4l-0.0 0.4l-0.2-0.1zM1111.6 331.2l0.4-0.3l0.2 1.2l3.4-4.4l-5.3 1.8l1.1 0.5l-0.4 0.3zM1111.6 325.0l12.3-7.3l0.1 1.5l4.8-5.2l-6.8 1.7l1.3 0.8l-12.3 7.3zM1111.6 318.7l22.9-11.6l0.0 1.5l5.1-4.9l-6.9 1.3l1.2 0.9l-22.9 11.6zM1111.5 312.4l26.5-12.6l-0.0 1.5l5.2-4.7l-7.0 1.1l1.2 0.9l-26.5 12.6zM1111.6 306.0l18.4-10.5l0.1 1.5l4.9-5.1l-6.9 1.6l1.3 0.8l-18.4 10.5zM1111.7 299.6l1.0-0.9l0.4 1.5l3.7-6.0l-6.4 3.0l1.4 0.6l-1.0 0.9zM1117.9 451.8l1.2 0.0l-0.7 1.3l6.8-1.9l-6.7-2.2l0.6 1.4l-1.2-0.0zM1117.9 445.4l6.6 0.4l-0.8 1.3l6.9-1.6l-6.6-2.5l0.6 1.4l-6.6-0.4zM1117.9 439.1l1.8 0.2l-0.8 1.3l6.9-1.3l-6.5-2.8l0.5 1.4l-1.8-0.2zM1118.4 325.0l2.9-2.5l0.4 1.5l3.8-5.9l-6.4 2.8l1.4 0.6l-2.9 2.5zM1118.3 318.7l19.4-13.5l0.2 1.5l4.4-5.5l-6.7 2.2l1.3 0.7l-19.4 13.5zM1118.3 312.3l26.5-16.3l0.1 1.5l4.7-5.3l-6.8 1.8l1.3 0.8l-26.5 16.3zM1118.3 306.0l22.4-15.8l0.2 1.5l4.3-5.5l-6.7 2.2l1.3 0.7l-22.4 15.8zM1118.4 299.6l11.1-9.8l0.4 1.5l3.7-6.0l-6.4 3.0l1.4 0.6l-11.1 9.8zM1118.4 293.2l0.4-0.5l0.5 1.4l3.1-5.9l-5.9 3.2l1.4 0.4l-0.4 0.5zM1124.6 451.8l1.4 0.0l-0.7 1.3l6.8-2.0l-6.7-2.0l0.7 1.4l-1.4-0.0zM1124.6 445.5l6.8 0.1l-0.7 1.3l6.8-2.0l-6.7-2.1l0.7 1.4l-6.8-0.1zM1124.6 439.1l1.3 0.0l-0.7 1.3l6.8-2.0l-6.7-2.1l0.7 1.4l-1.3-0.0zM1124.9 318.7l10.2-4.3l-0.1 1.5l5.4-4.5l-7.0 0.8l1.1 1.0l-10.2 4.3zM1125.0 312.4l22.8-13.3l0.1 1.5l4.8-5.1l-6.9 1.6l1.3 0.8l-22.8 13.3zM1125.0 306.0l23.2-17.1l0.3 1.5l4.2-5.6l-6.6 2.4l1.3 0.7l-23.2 17.1zM1125.1 299.6l17.2-15.8l0.4 1.5l3.6-6.1l-6.3 3.1l1.4 0.5l-17.2 15.8zM1125.1 293.2l9.3-10.0l0.5 1.4l3.1-6.3l-6.1 3.6l1.4 0.4l-9.3 10.0zM1125.1 286.9l0.8-0.9l0.6 1.4l3.0-6.4l-6.0 3.7l1.5 0.4l-0.8 0.9zM1131.3 451.8l1.4-0.0l-0.7 1.4l6.7-2.0l-6.8-2.0l0.7 1.3l-1.4 0.0zM1131.3 445.5l6.8-0.0l-0.7 1.4l6.7-2.1l-6.8-2.0l0.7 1.3l-6.8 0.0zM1131.3 439.1l1.3-0.0l-0.7 1.4l6.7-2.0l-6.8-2.0l0.7 1.3l-1.3 0.0zM1131.5 318.8l1.9-0.5l-0.3 1.5l6.0-3.7l-7.0-0.2l1.0 1.1l-1.9 0.5zM1131.6 312.4l14.5-7.6l0.0 1.5l5.0-4.9l-6.9 1.3l1.2 0.9l-14.5 7.6zM1131.7 306.0l19.6-14.7l0.3 1.5l4.2-5.7l-6.6 2.4l1.4 0.7l-19.6 14.7zM1131.8 299.6l18.3-18.0l0.5 1.4l3.4-6.2l-6.2 3.3l1.4 0.5l-18.3 18.0zM1131.9 293.2l14.2-17.5l0.6 1.4l2.7-6.5l-5.8 4.0l1.5 0.3l-14.2 17.5zM1131.9 286.8l9.5-14.4l0.8 1.3l2.0-6.7l-5.4 4.5l1.5 0.2l-9.5 14.4zM1132.0 280.3l2.3-8.6l1.1 1.0l-0.3-7.0l-3.7 6.0l1.5-0.3l-2.3 8.6zM1132.0 273.8l0.3-5.0l1.3 0.8l-1.6-6.9l-2.4 6.6l1.4-0.6l-0.3 5.0zM1132.0 267.5l0.1-4.1l1.3 0.7l-1.9-6.8l-2.1 6.7l1.4-0.7l-0.1 4.1zM1132.0 261.1l0.1-3.6l1.3 0.7l-1.9-6.8l-2.2 6.7l1.4-0.6l-0.1 3.6zM1132.0 254.8l0.1-2.9l1.3 0.7l-1.7-6.8l-2.3 6.7l1.4-0.6l-0.1 2.9zM1132.0 248.5l0.1-1.6l1.3 0.8l-1.5-6.9l-2.5 6.6l1.4-0.6l-0.1 1.6zM1131.9 242.2l0.1-0.6l1.1 0.7l-1.1-6.2l-2.5 5.7l1.3-0.4l-0.1 0.6zM1131.7 235.9l0.1-0.4l0.7 0.6l-0.4-4.2l-2.0 3.7l0.9-0.2l-0.1 0.4zM1131.5 229.5l0.1-0.2l0.3 0.3l0.2-2.2l-1.3 1.7l0.5-0.0l-0.1 0.2zM1138.0 451.8l1.4-0.0l-0.7 1.4l6.7-2.0l-6.8-2.0l0.7 1.3l-1.4 0.0zM1138.0 445.5l6.8-0.0l-0.7 1.4l6.7-2.0l-6.8-2.0l0.7 1.3l-6.8 0.0zM1138.0 439.1l1.4-0.0l-0.7 1.4l6.7-2.0l-6.8-2.0l0.7 1.3l-1.4 0.0zM1138.1 318.5l0.4-0.1l-0.1 0.8l3.3-2.3l-4.0 0.1l0.6 0.6l-0.4 0.1zM1138.4 312.4l6.5-3.7l0.1 1.5l4.8-5.1l-6.9 1.6l1.3 0.8l-6.5 3.7zM1138.4 306.0l12.9-10.7l0.3 1.5l3.9-5.9l-6.5 2.8l1.4 0.6l-12.9 10.7zM1138.5 299.6l15.0-16.7l0.6 1.4l3.0-6.4l-6.0 3.7l1.5 0.4l-15.0 16.7zM1138.6 293.2l13.8-20.3l0.7 1.3l2.1-6.7l-5.5 4.4l1.5 0.2l-13.8 20.3zM1138.6 286.7l10.7-22.2l0.9 1.2l1.1-7.0l-4.8 5.2l1.5-0.0l-10.7 22.2zM1138.7 280.3l5.9-22.1l1.1 1.0l-0.2-7.0l-3.7 6.0l1.5-0.3l-5.9 22.1zM1138.7 273.8l2.2-20.2l1.3 0.8l-1.3-6.9l-2.8 6.5l1.4-0.5l-2.2 20.2zM1138.7 267.5l0.9-18.7l1.3 0.7l-1.7-6.8l-2.3 6.6l1.4-0.6l-0.9 18.7zM1138.7 261.1l0.9-17.6l1.3 0.7l-1.7-6.8l-2.4 6.6l1.4-0.6l-0.9 17.6zM1138.7 254.8l1.5-16.1l1.3 0.8l-1.4-6.9l-2.6 6.5l1.4-0.5l-1.5 16.1zM1138.7 248.6l2.2-13.5l1.2 0.9l-0.9-7.0l-3.1 6.3l1.4-0.4l-2.2 13.5zM1138.7 242.3l2.5-9.8l1.1 1.0l-0.3-7.0l-3.6 6.0l1.5-0.3l-2.5 9.8zM1138.6 236.0l2.2-5.5l1.0 1.1l0.6-7.0l-4.3 5.6l1.5-0.1l-2.2 5.5zM1138.6 229.8l0.9-1.4l0.8 1.3l2.0-6.8l-5.4 4.5l1.5 0.2l-0.9 1.4zM1138.4 223.4l0.3-0.4l0.4 1.0l2.0-4.5l-4.2 2.7l1.0 0.3l-0.3 0.4zM1144.7 451.8l1.4 0.0l-0.7 1.3l6.8-2.0l-6.7-2.0l0.7 1.4l-1.4-0.0zM1144.7 445.5l6.9-0.0l-0.7 1.4l6.7-2.0l-6.8-2.0l0.7 1.3l-6.9 0.0zM1144.7 439.1l1.4-0.0l-0.7 1.4l6.7-2.0l-6.8-2.0l0.7 1.3l-1.4 0.0zM1145.1 312.3l0.8-0.6l0.3 1.5l4.0-5.8l-6.5 2.7l1.4 0.6l-0.8 0.6zM1145.2 305.9l6.0-6.5l0.5 1.4l3.1-6.3l-6.1 3.6l1.5 0.4l-6.0 6.5zM1145.3 299.5l9.5-13.0l0.7 1.3l2.3-6.6l-5.6 4.3l1.5 0.2l-9.5 13.0zM1145.3 293.1l10.1-18.2l0.9 1.2l1.5-6.9l-5.0 4.9l1.5 0.1l-10.1 18.2zM1145.3 286.7l8.4-22.3l1.0 1.1l0.5-7.0l-4.3 5.6l1.5-0.2l-8.4 22.3zM1145.4 280.3l5.5-25.1l1.2 1.0l-0.5-7.0l-3.4 6.2l1.5-0.4l-5.5 25.1zM1145.4 273.8l2.9-26.2l1.3 0.8l-1.3-6.9l-2.8 6.5l1.4-0.5l-2.9 26.2zM1145.4 267.5l1.6-26.4l1.3 0.8l-1.6-6.9l-2.4 6.6l1.4-0.6l-1.6 26.4zM1145.4 261.2l1.9-26.0l1.3 0.8l-1.5-6.9l-2.5 6.6l1.4-0.6l-1.9 26.0zM1145.4 254.9l3.5-24.9l1.2 0.9l-1.1-7.0l-2.9 6.4l1.4-0.5l-3.5 24.9zM1145.4 248.6l5.6-22.1l1.1 1.0l-0.3-7.0l-3.6 6.0l1.5-0.3l-5.6 22.1zM1145.3 242.4l7.0-17.5l1.0 1.1l0.6-7.0l-4.4 5.5l1.5-0.1l-7.0 17.5zM1145.3 236.1l7.0-11.9l0.8 1.3l1.7-6.8l-5.2 4.8l1.5 0.1l-7.0 11.9zM1145.2 229.9l5.6-6.4l0.6 1.4l2.9-6.4l-6.0 3.8l1.5 0.4l-5.6 6.4zM1145.2 223.6l4.2-3.9l0.4 1.4l3.5-6.1l-6.3 3.2l1.4 0.5l-4.2 3.9zM1145.0 217.4l2.4-1.2l-0.0 1.5l5.2-4.7l-7.0 1.1l1.2 0.9l-2.4 1.2zM1151.4 451.8l1.6 0.1l-0.7 1.3l6.8-1.8l-6.7-2.3l0.6 1.4l-1.6-0.1zM1151.4 445.5l6.6-0.0l-0.7 1.4l6.7-2.0l-6.8-2.0l0.7 1.3l-6.6 0.0zM1151.4 439.1l1.6-0.1l-0.6 1.4l6.7-2.3l-6.8-1.8l0.7 1.3l-1.6 0.1zM1151.5 311.9l0.1-0.1l0.2 0.4l0.7-1.6l-1.5 1.0l0.4 0.1l-0.1 0.1zM1152.0 305.8l0.3-0.6l0.9 1.2l1.4-6.7l-4.8 4.9l1.5 0.0l-0.3 0.6zM1152.0 299.5l4.0-6.5l0.8 1.3l1.8-6.8l-5.3 4.7l1.5 0.1l-4.0 6.5zM1152.0 293.0l5.1-11.8l1.0 1.2l0.8-7.0l-4.5 5.4l1.5-0.1l-5.1 11.8zM1152.1 286.6l4.4-16.9l1.1 1.0l-0.3-7.0l-3.7 6.0l1.5-0.3l-4.4 16.9zM1152.1 280.2l3.0-20.9l1.2 0.9l-1.0-7.0l-3.0 6.4l1.4-0.5l-3.0 20.9zM1152.1 273.8l1.7-23.5l1.3 0.8l-1.5-6.9l-2.5 6.6l1.4-0.6l-1.7 23.5zM1152.1 267.5l1.2-24.9l1.3 0.7l-1.7-6.8l-2.3 6.6l1.4-0.6l-1.2 24.9zM1152.1 261.2l1.8-25.9l1.3 0.8l-1.5-6.9l-2.5 6.6l1.4-0.6l-1.8 25.9zM1152.1 254.9l4.5-26.7l1.2 0.9l-0.9-7.0l-3.1 6.3l1.4-0.4l-4.5 26.7zM1152.0 248.7l9.1-25.2l1.0 1.1l0.4-7.0l-4.2 5.7l1.5-0.2l-9.1 25.2zM1152.0 242.5l12.3-20.5l0.8 1.3l1.7-6.8l-5.2 4.8l1.5 0.1l-12.3 20.5zM1151.9 236.2l12.7-14.9l0.6 1.4l2.9-6.4l-5.9 3.8l1.5 0.4l-12.7 14.9zM1152.0 229.7l4.2-8.3l0.9 1.2l1.2-6.9l-4.8 5.1l1.5 0.0l-4.2 8.3zM1152.0 223.5l2.7-3.8l0.7 1.3l2.2-6.7l-5.5 4.4l1.5 0.2l-2.7 3.8zM1151.6 217.4l5.5-2.1l-0.1 1.5l5.6-4.3l-7.0 0.5l1.1 1.0l-5.5 2.1zM1158.0 451.8l1.2 0.2l-0.9 1.2l7.0-0.9l-6.4-3.1l0.5 1.4l-1.2-0.2zM1158.1 445.5l3.5 0.0l-0.7 1.3l6.8-2.0l-6.7-2.0l0.7 1.4l-3.5-0.0zM1158.2 439.1l1.2-0.2l-0.5 1.4l6.4-3.1l-7.0-1.0l0.9 1.2l-1.2 0.2zM1158.3 299.3l0.2-0.3l0.3 0.6l0.9-3.0l-2.4 2.0l0.7 0.1l-0.2 0.3zM1158.7 292.9l0.3-1.3l1.1 1.0l-0.3-7.0l-3.6 6.0l1.5-0.3l-0.3 1.3zM1158.8 286.5l0.6-4.9l1.3 0.8l-1.2-6.9l-2.8 6.5l1.4-0.5l-0.6 4.9zM1158.8 280.1l0.4-7.4l1.3 0.8l-1.6-6.9l-2.4 6.6l1.4-0.6l-0.4 7.4zM1158.8 273.8l0.3-9.0l1.3 0.7l-1.8-6.8l-2.2 6.7l1.4-0.6l-0.3 9.0zM1158.8 267.5l0.2-9.9l1.3 0.7l-1.9-6.8l-2.2 6.7l1.4-0.6l-0.2 9.9zM1158.8 261.1l0.4-11.0l1.3 0.7l-1.8-6.8l-2.3 6.7l1.4-0.6l-0.4 11.0zM1158.8 254.9l2.3-14.0l1.2 0.9l-0.9-7.0l-3.1 6.3l1.4-0.4l-2.3 14.0zM1158.6 248.8l10.2-13.8l0.7 1.3l2.4-6.6l-5.6 4.2l1.5 0.3l-10.2 13.8zM1158.7 242.5l9.3-14.9l0.8 1.3l1.8-6.8l-5.3 4.7l1.5 0.1l-9.3 14.9zM1158.5 236.3l23.4-18.1l0.3 1.5l4.1-5.7l-6.6 2.5l1.4 0.7l-23.4 18.1zM1158.4 230.0l22.9-12.5l0.1 1.5l4.9-5.0l-6.9 1.5l1.2 0.9l-22.9 12.5zM1158.3 223.7l22.3-7.6l-0.2 1.5l5.7-4.1l-7.0 0.3l1.1 1.1l-22.3 7.6zM1158.3 217.4l8.0-2.5l-0.2 1.5l5.8-3.9l-7.0 0.1l1.0 1.1l-8.0 2.5z" fill="#2000ff"/>
<rect x="663.65" y="83.75" width="528.85" height="500.7" fill="none" stroke="#000" stroke-width="0.96"/>
<path d="M693.62 584.45v4.2M663.65 556.41h-4.2M760.51 584.45v4.2M663.65 493.21h-4.2M827.52 584.45v4.2M663.65 429.62h-4.2M894.48 584.45v4.2M663.65 366.41h-4.2M961.19 584.45v4.2M663.65 303.1h-4.2M1028.57 584.45v4.2M663.65 239.5h-4.2M1095.52 584.45v4.2M663.65 176.5h-4.2M1162.52 584.45v4.2M663.65 113h-4.2" stroke="#000" stroke-width="0.96"/>
<text x="693.62" y="602.7" text-anchor="middle" font-size="11.8">0.00</text>
<text x="654.75" y="560.91" text-anchor="end" font-size="11.8">0.00</text>
<text x="760.51" y="602.7" text-anchor="middle" font-size="11.8">0.02</text>
<text x="654.75" y="497.71" text-anchor="end" font-size="11.8">0.02</text>
<text x="827.52" y="602.7" text-anchor="middle" font-size="11.8">0.04</text>
<text x="654.75" y="434.12" text-anchor="end" font-size="11.8">0.04</text>
<text x="894.48" y="602.7" text-anchor="middle" font-size="11.8">0.06</text>
<text x="654.75" y="370.91" text-anchor="end" font-size="11.8">0.06</text>
<text x="961.19" y="602.7" text-anchor="middle" font-size="11.8">0.08</text>
<text x="654.75" y="307.6" text-anchor="end" font-size="11.8">0.08</text>
<text x="1028.57" y="602.7" text-anchor="middle" font-size="11.8">0.10</text>
<text x="654.75" y="244" text-anchor="end" font-size="11.8">0.10</text>
<text x="1095.52" y="602.7" text-anchor="middle" font-size="11.8">0.12</text>
<text x="654.75" y="181" text-anchor="end" font-size="11.8">0.12</text>
<text x="1162.52" y="602.7" text-anchor="middle" font-size="11.8">0.14</text>
<text x="654.75" y="117.5" text-anchor="end" font-size="11.8">0.14</text>
<text x="928.08" y="619.4" text-anchor="middle" font-size="12">X (m)</text>
<text transform="translate(620.5 334.1) rotate(-90)" text-anchor="middle" font-size="12">Y (m)</text>
<text x="928.08" y="76.5" text-anchor="middle" font-size="14.25">Velocity Field (Ux, Uy) with Real Coordinates</text>
</svg>
</body></html>
